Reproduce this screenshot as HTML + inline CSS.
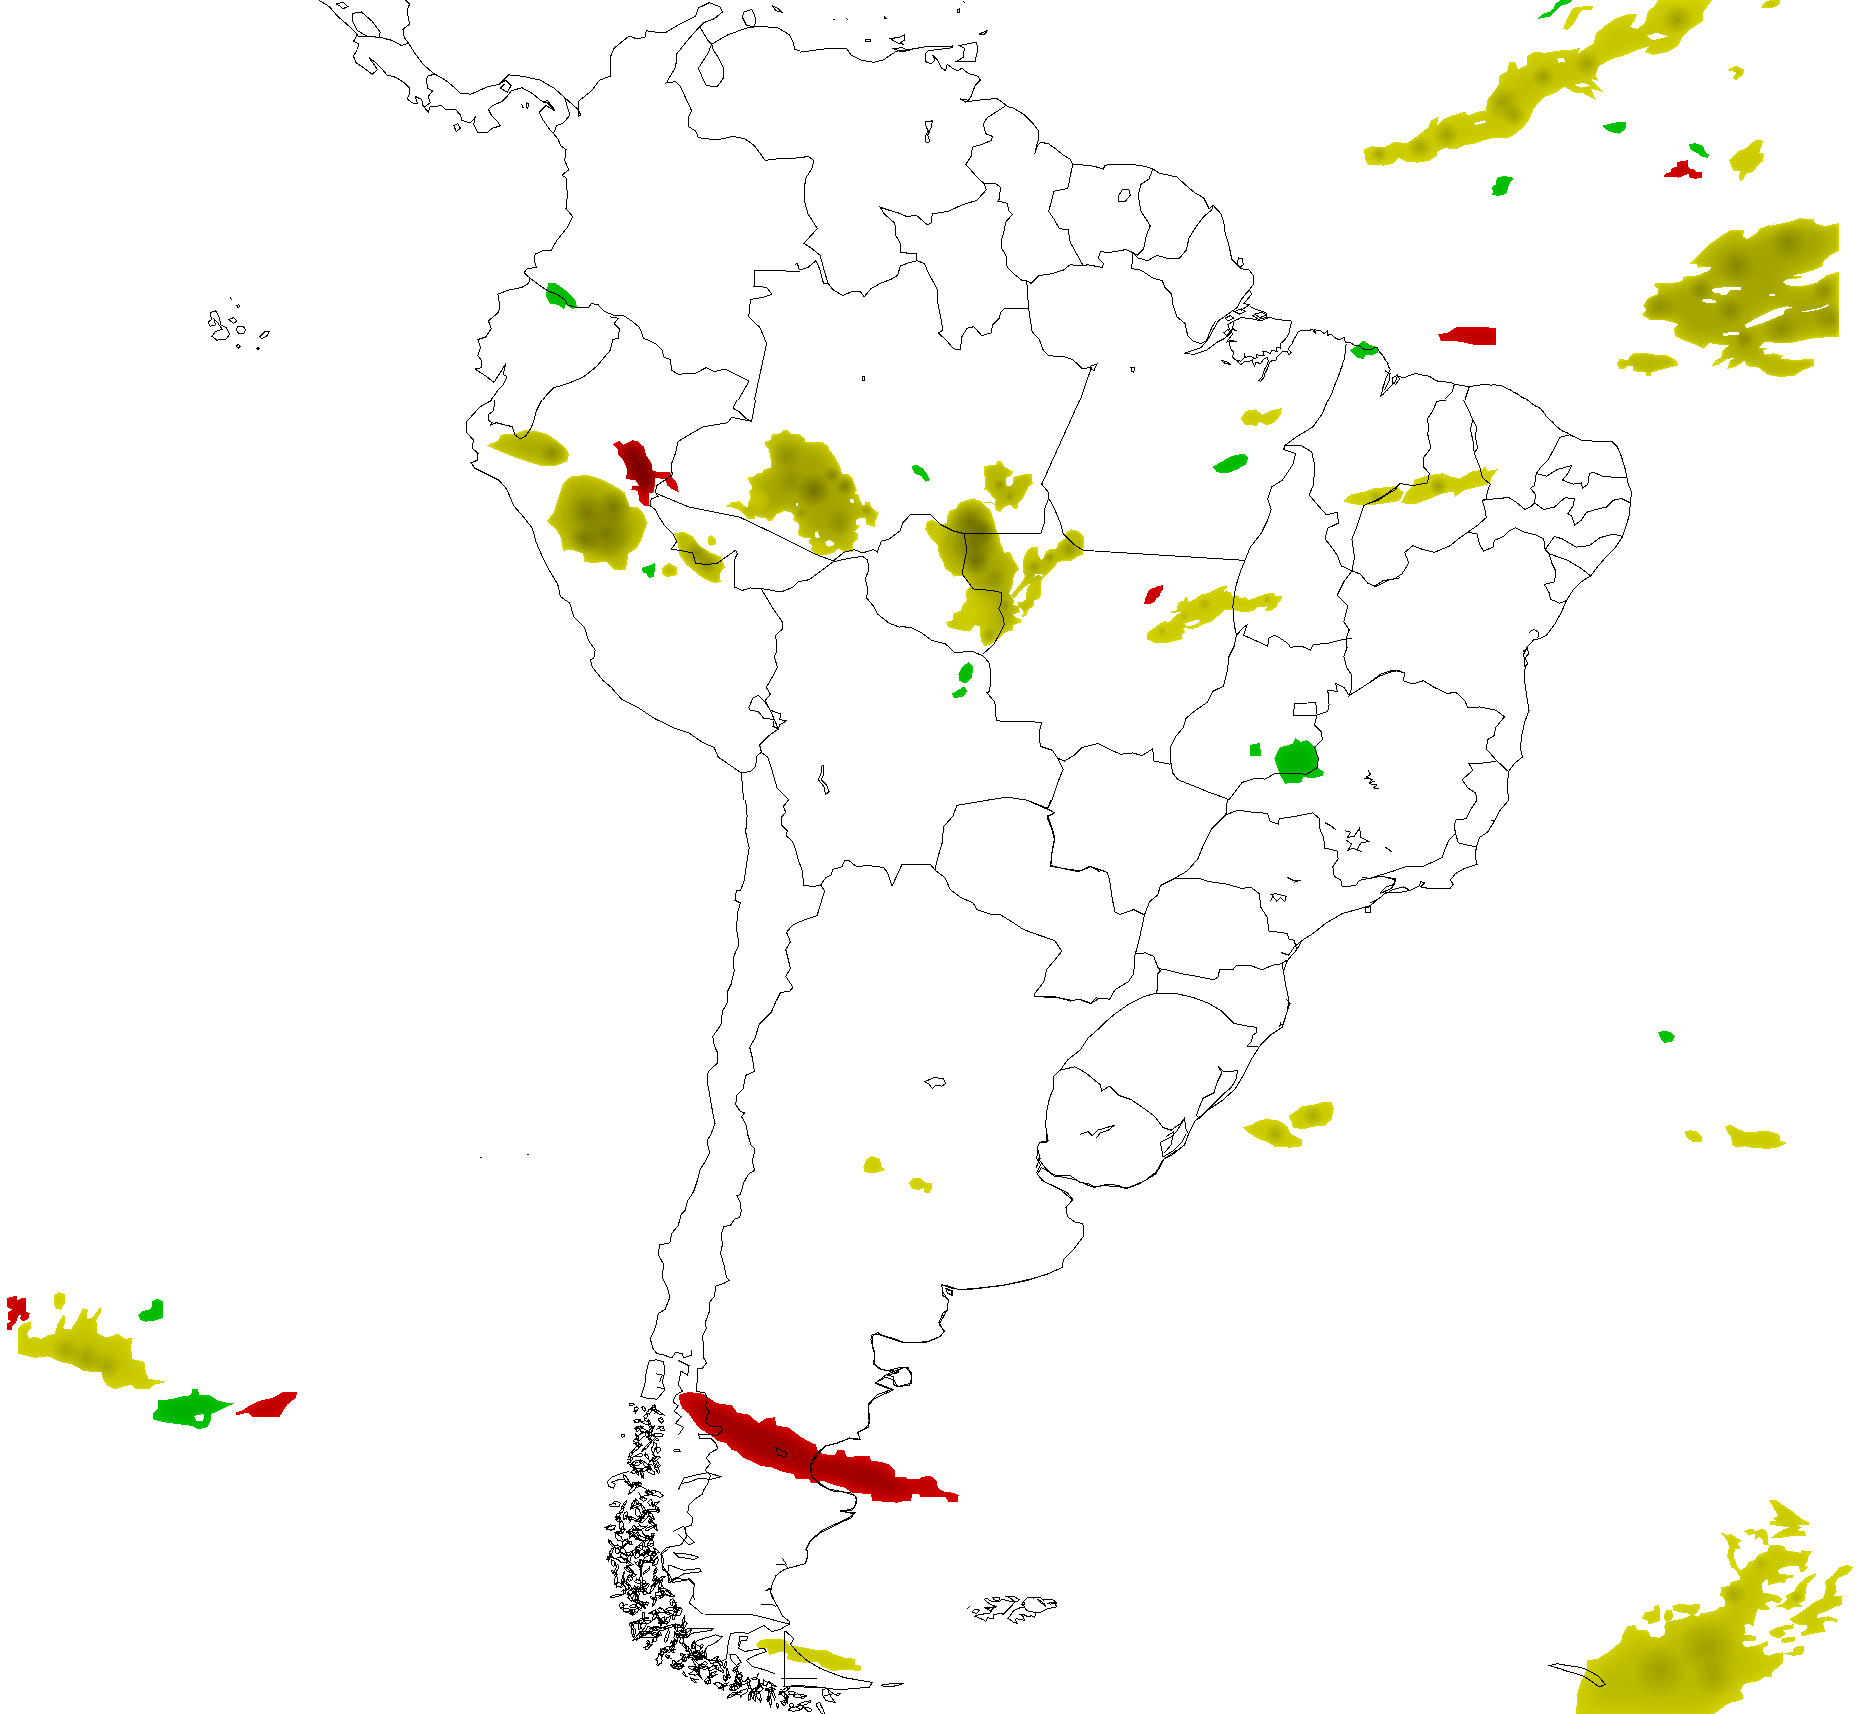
<!DOCTYPE html><html><head><meta charset="utf-8"><title>map</title><style>html,body{margin:0;padding:0;background:#fff}svg{display:block}</style></head><body>
<svg width="1870" height="1714" viewBox="0 0 1870 1714">
<defs>
<filter id="fo" filterUnits="userSpaceOnUse" x="0" y="0" width="1870" height="1714" color-interpolation-filters="sRGB">
<feGaussianBlur in="SourceAlpha" stdDeviation="3" result="b1"/>
<feComponentTransfer in="b1" result="t1"><feFuncA type="table" tableValues="0 0 0 0 0 0 0.25 0.55 0.8 0.95 1"/></feComponentTransfer>
<feGaussianBlur in="SourceAlpha" stdDeviation="10" result="b2"/>
<feComponentTransfer in="b2" result="t2"><feFuncA type="table" tableValues="0 0 0 0 0 0 0 0.1 0.35 0.7 1"/></feComponentTransfer>
<feFlood flood-color="rgb(186,186,0)" result="c1"/><feComposite in="c1" in2="t1" operator="in" result="l1"/>
<feFlood flood-color="rgb(163,163,0)" result="c2"/><feComposite in="c2" in2="t2" operator="in" result="l2"/>
<feMerge result="m"><feMergeNode in="SourceGraphic"/><feMergeNode in="l1"/><feMergeNode in="l2"/></feMerge>
<feComposite in="m" in2="SourceAlpha" operator="in"/>
</filter>
<filter id="fo2" filterUnits="userSpaceOnUse" x="0" y="0" width="1870" height="1714" color-interpolation-filters="sRGB">
<feGaussianBlur in="SourceAlpha" stdDeviation="4" result="b1"/>
<feComponentTransfer in="b1" result="t1"><feFuncA type="table" tableValues="0 0 0 0 0 0 0.25 0.55 0.8 0.95 1"/></feComponentTransfer>
<feGaussianBlur in="SourceAlpha" stdDeviation="14" result="b2"/>
<feComponentTransfer in="b2" result="t2"><feFuncA type="table" tableValues="0 0 0 0 0 0 0 0.1 0.35 0.7 1"/></feComponentTransfer>
<feFlood flood-color="rgb(202,202,0)" result="c1"/><feComposite in="c1" in2="t1" operator="in" result="l1"/>
<feFlood flood-color="rgb(186,186,0)" result="c2"/><feComposite in="c2" in2="t2" operator="in" result="l2"/>
<feMerge result="m"><feMergeNode in="SourceGraphic"/><feMergeNode in="l1"/><feMergeNode in="l2"/></feMerge>
<feComposite in="m" in2="SourceAlpha" operator="in"/>
</filter>
<filter id="fr" filterUnits="userSpaceOnUse" x="0" y="0" width="1870" height="1714" color-interpolation-filters="sRGB">
<feGaussianBlur in="SourceAlpha" stdDeviation="3" result="b1"/>
<feComponentTransfer in="b1" result="t1"><feFuncA type="table" tableValues="0 0 0 0 0 0 0.25 0.55 0.8 0.95 1"/></feComponentTransfer>
<feGaussianBlur in="SourceAlpha" stdDeviation="9" result="b2"/>
<feComponentTransfer in="b2" result="t2"><feFuncA type="table" tableValues="0 0 0 0 0 0 0 0.1 0.4 0.8 1"/></feComponentTransfer>
<feFlood flood-color="rgb(196,0,0)" result="c1"/><feComposite in="c1" in2="t1" operator="in" result="l1"/>
<feFlood flood-color="rgb(158,0,0)" result="c2"/><feComposite in="c2" in2="t2" operator="in" result="l2"/>
<feMerge result="m"><feMergeNode in="SourceGraphic"/><feMergeNode in="l1"/><feMergeNode in="l2"/></feMerge>
<feComposite in="m" in2="SourceAlpha" operator="in"/>
</filter>
<filter id="fg" filterUnits="userSpaceOnUse" x="0" y="0" width="1870" height="1714" color-interpolation-filters="sRGB">
<feGaussianBlur in="SourceAlpha" stdDeviation="3" result="b1"/>
<feComponentTransfer in="b1" result="t1"><feFuncA type="table" tableValues="0 0 0 0 0 0 0.25 0.55 0.8 0.95 1"/></feComponentTransfer>
<feGaussianBlur in="SourceAlpha" stdDeviation="8" result="b2"/>
<feComponentTransfer in="b2" result="t2"><feFuncA type="table" tableValues="0 0 0 0 0 0 0 0.1 0.4 0.8 1"/></feComponentTransfer>
<feFlood flood-color="rgb(0,185,0)" result="c1"/><feComposite in="c1" in2="t1" operator="in" result="l1"/>
<feFlood flood-color="rgb(0,175,0)" result="c2"/><feComposite in="c2" in2="t2" operator="in" result="l2"/>
<feMerge result="m"><feMergeNode in="SourceGraphic"/><feMergeNode in="l1"/><feMergeNode in="l2"/></feMerge>
<feComposite in="m" in2="SourceAlpha" operator="in"/>
</filter>
<radialGradient id="cl50"><stop offset="0" stop-color="rgb(214,214,0)" stop-opacity="0.5"/><stop offset="0.6" stop-color="rgb(214,214,0)" stop-opacity="0.3125"/><stop offset="1" stop-color="rgb(214,214,0)" stop-opacity="0"/></radialGradient>
<radialGradient id="cl60"><stop offset="0" stop-color="rgb(214,214,0)" stop-opacity="0.6"/><stop offset="0.6" stop-color="rgb(214,214,0)" stop-opacity="0.375"/><stop offset="1" stop-color="rgb(214,214,0)" stop-opacity="0"/></radialGradient>
<radialGradient id="cl80"><stop offset="0" stop-color="rgb(214,214,0)" stop-opacity="0.8"/><stop offset="0.6" stop-color="rgb(214,214,0)" stop-opacity="0.5"/><stop offset="1" stop-color="rgb(214,214,0)" stop-opacity="0"/></radialGradient>
<radialGradient id="cr50"><stop offset="0" stop-color="rgb(100,0,0)" stop-opacity="0.5"/><stop offset="0.5" stop-color="rgb(100,0,0)" stop-opacity="0.25"/><stop offset="1" stop-color="rgb(100,0,0)" stop-opacity="0"/></radialGradient>
<radialGradient id="cr60"><stop offset="0" stop-color="rgb(100,0,0)" stop-opacity="0.6"/><stop offset="0.5" stop-color="rgb(100,0,0)" stop-opacity="0.3"/><stop offset="1" stop-color="rgb(100,0,0)" stop-opacity="0"/></radialGradient>
<radialGradient id="cr80"><stop offset="0" stop-color="rgb(100,0,0)" stop-opacity="0.8"/><stop offset="0.5" stop-color="rgb(100,0,0)" stop-opacity="0.4"/><stop offset="1" stop-color="rgb(100,0,0)" stop-opacity="0"/></radialGradient>
<radialGradient id="cg20"><stop offset="0" stop-color="rgb(95,95,0)" stop-opacity="0.2"/><stop offset="0.5" stop-color="rgb(95,95,0)" stop-opacity="0.1"/><stop offset="1" stop-color="rgb(95,95,0)" stop-opacity="0"/></radialGradient>
<radialGradient id="cg25"><stop offset="0" stop-color="rgb(95,95,0)" stop-opacity="0.25"/><stop offset="0.5" stop-color="rgb(95,95,0)" stop-opacity="0.125"/><stop offset="1" stop-color="rgb(95,95,0)" stop-opacity="0"/></radialGradient>
<radialGradient id="cg30"><stop offset="0" stop-color="rgb(95,95,0)" stop-opacity="0.3"/><stop offset="0.5" stop-color="rgb(95,95,0)" stop-opacity="0.15"/><stop offset="1" stop-color="rgb(95,95,0)" stop-opacity="0"/></radialGradient>
<radialGradient id="cg35"><stop offset="0" stop-color="rgb(95,95,0)" stop-opacity="0.35"/><stop offset="0.5" stop-color="rgb(95,95,0)" stop-opacity="0.175"/><stop offset="1" stop-color="rgb(95,95,0)" stop-opacity="0"/></radialGradient>
<radialGradient id="cg40"><stop offset="0" stop-color="rgb(95,95,0)" stop-opacity="0.4"/><stop offset="0.5" stop-color="rgb(95,95,0)" stop-opacity="0.2"/><stop offset="1" stop-color="rgb(95,95,0)" stop-opacity="0"/></radialGradient>
<radialGradient id="cg45"><stop offset="0" stop-color="rgb(95,95,0)" stop-opacity="0.45"/><stop offset="0.5" stop-color="rgb(95,95,0)" stop-opacity="0.225"/><stop offset="1" stop-color="rgb(95,95,0)" stop-opacity="0"/></radialGradient>
<radialGradient id="cg50"><stop offset="0" stop-color="rgb(95,95,0)" stop-opacity="0.5"/><stop offset="0.5" stop-color="rgb(95,95,0)" stop-opacity="0.25"/><stop offset="1" stop-color="rgb(95,95,0)" stop-opacity="0"/></radialGradient>
<radialGradient id="cg60"><stop offset="0" stop-color="rgb(95,95,0)" stop-opacity="0.6"/><stop offset="0.5" stop-color="rgb(95,95,0)" stop-opacity="0.3"/><stop offset="1" stop-color="rgb(95,95,0)" stop-opacity="0"/></radialGradient>
<radialGradient id="cg70"><stop offset="0" stop-color="rgb(95,95,0)" stop-opacity="0.7"/><stop offset="0.5" stop-color="rgb(95,95,0)" stop-opacity="0.35"/><stop offset="1" stop-color="rgb(95,95,0)" stop-opacity="0"/></radialGradient>
<radialGradient id="cg75"><stop offset="0" stop-color="rgb(95,95,0)" stop-opacity="0.75"/><stop offset="0.5" stop-color="rgb(95,95,0)" stop-opacity="0.375"/><stop offset="1" stop-color="rgb(95,95,0)" stop-opacity="0"/></radialGradient>
</defs>
<rect width="1870" height="1714" fill="#fff"/>
<g filter="url(#fo)" fill="rgb(214,214,0)" fill-rule="evenodd" shape-rendering="crispEdges">
<path d="M1760.4,8 1765.7,1.3 1771.1,0 1780.4,0 1779.1,5.3 1771.1,8Z"/>
<path d="M1728.3,69.5 1736.3,65.5 1744.3,69.5 1743,74.9 1736.3,79.7 1732.3,78.9 1736.3,72.2 1729.6,70.9Z"/>
<path d="M1690.2,263.7 1698.2,255.1 1708.3,245 1722.7,234.9 1729.9,230.5 1744.4,229.8 1742.9,236.3 1747.3,239.2 1755.9,233.4 1760.3,228.4 1777.6,221.9 1768.9,226.2 1781.9,223.3 1792,221.1 1802.1,217.3 1805,219 1813.7,219 1815.1,223.3 1825.2,226.2 1839,223 1839,250.7 1831,255.1 1823.8,260.9 1822.4,266.6 1813.7,270.2 1802.1,273.8 1792,275.3 1801.4,276.4 1800.7,278.2 1786.3,279.6 1783.4,282.5 1787.7,285.4 1802.1,286.1 1816.6,282.5 1826.7,275.3 1839,271.7 1839,336.7 1825.2,337.4 1809.4,338.8 1794.9,342.4 1780.5,343.2 1764.6,341.7 1760.3,346 1758.8,348.2 1768.2,348.2 1763.2,350.4 1764.6,354.7 1773.3,353.3 1783.4,355.4 1780.5,359 1794.9,359.8 1813.7,359 1813.7,366.3 1802.1,370.6 1794.9,375.6 1780.5,377.1 1767.5,374.9 1758.8,367.7 1747.3,366.3 1744.4,360.5 1737.2,366.3 1727.1,369.1 1729.9,360.5 1735.7,357.6 1727.1,359 1718.4,364.8 1711.2,366.3 1715.5,360.5 1721.3,357.6 1722.7,350.4 1729.9,344.6 1718.4,344.6 1709.7,343.2 1704,348.9 1695.3,344.6 1683.7,340.3 1675.1,335.9 1673.6,328.7 1678,324.4 1672.2,322.2 1663.5,320.1 1650.5,320.1 1641.9,315 1646.2,309.9 1643.3,305.6 1647.6,298.4 1657.8,294.1 1657.8,288.3 1654.1,286.1 1655.6,282.5 1667.9,283.2 1675.1,282.5 1682.3,281.1 1683.7,276.7 1698.2,275.3 1709.7,270.2 1711.2,267.4 1702.5,266.6 1698.2,268.1 1696.7,264.5ZM1711.2,289 1719.8,287.6 1741.5,286.8 1740.8,289.7 1729.9,290.5 1727.1,294.1 1722.7,295.5 1718.4,292.6 1714.1,292.6ZM1701.1,299.8 1709.7,298.7 1715.5,300.6 1715.5,303.4 1706.8,302.7 1703.2,302ZM1745.1,324.4 1758.8,317.2 1773.3,309.9 1786.3,306.3 1793.5,307.1 1784.8,309.9 1783.4,314.3 1773.3,318.6 1758.8,324.4 1745.8,328.7ZM1768.2,294.8 1774.7,293.8 1774.7,295.5 1768.9,295.9ZM1722.7,333 1729.9,332.3 1738.6,332.3 1738.6,334.5 1727.1,335.6 1722.7,335.9ZM1802.1,311.4 1820.9,307.8 1828.1,304.2 1828.8,305.6 1820.9,309.2 1803.6,312.5Z"/>
<path d="M1617,363.4 1619.5,359 1627.4,359.8 1633.9,352.5 1643.3,352.5 1654.9,354.7 1666.4,355.4 1676.5,360.5 1678,365.5 1669.3,367.7 1657.8,370.6 1650.5,372.8 1650.5,376.4 1646.2,376.4 1646.2,372 1632.5,371.3 1632.5,366.3 1627.4,365.5 1624.5,369.1 1619.5,369.1Z"/>
<path d="M486.9,445.5 498.9,440.1 500.3,434.8 515,433.4 525.7,429.9 539,431.6 548.4,434.8 556.4,440.1 565.8,448.1 569,453.5 567.1,461.5 556.4,465.5 543,466.3 528.3,462 515,457.5 501.6,452.1 492.2,448.1Z"/>
<path d="M546.5,521.7 553.7,512.3 557.8,498.9 563.1,482.9 571.1,476.2 587.2,474.9 600.5,478.9 613.9,485.6 624.6,492.2 629.9,507 638,507 644.7,515 647.3,523 642,539 636.6,548.4 628.6,553.7 625.9,569.8 613.9,569.8 605.9,561.8 592.5,563.1 584.5,561.8 583.2,553.7 571.1,549.7 563.1,551.1 560.4,536.4 555.1,528.3Z"/>
<path d="M726.3,506.5 731.3,502 739.5,501.4 743.5,505.5 748.1,507.5 748.6,501.4 750.6,497.4 749.1,491.3 752.7,488.2 748.6,481.1 748.1,477.6 754.7,476 756.7,473.5 761.8,473 763.9,468.9 771.5,467.9 770.5,458.8 768.9,449.6 765.4,445.6 765.4,441.5 770.5,440 772,434.4 780.1,433.4 783.2,430.3 788.2,430.3 791.3,434.4 799.4,434.4 805,438.4 805.5,441.5 815.7,442.5 821.8,442 827.9,445.6 829.9,450.6 833.5,454.7 837,460.8 840.1,465.9 842.1,474 848.2,474 852.2,477.1 854.3,483.2 856.8,490.3 854.3,494.3 858.3,494.3 861.9,504.5 864.4,505 865.5,501.4 869.5,502 871.6,507.5 878.7,513.1 876.6,518.7 874.6,521.3 874.6,527.4 871.6,525.8 865.5,524.8 865.5,518.7 860.4,517.7 856.3,519.7 856.3,524.8 860.4,524.8 857.3,529.4 853.3,531.9 858.3,532.9 858.3,539 853.3,543.1 852.8,552.2 843.1,552.2 841.1,549.7 837,549.2 835,552.2 828.9,554.3 821.8,555.3 814.7,553.3 810.6,549.2 813.6,546.2 808.6,543.1 808.6,540.1 811.6,538 805,538.5 798.4,535 798.4,530.9 799.4,524.8 793.3,519.7 794.3,515.7 790.3,512.1 784.2,511.1 776,514.7 772,521.3 768.4,521.3 766.9,518.7 760.8,517.7 754.7,515.7 754.7,519.2 747.6,518.7 742.5,512.6 737.4,509.1 731.8,507.5ZM815.2,531.9 817.7,531.4 819.7,537 816.7,538.5 815.2,536ZM824.8,542.1 828.9,540.1 834,542.1 834.5,545.1 829.9,546.7 826.8,545.6ZM850.2,499.4 853.3,498.9 853.8,502.5 850.7,503ZM795.9,503 797.9,503 797.9,506 796.2,505.5Z"/>
<path d="M674.1,533.7 683.4,531.6 692.8,536.4 699.5,545.7 710.2,552.4 720.9,556.4 724.9,567.1 719.5,573.8 720.9,581.8 714.2,583.2 702.1,577.8 694.1,571.1 686.1,564.4 679.4,555.1 678.1,544.4Z"/>
<path d="M707.5,537.7 711.5,535 716,539 715.5,544.4 710.2,545.7 707.5,543Z"/>
<path d="M662,567.9 668.7,563.1 676.7,567.1 677.5,575.1 667.4,577 662.6,575.1Z"/>
<path d="M984.2,466.3 990,465.2 995.8,464.6 997.6,460.5 1001.7,461.7 1004,466.3 1008.7,469.2 1012.7,471.6 1012.2,474.5 1006.3,478 1005.7,485 1009.8,486.2 1012.7,483.8 1013.3,476.8 1020.3,475.1 1025,473.9 1029.1,474.5 1032,473.3 1032.6,483.8 1028.5,487.3 1025,494.3 1022.7,499 1018,503.1 1017.4,509.5 1013.3,508.3 1009.8,504.8 1004,507.2 1000.5,511.8 995.8,510.7 994.7,504.8 990,502.5 983,502.5 990,501.3 994.7,503.7 995.8,500.2 992.3,496.7 987.7,490.8 984.2,489.7 985.3,483.8 984.2,473.3Z"/>
<path d="M925.2,529.3 927,521.2 932.8,520 937.5,522.3 941,524.7 946.8,522.9 947.4,516.5 949.2,510.7 956.2,508.3 959.7,502.5 966.7,500.2 973.7,498.4 980.7,501.3 985.3,506 990,509.5 992.3,515.3 994.7,522.3 995.8,529.3 999.3,534 999.9,542.2 1002.8,548 1004,553.8 1006.9,552.1 1011,552.7 1013.3,559.7 1017.4,565.5 1019.2,569 1015.7,572.5 1013.3,578.3 1012.2,587.7 1008.7,593.5 1011,595.8 1013.9,600.5 1013.3,605.2 1019.2,606.3 1019.7,612.2 1013.3,614.5 1016.8,618 1021.5,619.2 1020.9,622.7 1013.3,625 1012.7,630.2 1006.3,632 1001.7,635.5 998.2,639 994.7,641.3 990,644.8 984.7,646 980.7,641.3 980.1,626.2 974.8,625 970.2,631.4 959.7,630.2 948,627.3 946.2,622.1 953.2,620.3 953.2,613.3 960.8,611 963.2,604 966.7,600.5 966.1,591.2 970.2,585.9 966.7,580.7 963.2,576 953.8,576.6 950.9,572.5 945.1,569 943.3,562 938.7,555 938.1,545.7 931.1,538.7 928.2,534Z"/>
<path d="M1071.7,529.3 1078.7,531.1 1083.9,536.9 1083.9,544.5 1082.7,555 1076.3,557.3 1070.5,561.4 1064.7,560.8 1057.7,562 1055.3,566.7 1049.5,572.5 1043.7,577.2 1041.3,573.7 1035.5,573.7 1029.7,573.7 1025,576 1022.7,571.3 1022.7,565.5 1023.8,557.3 1027.3,550.3 1032,546.8 1037.8,547.4 1037.8,553.8 1041.3,560.8 1043.7,557.3 1046,551.5 1050.7,548.6 1055.9,549.2 1058.8,542.2 1064.7,538.7 1065.8,532.8Z"/>
<path d="M1025,576 1029.7,573.7 1035.5,573.7 1033.7,577.2 1030.8,583 1025,586.5 1020.3,591.2 1014.5,598.2 1011,595.8 1014.5,591.2 1019.2,585.3 1022.7,580.7Z"/>
<path d="M1043.7,577.2 1041.3,581.8 1041.3,592.3 1040.2,598.2 1034.3,600.5 1033.7,606.3 1028.5,609.8 1026.2,615.7 1021.5,617.4 1023.8,612.2 1021.5,608.7 1018,606.3 1017.4,601.7 1022.7,601.7 1026.2,599.3 1026.7,588.8 1030.8,583 1033.7,577.2 1037.8,574.8Z"/>
</g>
<g filter="url(#fo2)" fill="rgb(214,214,0)" fill-rule="evenodd" shape-rendering="crispEdges">
<path d="M1364.2,149.2 1371.6,146.3 1385,147.3 1394.7,141.5 1406.2,143.4 1417.8,135.7 1428.3,127.1 1431.2,120.3 1438.9,116.5 1437,125.1 1442.8,119.4 1452.4,115.5 1464.9,111.7 1467.8,115.5 1479.4,111.3 1486.1,110.7 1487.1,100.1 1494.8,90.5 1498.6,84.7 1499.6,75.1 1507.3,71.2 1509.2,61.6 1515.9,62.6 1517.9,69.3 1526.5,65.5 1527.5,55.8 1534.2,51.6 1544.8,52.9 1560.2,50.4 1571.8,49.7 1580.4,47.7 1577.6,53.9 1587.2,47.2 1593.9,43.3 1595.8,33.7 1604.5,26 1616.1,18.3 1627.6,14.4 1637.2,13.5 1634.4,21.2 1629.5,27 1637.2,28.9 1644.9,23.1 1647.8,11.6 1654.6,5.8 1658.4,0 1712.3,0 1706.6,7.7 1703.7,10.6 1702.7,21.2 1691.2,28.9 1683.5,35.6 1677.7,46.2 1668,52 1652.6,54.9 1644.9,52 1648.8,46.2 1637.2,50.1 1625.7,54.9 1610.3,59.7 1598.7,66.4 1595.8,75.1 1598.7,80.9 1591,78.9 1598.7,87.6 1604.5,92.4 1591,88.6 1595.8,100.1 1583.3,93.4 1573.7,92.4 1564.1,86.6 1556.4,92.4 1544.8,97.2 1539.1,102 1533.3,109.7 1529.4,119.4 1523.7,127.1 1514,134.8 1506.3,138.6 1494.8,137.7 1483.2,140.5 1475.5,143.4 1464,145.4 1456.3,149.2 1444.7,148.2 1437,152.1 1437,155.9 1429.3,160.8 1417.8,162.7 1406.2,161.7 1398.5,157.9 1392.7,163.7 1383.1,165.6 1367.7,164.6 1364.8,157.9ZM1556.4,58.7 1564.1,57.8 1565,61.6 1559.3,62.6ZM1473.6,123.2 1485.1,120.3 1486.1,122.3 1475.5,125.1ZM1646.9,35.6 1656.5,32.7 1668,36.6 1660.3,38.5 1652.6,40.4ZM1573.7,84.7 1583.3,82.8 1591,85.7 1581.4,87.6Z"/>
<path d="M1563.1,28.9 1567,19.3 1571.8,9.6 1575.6,6.7 1593,6.2 1592,9.6 1581.4,10.6 1577.6,16.4 1573.7,24.1 1567.9,29.8Z"/>
<path d="M1729,161 1733.5,156.2 1738.3,151.3 1746.3,148.1 1751.1,143.3 1756.8,139.3 1763.2,140.9 1761.6,146.5 1759.2,152.9 1764,153.7 1763.2,161 1757.6,165.8 1752.7,172.2 1746.3,173.8 1743.1,180.2 1739.9,181.8 1739.1,175.4 1740.7,170.6 1733.5,170.6 1731.1,165.8Z"/>
<path d="M1240.4,418.7 1246.3,410.7 1255.6,409.4 1262.3,414.7 1270.3,410.7 1281.8,408 1281,414.7 1274.3,422.7 1266.3,425.4 1259.6,421.4 1257,425.9 1244.9,424.6Z"/>
<path d="M1147.3,632.7 1153.6,628.2 1160,623.6 1164.5,621.4 1170,621.8 1172.7,618.2 1177.3,614.5 1180.9,612.3 1171.4,612.7 1171.4,611.4 1176.4,610.5 1178.2,602.7 1183.6,600.5 1185.5,597.3 1188.2,597.7 1188.2,601.8 1193.6,600 1200.9,594.5 1207.3,593.2 1215.5,589.1 1220.9,586.8 1226.4,585 1226.8,587.3 1222.7,592.7 1226.4,590.9 1230.9,592.3 1232.7,596.4 1237.3,595 1240,598.2 1245.5,597.3 1248.2,600 1256.4,597.3 1263.6,594.5 1270,593.2 1274.5,593.5 1275.5,595.9 1281.8,596.4 1281.4,600 1278.2,602.7 1276.4,607.3 1270.9,610.5 1265.5,610.5 1267.3,606.4 1257.3,607.3 1252.7,611.4 1241.8,611.8 1233.6,610 1225.5,609.5 1220.9,613.6 1216.4,617.3 1211.8,621.8 1202.7,624.5 1197.3,627.7 1190,629.5 1185.5,627.7 1182.7,629.1 1185.5,631.8 1181.8,634.5 1182.7,639.1 1175.5,640.9 1168.2,642.7 1154.5,642.7 1147.3,639.5ZM1184.5,623.6 1193.6,620.5 1200,620 1199.1,622.7 1193.6,625 1186.4,626.4Z"/>
<path d="M1343,501.1 1350.5,494.7 1365.5,491.4 1374.1,488.2 1386.9,487.2 1397.6,485.7 1399.7,489.3 1404,492.5 1399.7,500 1397.6,501.1 1386.9,503.2 1369.8,505.3 1352.7,504.3Z"/>
<path d="M1400.8,503.2 1406.1,492.5 1412.6,486.1 1414.7,479.7 1427.5,475.4 1442.5,473.3 1451.1,476.5 1459.6,478.6 1472.5,471.1 1481,470.1 1485.3,466.8 1487.4,471.1 1498.1,469 1491.7,477.5 1489.6,484 1481,486.1 1463.9,490.4 1455.3,496.8 1453.2,491.4 1442.5,493.6 1429.7,498.9 1414.7,504.3Z"/>
<path d="M863.4,1167.6 866,1159.6 871.4,1156.1 879.4,1158.3 882.1,1167.6 885.6,1169.8 879.4,1172.2 870.1,1173.5 864.2,1171.7Z"/>
<path d="M908.8,1182.4 914.2,1177.5 920.9,1178.3 924.9,1182.4 931.6,1182.9 931.6,1189 929.4,1193.6 924.9,1193 923.5,1187.7 918.2,1190.4 911.5,1188.2Z"/>
<path d="M1243.3,1127.5 1251.3,1124.9 1258,1120.9 1266,1119 1278.1,1120.3 1286.1,1124.9 1291.4,1134.2 1302.1,1139.6 1302.1,1146.3 1291.4,1147.6 1275.4,1147.1 1267.4,1142.2 1256.7,1138.2 1248.7,1132.9Z"/>
<path d="M1288.2,1116 1295.5,1111.5 1302.1,1106.1 1315.5,1104.3 1323.5,1101.6 1331.6,1102.1 1333.7,1108.8 1331.6,1119.5 1324.9,1125.7 1312.8,1126.7 1302.1,1129.4 1292.8,1127.5 1291.4,1120.9Z"/>
<path d="M1684.2,1131.6 1690.9,1130.2 1697.5,1131.6 1702.1,1136.4 1701.6,1141.7 1692.2,1141.7 1686.8,1137.4Z"/>
<path d="M1725.1,1126.2 1731,1124.9 1737.6,1128.9 1744.3,1131.6 1755,1131.6 1768.4,1131 1779.1,1134.2 1780.4,1140.9 1787.6,1142.8 1779.1,1147.1 1768.4,1148.9 1755,1148.1 1744.3,1146.3 1737.6,1147.6 1732.3,1144.9 1731,1136.9 1727,1131.6Z"/>
<path d="M54.3,1294.9 58.8,1292.2 65,1294.1 65,1302.9 61,1309.6 56.1,1309.1 53.5,1302.9Z"/>
<path d="M18.2,1328.3 24.1,1323 31.6,1321.7 30.7,1328.3 26.7,1333.7 29.4,1339 34.8,1336.4 41.4,1339 48.1,1335 54.8,1333.7 57.5,1324.3 64.2,1313.6 65.5,1321.7 62.8,1328.3 70.9,1329.7 77.5,1319 82.9,1308.3 87.7,1309.6 86.9,1319 92.2,1317.6 100.3,1307 101.6,1311 96.3,1320.3 97.6,1333.7 107,1337.7 117.6,1333.7 125.7,1339 132.9,1337.7 131,1345.7 132.4,1359.1 144.4,1361.8 145.7,1371.1 148.4,1379.1 155.1,1379.7 167.1,1381.8 155.1,1384.5 149.7,1388.5 136.4,1389.3 131,1384.5 115,1389.3 107,1385.8 102.9,1379.1 101.6,1372.5 84.2,1371.1 72.2,1364.4 60.2,1361.8 48.1,1356.4 34.8,1357.8 22.7,1355.1 18.2,1353.7Z"/>
<path d="M755.9,1644.2 761.2,1639.7 774.6,1638.9 785.3,1639.7 789.3,1645.6 801.3,1646.9 814.7,1649.6 825.4,1649.6 833.4,1654.1 844.1,1657.6 854.8,1658.9 854.8,1664.3 861.5,1666.4 860.2,1671 844.1,1669.6 833.4,1671 822.7,1666.9 817.4,1661.6 806.7,1662.9 796,1661.6 786.6,1658.9 788,1654.1 782.6,1651.4 769.3,1654.9 766.6,1648.2 758.6,1648.2Z"/>
<path d="M1575.9,1717.7 1577.2,1693.7 1581.2,1680.3 1586.6,1669.6 1586.6,1660.3 1597.3,1658.9 1608,1652.2 1621.3,1641.5 1622.7,1634.4 1627.4,1626.4 1634.7,1625 1638,1630.4 1647.4,1630.4 1651.4,1637.1 1660.1,1637.7 1665.5,1633 1664.1,1626.4 1666.1,1622.4 1673.5,1620.3 1684.2,1618.3 1692.9,1614.3 1697.5,1617 1700.2,1613.7 1708.2,1612.3 1716.3,1610.3 1719.6,1607 1725.6,1606.3 1724.3,1598.3 1720.3,1595.6 1720.9,1587.6 1729.6,1585.6 1731,1582.2 1740.3,1579.6 1739,1572.9 1741,1570.2 1746.3,1566.2 1748.3,1562.2 1755,1559.5 1759,1554.2 1767.1,1551.5 1769.7,1545.5 1777.8,1544.8 1784.4,1546.1 1785.1,1550.2 1800.5,1552.8 1801.8,1550.2 1811.8,1551.5 1808.5,1556.8 1807.2,1562.2 1804.5,1564.9 1807.8,1567.5 1803.8,1572.2 1799.8,1571.6 1799.1,1566.2 1791.1,1565.5 1783.1,1567.5 1777.8,1570.2 1779.1,1574.2 1793.8,1574.9 1793.1,1577.6 1785.8,1578.9 1785.1,1583.6 1780.4,1582.2 1772.4,1584.3 1768.4,1584.9 1767.1,1578.2 1761.7,1583.6 1762.4,1588.9 1763,1592.9 1769.7,1593.6 1777.8,1595.6 1782.4,1599 1779.1,1603.6 1771.1,1601 1764.4,1603.6 1771.1,1609 1764.4,1610.3 1757.7,1609 1755,1617 1753.7,1626.4 1748.3,1623.7 1744.3,1625 1745.7,1633 1743,1635.1 1756.4,1635.7 1756.4,1640.4 1745.7,1641.1 1741.7,1642.4 1745.7,1647.1 1755,1645.7 1761.7,1643.7 1767.1,1641.1 1768.4,1645.1 1763,1648.4 1763.7,1653.8 1768.4,1655.8 1776.4,1653.1 1783.1,1652.4 1783.1,1662.5 1777.8,1667.8 1772.4,1671.8 1771.7,1676.5 1764.4,1677.2 1757.7,1681.2 1744.3,1683.9 1740.3,1690.5 1743,1694.5 1743.7,1698.6 1737.6,1701.2 1731,1702.6 1725.6,1705.2 1718.9,1710.6 1713.6,1714.1 1712.2,1719.9Z"/>
<path d="M1769.1,1500 1776.4,1500 1784.4,1506 1792.5,1511.4 1800.5,1518.1 1808.5,1522.1 1808.5,1524.8 1797.8,1525.4 1801.8,1527.4 1796.5,1530.1 1805.2,1531.4 1805.8,1536.1 1793.8,1535.5 1787.1,1536.8 1780.4,1538.1 1771.1,1537.5 1777.8,1532.8 1784.4,1528.8 1789.8,1527.4 1780.4,1526.1 1770.4,1524.8 1770.4,1521.4 1776.4,1520.7 1772.4,1518.7 1778.4,1516.1 1773.1,1507.4Z"/>
<path d="M1744.3,1531.4 1748.3,1529.4 1753.7,1529.4 1755,1531.4 1761.7,1529 1765.7,1530.1 1768.4,1536.8 1768.4,1543.5 1769.7,1545.5 1763.7,1544.8 1763,1540.8 1759,1536.8 1755,1540.8 1755,1534.1 1748.3,1534.8Z"/>
<path d="M1720.3,1532.1 1727,1534.8 1731,1534.1 1736.3,1537.5 1741.7,1540.8 1737.6,1543.5 1741,1548.2 1735,1549.5 1733.6,1556.8 1735,1559.5 1737.6,1567.5 1741,1570.2 1739,1575.6 1735,1568.9 1731,1567.5 1729,1559.5 1727,1556.8 1729,1546.1 1726.3,1539.5Z"/>
<path d="M1785.8,1595.6 1793.8,1591.6 1799.1,1583.6 1807.2,1576.9 1816.5,1572.9 1813.9,1578.2 1807.2,1583.6 1805.8,1591.6 1804.5,1601 1799.1,1603.6 1803.2,1606.3 1792.5,1607.6 1788.4,1610.3 1783.1,1607.6 1775.1,1606.3 1783.1,1603.6 1787.1,1599.6Z"/>
<path d="M1789.1,1619 1797.8,1614.3 1807.2,1607.6 1813.9,1602.3 1823.2,1598.3 1825.9,1588.9 1825.2,1580.9 1832.6,1575.6 1839.3,1567.5 1847.3,1564.9 1853.3,1567.5 1847.3,1574.2 1837.9,1578.2 1835.2,1583.6 1836.6,1591.6 1833.9,1596.3 1842.6,1596.3 1841.9,1605 1833.9,1607.6 1825.9,1611.7 1817.9,1614.3 1816.5,1618.3 1828.6,1616.3 1837.9,1619.7 1837.2,1621.7 1825.9,1621 1823.2,1623.7 1825.2,1631.7 1812.5,1633.7 1802.5,1636.4 1800.5,1633 1807.2,1629 1807.2,1625 1799.1,1625 1792.5,1622.4Z"/>
<path d="M1768.4,1631.7 1776.4,1627.7 1785.8,1625 1793.8,1624.4 1792.5,1629 1783.1,1630.4 1785.8,1633.7 1781.8,1637.1 1777.8,1638.4 1771.1,1635.7Z"/>
<path d="M1783.1,1637.7 1795.1,1637.1 1795.1,1641.1 1784.4,1643.1 1780.4,1641.1Z"/>
<path d="M1793.8,1648.4 1797.8,1645.7 1804.5,1646.4 1803.2,1654.4 1793.8,1655.8 1783.1,1653.8 1792.5,1651.8Z"/>
<path d="M1641.4,1619 1644.7,1612.3 1653.4,1611 1654.1,1606.3 1659.4,1605 1660.1,1621 1648.7,1624.4 1647.4,1620.3Z"/>
<path d="M1663.4,1617 1666.1,1610.3 1671.5,1610.3 1673.5,1615.7 1671.5,1619.7 1666.1,1622.4Z"/>
<path d="M1672.1,1606.3 1680.2,1603.6 1689.5,1605 1700.2,1603.6 1700.2,1607.6 1696.9,1613 1692.2,1615.7 1686.8,1613 1678.8,1612.3 1673.5,1610.3Z"/>
</g>
<g filter="url(#fg)" fill="rgb(0,200,0)" fill-rule="evenodd" shape-rendering="crispEdges">
<path d="M1537.1,19.3 1541.9,14.4 1549.6,11.6 1553.5,8.7 1555.4,3.9 1561.2,0 1571.8,0 1570.8,2.3 1564.1,4.8 1559.3,6.7 1556.4,10.6 1550.6,16.4 1541,18.3Z"/>
<path d="M1602.1,125.7 1610.6,123.5 1620,121.7 1626.1,122.5 1625.3,129.7 1618.7,133.7 1612,132.4 1605.3,128.9Z"/>
<path d="M1689,144.4 1694.9,143 1702.9,145.7 1705.6,152.4 1709.6,155.1 1707.4,157.8 1701.6,156.4 1696.2,152.4 1690.9,149.7Z"/>
<path d="M1491.7,187.2 1495.7,184.5 1497,177.8 1503.7,175.9 1513.9,177.8 1509,184.5 1506.4,193.9 1498.3,196 1491.7,194.7 1493,191.2Z"/>
<path d="M545.7,295.5 548.4,283.4 555.1,282.9 561.8,287.4 568.4,292.8 575.1,299.5 577,307.5 572.5,308.8 565.8,304.8 563.9,308.8 557.8,304.8 549.7,303.5Z"/>
<path d="M642,567.9 648.7,565.8 655.3,563.1 654,577 648.7,577.8 646.5,573.8 642.8,572.5Z"/>
<path d="M911.2,466.8 916,464.7 922.7,468.2 926.7,473.5 929.9,480.2 925.4,481.6 921.4,476.2 914.7,473.5Z"/>
<path d="M1212.8,466.8 1220.9,462 1231.6,456.1 1243.6,453.5 1248.1,457.5 1246.3,464.2 1236.9,469.5 1226.2,473.5 1216.8,472.2Z"/>
<path d="M958.3,674.1 962.8,666 969,662 973.5,667.4 971.7,678.1 965.5,683.4 959.4,680.7Z"/>
<path d="M951.3,694.1 960.2,688.8 964.2,686.1 967.4,691.4 962.8,696.8 954.8,698.1Z"/>
<path d="M1249.7,744.9 1259.6,743 1261.5,755.6 1249.7,755.6Z"/>
<path d="M1274.3,758.3 1279.7,747.6 1293,743.6 1295.2,738.2 1301.1,742.2 1306.4,739.6 1315.8,747.6 1318.4,758.3 1317.1,767.6 1323.8,771.7 1322.5,775.7 1313.1,778.3 1303.7,777 1301.1,782.4 1285,783.7 1279.7,774.3 1277,766.3Z"/>
<path d="M1349.5,350.3 1357,346 1363.4,340.6 1369.8,344.9 1377.3,347.1 1378.3,352.4 1371.9,355.6 1365.5,354.5 1363.4,358.8 1357,357.8 1352.7,353.5Z"/>
<path d="M1658.2,1032.6 1664.1,1030.5 1670.8,1032.1 1674.8,1036.6 1672.1,1042 1664.1,1042.8 1660.9,1039.3Z"/>
<path d="M138.2,1315.5 143,1311 151.1,1309.1 152.4,1301.1 157.8,1298.9 162.6,1301.1 162.6,1317.6 156.4,1320.3 145.7,1321.7 140.4,1319.8Z"/>
<path d="M152.4,1413.9 157.8,1408.6 157.8,1400.5 171.1,1399.2 181.8,1396.5 191.2,1395.2 192,1389.3 197.9,1389.3 199.2,1394.7 209.9,1395.2 217.9,1400.5 227.3,1402.7 234.8,1403.2 227.3,1406.4 217.9,1411.2 211.2,1413.9 211.2,1419.3 207.2,1427.3 197.9,1429.4 192.5,1425.9 181.8,1424.6 165.8,1422.5 153.7,1419.8ZM193.9,1416 204.5,1413.9 203.2,1420.6 196.5,1421.4Z"/>
</g>
<g filter="url(#fr)" fill="rgb(218,0,0)" fill-rule="evenodd" shape-rendering="crispEdges">
<path d="M1664,175.4 1666.1,173 1670.9,172.2 1671.7,168.2 1676.5,166.6 1676.5,162.6 1682.1,161 1687.8,160.2 1688.6,168.2 1694.2,169.3 1696.6,172.2 1702.2,172.5 1701.9,177.8 1695.8,178.6 1690.2,178.3 1688.6,174.1 1683.8,175.4 1678.9,177.8 1675.7,176.7 1664,177Z"/>
<path d="M1438.2,334.2 1447.5,332.9 1455.6,327.5 1468.9,326.7 1495.7,327.8 1495.7,344.9 1487.6,345.5 1471.6,344.4 1460.9,341.7 1450.2,340.9 1440.9,340.9Z"/>
<path d="M613.1,444.1 619.3,440.6 623.3,444.9 632.6,440.1 638,441.4 643.9,446.8 646,454.8 651.3,462.8 652.7,470.9 660.7,472.2 670.1,471.7 672.2,477.5 676.7,482.9 678.9,492.2 672.7,489.6 667.4,485.6 664.7,478.9 655.3,478.1 654,492.2 648.7,493.6 649.2,505.6 644.7,506.4 639.3,500.3 638,490.9 631.3,489.6 632.1,485.6 639.3,485.6 635.3,480.2 625.9,478.9 627.3,469.5 623.3,460.2 617.9,454.8 617.9,449.5Z"/>
<path d="M1144.1,603.6 1145.5,598.2 1148.2,591.4 1150.9,589.1 1157.3,586.4 1162.7,585 1163.2,589.1 1160.9,591.8 1159.5,596.4 1156.4,598.2 1155,601.8 1150.9,603.6Z"/>
<path d="M7,1298.2 11.6,1296.6 17.4,1296.2 16.6,1300.7 20.7,1298.6 25.7,1297.9 26.2,1311.5 29.8,1313.2 28.2,1319 23.2,1321.4 19.9,1318.1 21.6,1314.8 18.2,1315.6 15.7,1323.1 12.4,1325.6 12.4,1329.7 7,1329.7 7,1323.1 11.6,1321.4 7.5,1319 7.5,1312.3 12.4,1309.8 7.5,1307.4Z"/>
<path d="M236.1,1412.6 243.3,1409.9 248.7,1405.9 260.7,1400.5 272.7,1397.9 282.1,1392.5 296.8,1392 296.3,1397.3 287.4,1404.5 282.9,1411.2 279.4,1417.1 252.7,1417.1 248.7,1412.6 242,1413.9 236.6,1415.5Z"/>
<path d="M679.1,1394.7 689,1392 703.7,1393.9 710.4,1399.2 717.1,1403.2 731.8,1405.3 737.2,1412.6 749.2,1414.7 758.6,1423.3 766.6,1417.9 774.6,1417.4 776.7,1425.9 788,1427.3 798.7,1435.3 806.7,1440.6 816,1444.7 817.4,1450 822.7,1454 834.8,1455.3 837.4,1450 844.1,1450.5 846.8,1456.7 869.5,1456.1 870.9,1460.7 881.6,1462 889.6,1464.7 894.9,1470.1 894.9,1476.7 905.6,1476.7 908.3,1479.4 919,1479.4 921.7,1476.7 931,1476.2 936.4,1480.7 937.7,1487.4 943,1491.4 953.7,1492.8 958.6,1495.5 957.8,1501.6 948.4,1501.6 945.7,1497.3 920.3,1497.3 919,1494.1 912.3,1493.6 911,1500.8 904.3,1500.8 897.6,1502.7 872.2,1500.8 870.9,1494.1 852.1,1492.8 844.1,1487.4 833.4,1484.8 822.7,1480.7 816,1482.9 810.7,1482.9 809.4,1479.4 796,1479.4 793.3,1474.1 781.3,1471.4 771.9,1467.4 761.2,1466 753.2,1462 743.9,1458 737.2,1451.3 731.8,1450 726.5,1443.3 717.1,1440.6 710.4,1434.8 699.7,1428.6 694.4,1421.9 689,1413.9 682.4,1408.6 679.7,1401.9Z"/>
</g>
<clipPath id="oc"><path d="M1760.4,8 1765.7,1.3 1771.1,0 1780.4,0 1779.1,5.3 1771.1,8Z" clip-rule="evenodd"/><path d="M1728.3,69.5 1736.3,65.5 1744.3,69.5 1743,74.9 1736.3,79.7 1732.3,78.9 1736.3,72.2 1729.6,70.9Z" clip-rule="evenodd"/><path d="M1690.2,263.7 1698.2,255.1 1708.3,245 1722.7,234.9 1729.9,230.5 1744.4,229.8 1742.9,236.3 1747.3,239.2 1755.9,233.4 1760.3,228.4 1777.6,221.9 1768.9,226.2 1781.9,223.3 1792,221.1 1802.1,217.3 1805,219 1813.7,219 1815.1,223.3 1825.2,226.2 1839,223 1839,250.7 1831,255.1 1823.8,260.9 1822.4,266.6 1813.7,270.2 1802.1,273.8 1792,275.3 1801.4,276.4 1800.7,278.2 1786.3,279.6 1783.4,282.5 1787.7,285.4 1802.1,286.1 1816.6,282.5 1826.7,275.3 1839,271.7 1839,336.7 1825.2,337.4 1809.4,338.8 1794.9,342.4 1780.5,343.2 1764.6,341.7 1760.3,346 1758.8,348.2 1768.2,348.2 1763.2,350.4 1764.6,354.7 1773.3,353.3 1783.4,355.4 1780.5,359 1794.9,359.8 1813.7,359 1813.7,366.3 1802.1,370.6 1794.9,375.6 1780.5,377.1 1767.5,374.9 1758.8,367.7 1747.3,366.3 1744.4,360.5 1737.2,366.3 1727.1,369.1 1729.9,360.5 1735.7,357.6 1727.1,359 1718.4,364.8 1711.2,366.3 1715.5,360.5 1721.3,357.6 1722.7,350.4 1729.9,344.6 1718.4,344.6 1709.7,343.2 1704,348.9 1695.3,344.6 1683.7,340.3 1675.1,335.9 1673.6,328.7 1678,324.4 1672.2,322.2 1663.5,320.1 1650.5,320.1 1641.9,315 1646.2,309.9 1643.3,305.6 1647.6,298.4 1657.8,294.1 1657.8,288.3 1654.1,286.1 1655.6,282.5 1667.9,283.2 1675.1,282.5 1682.3,281.1 1683.7,276.7 1698.2,275.3 1709.7,270.2 1711.2,267.4 1702.5,266.6 1698.2,268.1 1696.7,264.5ZM1711.2,289 1719.8,287.6 1741.5,286.8 1740.8,289.7 1729.9,290.5 1727.1,294.1 1722.7,295.5 1718.4,292.6 1714.1,292.6ZM1701.1,299.8 1709.7,298.7 1715.5,300.6 1715.5,303.4 1706.8,302.7 1703.2,302ZM1745.1,324.4 1758.8,317.2 1773.3,309.9 1786.3,306.3 1793.5,307.1 1784.8,309.9 1783.4,314.3 1773.3,318.6 1758.8,324.4 1745.8,328.7ZM1768.2,294.8 1774.7,293.8 1774.7,295.5 1768.9,295.9ZM1722.7,333 1729.9,332.3 1738.6,332.3 1738.6,334.5 1727.1,335.6 1722.7,335.9ZM1802.1,311.4 1820.9,307.8 1828.1,304.2 1828.8,305.6 1820.9,309.2 1803.6,312.5Z" clip-rule="evenodd"/><path d="M1617,363.4 1619.5,359 1627.4,359.8 1633.9,352.5 1643.3,352.5 1654.9,354.7 1666.4,355.4 1676.5,360.5 1678,365.5 1669.3,367.7 1657.8,370.6 1650.5,372.8 1650.5,376.4 1646.2,376.4 1646.2,372 1632.5,371.3 1632.5,366.3 1627.4,365.5 1624.5,369.1 1619.5,369.1Z" clip-rule="evenodd"/><path d="M486.9,445.5 498.9,440.1 500.3,434.8 515,433.4 525.7,429.9 539,431.6 548.4,434.8 556.4,440.1 565.8,448.1 569,453.5 567.1,461.5 556.4,465.5 543,466.3 528.3,462 515,457.5 501.6,452.1 492.2,448.1Z" clip-rule="evenodd"/><path d="M546.5,521.7 553.7,512.3 557.8,498.9 563.1,482.9 571.1,476.2 587.2,474.9 600.5,478.9 613.9,485.6 624.6,492.2 629.9,507 638,507 644.7,515 647.3,523 642,539 636.6,548.4 628.6,553.7 625.9,569.8 613.9,569.8 605.9,561.8 592.5,563.1 584.5,561.8 583.2,553.7 571.1,549.7 563.1,551.1 560.4,536.4 555.1,528.3Z" clip-rule="evenodd"/><path d="M726.3,506.5 731.3,502 739.5,501.4 743.5,505.5 748.1,507.5 748.6,501.4 750.6,497.4 749.1,491.3 752.7,488.2 748.6,481.1 748.1,477.6 754.7,476 756.7,473.5 761.8,473 763.9,468.9 771.5,467.9 770.5,458.8 768.9,449.6 765.4,445.6 765.4,441.5 770.5,440 772,434.4 780.1,433.4 783.2,430.3 788.2,430.3 791.3,434.4 799.4,434.4 805,438.4 805.5,441.5 815.7,442.5 821.8,442 827.9,445.6 829.9,450.6 833.5,454.7 837,460.8 840.1,465.9 842.1,474 848.2,474 852.2,477.1 854.3,483.2 856.8,490.3 854.3,494.3 858.3,494.3 861.9,504.5 864.4,505 865.5,501.4 869.5,502 871.6,507.5 878.7,513.1 876.6,518.7 874.6,521.3 874.6,527.4 871.6,525.8 865.5,524.8 865.5,518.7 860.4,517.7 856.3,519.7 856.3,524.8 860.4,524.8 857.3,529.4 853.3,531.9 858.3,532.9 858.3,539 853.3,543.1 852.8,552.2 843.1,552.2 841.1,549.7 837,549.2 835,552.2 828.9,554.3 821.8,555.3 814.7,553.3 810.6,549.2 813.6,546.2 808.6,543.1 808.6,540.1 811.6,538 805,538.5 798.4,535 798.4,530.9 799.4,524.8 793.3,519.7 794.3,515.7 790.3,512.1 784.2,511.1 776,514.7 772,521.3 768.4,521.3 766.9,518.7 760.8,517.7 754.7,515.7 754.7,519.2 747.6,518.7 742.5,512.6 737.4,509.1 731.8,507.5ZM815.2,531.9 817.7,531.4 819.7,537 816.7,538.5 815.2,536ZM824.8,542.1 828.9,540.1 834,542.1 834.5,545.1 829.9,546.7 826.8,545.6ZM850.2,499.4 853.3,498.9 853.8,502.5 850.7,503ZM795.9,503 797.9,503 797.9,506 796.2,505.5Z" clip-rule="evenodd"/><path d="M674.1,533.7 683.4,531.6 692.8,536.4 699.5,545.7 710.2,552.4 720.9,556.4 724.9,567.1 719.5,573.8 720.9,581.8 714.2,583.2 702.1,577.8 694.1,571.1 686.1,564.4 679.4,555.1 678.1,544.4Z" clip-rule="evenodd"/><path d="M707.5,537.7 711.5,535 716,539 715.5,544.4 710.2,545.7 707.5,543Z" clip-rule="evenodd"/><path d="M662,567.9 668.7,563.1 676.7,567.1 677.5,575.1 667.4,577 662.6,575.1Z" clip-rule="evenodd"/><path d="M984.2,466.3 990,465.2 995.8,464.6 997.6,460.5 1001.7,461.7 1004,466.3 1008.7,469.2 1012.7,471.6 1012.2,474.5 1006.3,478 1005.7,485 1009.8,486.2 1012.7,483.8 1013.3,476.8 1020.3,475.1 1025,473.9 1029.1,474.5 1032,473.3 1032.6,483.8 1028.5,487.3 1025,494.3 1022.7,499 1018,503.1 1017.4,509.5 1013.3,508.3 1009.8,504.8 1004,507.2 1000.5,511.8 995.8,510.7 994.7,504.8 990,502.5 983,502.5 990,501.3 994.7,503.7 995.8,500.2 992.3,496.7 987.7,490.8 984.2,489.7 985.3,483.8 984.2,473.3Z" clip-rule="evenodd"/><path d="M925.2,529.3 927,521.2 932.8,520 937.5,522.3 941,524.7 946.8,522.9 947.4,516.5 949.2,510.7 956.2,508.3 959.7,502.5 966.7,500.2 973.7,498.4 980.7,501.3 985.3,506 990,509.5 992.3,515.3 994.7,522.3 995.8,529.3 999.3,534 999.9,542.2 1002.8,548 1004,553.8 1006.9,552.1 1011,552.7 1013.3,559.7 1017.4,565.5 1019.2,569 1015.7,572.5 1013.3,578.3 1012.2,587.7 1008.7,593.5 1011,595.8 1013.9,600.5 1013.3,605.2 1019.2,606.3 1019.7,612.2 1013.3,614.5 1016.8,618 1021.5,619.2 1020.9,622.7 1013.3,625 1012.7,630.2 1006.3,632 1001.7,635.5 998.2,639 994.7,641.3 990,644.8 984.7,646 980.7,641.3 980.1,626.2 974.8,625 970.2,631.4 959.7,630.2 948,627.3 946.2,622.1 953.2,620.3 953.2,613.3 960.8,611 963.2,604 966.7,600.5 966.1,591.2 970.2,585.9 966.7,580.7 963.2,576 953.8,576.6 950.9,572.5 945.1,569 943.3,562 938.7,555 938.1,545.7 931.1,538.7 928.2,534Z" clip-rule="evenodd"/><path d="M1071.7,529.3 1078.7,531.1 1083.9,536.9 1083.9,544.5 1082.7,555 1076.3,557.3 1070.5,561.4 1064.7,560.8 1057.7,562 1055.3,566.7 1049.5,572.5 1043.7,577.2 1041.3,573.7 1035.5,573.7 1029.7,573.7 1025,576 1022.7,571.3 1022.7,565.5 1023.8,557.3 1027.3,550.3 1032,546.8 1037.8,547.4 1037.8,553.8 1041.3,560.8 1043.7,557.3 1046,551.5 1050.7,548.6 1055.9,549.2 1058.8,542.2 1064.7,538.7 1065.8,532.8Z" clip-rule="evenodd"/><path d="M1025,576 1029.7,573.7 1035.5,573.7 1033.7,577.2 1030.8,583 1025,586.5 1020.3,591.2 1014.5,598.2 1011,595.8 1014.5,591.2 1019.2,585.3 1022.7,580.7Z" clip-rule="evenodd"/><path d="M1043.7,577.2 1041.3,581.8 1041.3,592.3 1040.2,598.2 1034.3,600.5 1033.7,606.3 1028.5,609.8 1026.2,615.7 1021.5,617.4 1023.8,612.2 1021.5,608.7 1018,606.3 1017.4,601.7 1022.7,601.7 1026.2,599.3 1026.7,588.8 1030.8,583 1033.7,577.2 1037.8,574.8Z" clip-rule="evenodd"/><path d="M1364.2,149.2 1371.6,146.3 1385,147.3 1394.7,141.5 1406.2,143.4 1417.8,135.7 1428.3,127.1 1431.2,120.3 1438.9,116.5 1437,125.1 1442.8,119.4 1452.4,115.5 1464.9,111.7 1467.8,115.5 1479.4,111.3 1486.1,110.7 1487.1,100.1 1494.8,90.5 1498.6,84.7 1499.6,75.1 1507.3,71.2 1509.2,61.6 1515.9,62.6 1517.9,69.3 1526.5,65.5 1527.5,55.8 1534.2,51.6 1544.8,52.9 1560.2,50.4 1571.8,49.7 1580.4,47.7 1577.6,53.9 1587.2,47.2 1593.9,43.3 1595.8,33.7 1604.5,26 1616.1,18.3 1627.6,14.4 1637.2,13.5 1634.4,21.2 1629.5,27 1637.2,28.9 1644.9,23.1 1647.8,11.6 1654.6,5.8 1658.4,0 1712.3,0 1706.6,7.7 1703.7,10.6 1702.7,21.2 1691.2,28.9 1683.5,35.6 1677.7,46.2 1668,52 1652.6,54.9 1644.9,52 1648.8,46.2 1637.2,50.1 1625.7,54.9 1610.3,59.7 1598.7,66.4 1595.8,75.1 1598.7,80.9 1591,78.9 1598.7,87.6 1604.5,92.4 1591,88.6 1595.8,100.1 1583.3,93.4 1573.7,92.4 1564.1,86.6 1556.4,92.4 1544.8,97.2 1539.1,102 1533.3,109.7 1529.4,119.4 1523.7,127.1 1514,134.8 1506.3,138.6 1494.8,137.7 1483.2,140.5 1475.5,143.4 1464,145.4 1456.3,149.2 1444.7,148.2 1437,152.1 1437,155.9 1429.3,160.8 1417.8,162.7 1406.2,161.7 1398.5,157.9 1392.7,163.7 1383.1,165.6 1367.7,164.6 1364.8,157.9ZM1556.4,58.7 1564.1,57.8 1565,61.6 1559.3,62.6ZM1473.6,123.2 1485.1,120.3 1486.1,122.3 1475.5,125.1ZM1646.9,35.6 1656.5,32.7 1668,36.6 1660.3,38.5 1652.6,40.4ZM1573.7,84.7 1583.3,82.8 1591,85.7 1581.4,87.6Z" clip-rule="evenodd"/><path d="M1563.1,28.9 1567,19.3 1571.8,9.6 1575.6,6.7 1593,6.2 1592,9.6 1581.4,10.6 1577.6,16.4 1573.7,24.1 1567.9,29.8Z" clip-rule="evenodd"/><path d="M1729,161 1733.5,156.2 1738.3,151.3 1746.3,148.1 1751.1,143.3 1756.8,139.3 1763.2,140.9 1761.6,146.5 1759.2,152.9 1764,153.7 1763.2,161 1757.6,165.8 1752.7,172.2 1746.3,173.8 1743.1,180.2 1739.9,181.8 1739.1,175.4 1740.7,170.6 1733.5,170.6 1731.1,165.8Z" clip-rule="evenodd"/><path d="M1240.4,418.7 1246.3,410.7 1255.6,409.4 1262.3,414.7 1270.3,410.7 1281.8,408 1281,414.7 1274.3,422.7 1266.3,425.4 1259.6,421.4 1257,425.9 1244.9,424.6Z" clip-rule="evenodd"/><path d="M1147.3,632.7 1153.6,628.2 1160,623.6 1164.5,621.4 1170,621.8 1172.7,618.2 1177.3,614.5 1180.9,612.3 1171.4,612.7 1171.4,611.4 1176.4,610.5 1178.2,602.7 1183.6,600.5 1185.5,597.3 1188.2,597.7 1188.2,601.8 1193.6,600 1200.9,594.5 1207.3,593.2 1215.5,589.1 1220.9,586.8 1226.4,585 1226.8,587.3 1222.7,592.7 1226.4,590.9 1230.9,592.3 1232.7,596.4 1237.3,595 1240,598.2 1245.5,597.3 1248.2,600 1256.4,597.3 1263.6,594.5 1270,593.2 1274.5,593.5 1275.5,595.9 1281.8,596.4 1281.4,600 1278.2,602.7 1276.4,607.3 1270.9,610.5 1265.5,610.5 1267.3,606.4 1257.3,607.3 1252.7,611.4 1241.8,611.8 1233.6,610 1225.5,609.5 1220.9,613.6 1216.4,617.3 1211.8,621.8 1202.7,624.5 1197.3,627.7 1190,629.5 1185.5,627.7 1182.7,629.1 1185.5,631.8 1181.8,634.5 1182.7,639.1 1175.5,640.9 1168.2,642.7 1154.5,642.7 1147.3,639.5ZM1184.5,623.6 1193.6,620.5 1200,620 1199.1,622.7 1193.6,625 1186.4,626.4Z" clip-rule="evenodd"/><path d="M1343,501.1 1350.5,494.7 1365.5,491.4 1374.1,488.2 1386.9,487.2 1397.6,485.7 1399.7,489.3 1404,492.5 1399.7,500 1397.6,501.1 1386.9,503.2 1369.8,505.3 1352.7,504.3Z" clip-rule="evenodd"/><path d="M1400.8,503.2 1406.1,492.5 1412.6,486.1 1414.7,479.7 1427.5,475.4 1442.5,473.3 1451.1,476.5 1459.6,478.6 1472.5,471.1 1481,470.1 1485.3,466.8 1487.4,471.1 1498.1,469 1491.7,477.5 1489.6,484 1481,486.1 1463.9,490.4 1455.3,496.8 1453.2,491.4 1442.5,493.6 1429.7,498.9 1414.7,504.3Z" clip-rule="evenodd"/><path d="M863.4,1167.6 866,1159.6 871.4,1156.1 879.4,1158.3 882.1,1167.6 885.6,1169.8 879.4,1172.2 870.1,1173.5 864.2,1171.7Z" clip-rule="evenodd"/><path d="M908.8,1182.4 914.2,1177.5 920.9,1178.3 924.9,1182.4 931.6,1182.9 931.6,1189 929.4,1193.6 924.9,1193 923.5,1187.7 918.2,1190.4 911.5,1188.2Z" clip-rule="evenodd"/><path d="M1243.3,1127.5 1251.3,1124.9 1258,1120.9 1266,1119 1278.1,1120.3 1286.1,1124.9 1291.4,1134.2 1302.1,1139.6 1302.1,1146.3 1291.4,1147.6 1275.4,1147.1 1267.4,1142.2 1256.7,1138.2 1248.7,1132.9Z" clip-rule="evenodd"/><path d="M1288.2,1116 1295.5,1111.5 1302.1,1106.1 1315.5,1104.3 1323.5,1101.6 1331.6,1102.1 1333.7,1108.8 1331.6,1119.5 1324.9,1125.7 1312.8,1126.7 1302.1,1129.4 1292.8,1127.5 1291.4,1120.9Z" clip-rule="evenodd"/><path d="M1684.2,1131.6 1690.9,1130.2 1697.5,1131.6 1702.1,1136.4 1701.6,1141.7 1692.2,1141.7 1686.8,1137.4Z" clip-rule="evenodd"/><path d="M1725.1,1126.2 1731,1124.9 1737.6,1128.9 1744.3,1131.6 1755,1131.6 1768.4,1131 1779.1,1134.2 1780.4,1140.9 1787.6,1142.8 1779.1,1147.1 1768.4,1148.9 1755,1148.1 1744.3,1146.3 1737.6,1147.6 1732.3,1144.9 1731,1136.9 1727,1131.6Z" clip-rule="evenodd"/><path d="M54.3,1294.9 58.8,1292.2 65,1294.1 65,1302.9 61,1309.6 56.1,1309.1 53.5,1302.9Z" clip-rule="evenodd"/><path d="M18.2,1328.3 24.1,1323 31.6,1321.7 30.7,1328.3 26.7,1333.7 29.4,1339 34.8,1336.4 41.4,1339 48.1,1335 54.8,1333.7 57.5,1324.3 64.2,1313.6 65.5,1321.7 62.8,1328.3 70.9,1329.7 77.5,1319 82.9,1308.3 87.7,1309.6 86.9,1319 92.2,1317.6 100.3,1307 101.6,1311 96.3,1320.3 97.6,1333.7 107,1337.7 117.6,1333.7 125.7,1339 132.9,1337.7 131,1345.7 132.4,1359.1 144.4,1361.8 145.7,1371.1 148.4,1379.1 155.1,1379.7 167.1,1381.8 155.1,1384.5 149.7,1388.5 136.4,1389.3 131,1384.5 115,1389.3 107,1385.8 102.9,1379.1 101.6,1372.5 84.2,1371.1 72.2,1364.4 60.2,1361.8 48.1,1356.4 34.8,1357.8 22.7,1355.1 18.2,1353.7Z" clip-rule="evenodd"/><path d="M755.9,1644.2 761.2,1639.7 774.6,1638.9 785.3,1639.7 789.3,1645.6 801.3,1646.9 814.7,1649.6 825.4,1649.6 833.4,1654.1 844.1,1657.6 854.8,1658.9 854.8,1664.3 861.5,1666.4 860.2,1671 844.1,1669.6 833.4,1671 822.7,1666.9 817.4,1661.6 806.7,1662.9 796,1661.6 786.6,1658.9 788,1654.1 782.6,1651.4 769.3,1654.9 766.6,1648.2 758.6,1648.2Z" clip-rule="evenodd"/><path d="M1575.9,1717.7 1577.2,1693.7 1581.2,1680.3 1586.6,1669.6 1586.6,1660.3 1597.3,1658.9 1608,1652.2 1621.3,1641.5 1622.7,1634.4 1627.4,1626.4 1634.7,1625 1638,1630.4 1647.4,1630.4 1651.4,1637.1 1660.1,1637.7 1665.5,1633 1664.1,1626.4 1666.1,1622.4 1673.5,1620.3 1684.2,1618.3 1692.9,1614.3 1697.5,1617 1700.2,1613.7 1708.2,1612.3 1716.3,1610.3 1719.6,1607 1725.6,1606.3 1724.3,1598.3 1720.3,1595.6 1720.9,1587.6 1729.6,1585.6 1731,1582.2 1740.3,1579.6 1739,1572.9 1741,1570.2 1746.3,1566.2 1748.3,1562.2 1755,1559.5 1759,1554.2 1767.1,1551.5 1769.7,1545.5 1777.8,1544.8 1784.4,1546.1 1785.1,1550.2 1800.5,1552.8 1801.8,1550.2 1811.8,1551.5 1808.5,1556.8 1807.2,1562.2 1804.5,1564.9 1807.8,1567.5 1803.8,1572.2 1799.8,1571.6 1799.1,1566.2 1791.1,1565.5 1783.1,1567.5 1777.8,1570.2 1779.1,1574.2 1793.8,1574.9 1793.1,1577.6 1785.8,1578.9 1785.1,1583.6 1780.4,1582.2 1772.4,1584.3 1768.4,1584.9 1767.1,1578.2 1761.7,1583.6 1762.4,1588.9 1763,1592.9 1769.7,1593.6 1777.8,1595.6 1782.4,1599 1779.1,1603.6 1771.1,1601 1764.4,1603.6 1771.1,1609 1764.4,1610.3 1757.7,1609 1755,1617 1753.7,1626.4 1748.3,1623.7 1744.3,1625 1745.7,1633 1743,1635.1 1756.4,1635.7 1756.4,1640.4 1745.7,1641.1 1741.7,1642.4 1745.7,1647.1 1755,1645.7 1761.7,1643.7 1767.1,1641.1 1768.4,1645.1 1763,1648.4 1763.7,1653.8 1768.4,1655.8 1776.4,1653.1 1783.1,1652.4 1783.1,1662.5 1777.8,1667.8 1772.4,1671.8 1771.7,1676.5 1764.4,1677.2 1757.7,1681.2 1744.3,1683.9 1740.3,1690.5 1743,1694.5 1743.7,1698.6 1737.6,1701.2 1731,1702.6 1725.6,1705.2 1718.9,1710.6 1713.6,1714.1 1712.2,1719.9Z" clip-rule="evenodd"/><path d="M1769.1,1500 1776.4,1500 1784.4,1506 1792.5,1511.4 1800.5,1518.1 1808.5,1522.1 1808.5,1524.8 1797.8,1525.4 1801.8,1527.4 1796.5,1530.1 1805.2,1531.4 1805.8,1536.1 1793.8,1535.5 1787.1,1536.8 1780.4,1538.1 1771.1,1537.5 1777.8,1532.8 1784.4,1528.8 1789.8,1527.4 1780.4,1526.1 1770.4,1524.8 1770.4,1521.4 1776.4,1520.7 1772.4,1518.7 1778.4,1516.1 1773.1,1507.4Z" clip-rule="evenodd"/><path d="M1744.3,1531.4 1748.3,1529.4 1753.7,1529.4 1755,1531.4 1761.7,1529 1765.7,1530.1 1768.4,1536.8 1768.4,1543.5 1769.7,1545.5 1763.7,1544.8 1763,1540.8 1759,1536.8 1755,1540.8 1755,1534.1 1748.3,1534.8Z" clip-rule="evenodd"/><path d="M1720.3,1532.1 1727,1534.8 1731,1534.1 1736.3,1537.5 1741.7,1540.8 1737.6,1543.5 1741,1548.2 1735,1549.5 1733.6,1556.8 1735,1559.5 1737.6,1567.5 1741,1570.2 1739,1575.6 1735,1568.9 1731,1567.5 1729,1559.5 1727,1556.8 1729,1546.1 1726.3,1539.5Z" clip-rule="evenodd"/><path d="M1785.8,1595.6 1793.8,1591.6 1799.1,1583.6 1807.2,1576.9 1816.5,1572.9 1813.9,1578.2 1807.2,1583.6 1805.8,1591.6 1804.5,1601 1799.1,1603.6 1803.2,1606.3 1792.5,1607.6 1788.4,1610.3 1783.1,1607.6 1775.1,1606.3 1783.1,1603.6 1787.1,1599.6Z" clip-rule="evenodd"/><path d="M1789.1,1619 1797.8,1614.3 1807.2,1607.6 1813.9,1602.3 1823.2,1598.3 1825.9,1588.9 1825.2,1580.9 1832.6,1575.6 1839.3,1567.5 1847.3,1564.9 1853.3,1567.5 1847.3,1574.2 1837.9,1578.2 1835.2,1583.6 1836.6,1591.6 1833.9,1596.3 1842.6,1596.3 1841.9,1605 1833.9,1607.6 1825.9,1611.7 1817.9,1614.3 1816.5,1618.3 1828.6,1616.3 1837.9,1619.7 1837.2,1621.7 1825.9,1621 1823.2,1623.7 1825.2,1631.7 1812.5,1633.7 1802.5,1636.4 1800.5,1633 1807.2,1629 1807.2,1625 1799.1,1625 1792.5,1622.4Z" clip-rule="evenodd"/><path d="M1768.4,1631.7 1776.4,1627.7 1785.8,1625 1793.8,1624.4 1792.5,1629 1783.1,1630.4 1785.8,1633.7 1781.8,1637.1 1777.8,1638.4 1771.1,1635.7Z" clip-rule="evenodd"/><path d="M1783.1,1637.7 1795.1,1637.1 1795.1,1641.1 1784.4,1643.1 1780.4,1641.1Z" clip-rule="evenodd"/><path d="M1793.8,1648.4 1797.8,1645.7 1804.5,1646.4 1803.2,1654.4 1793.8,1655.8 1783.1,1653.8 1792.5,1651.8Z" clip-rule="evenodd"/><path d="M1641.4,1619 1644.7,1612.3 1653.4,1611 1654.1,1606.3 1659.4,1605 1660.1,1621 1648.7,1624.4 1647.4,1620.3Z" clip-rule="evenodd"/><path d="M1663.4,1617 1666.1,1610.3 1671.5,1610.3 1673.5,1615.7 1671.5,1619.7 1666.1,1622.4Z" clip-rule="evenodd"/><path d="M1672.1,1606.3 1680.2,1603.6 1689.5,1605 1700.2,1603.6 1700.2,1607.6 1696.9,1613 1692.2,1615.7 1686.8,1613 1678.8,1612.3 1673.5,1610.3Z" clip-rule="evenodd"/><path d="M1664,175.4 1666.1,173 1670.9,172.2 1671.7,168.2 1676.5,166.6 1676.5,162.6 1682.1,161 1687.8,160.2 1688.6,168.2 1694.2,169.3 1696.6,172.2 1702.2,172.5 1701.9,177.8 1695.8,178.6 1690.2,178.3 1688.6,174.1 1683.8,175.4 1678.9,177.8 1675.7,176.7 1664,177Z" clip-rule="evenodd"/><path d="M1438.2,334.2 1447.5,332.9 1455.6,327.5 1468.9,326.7 1495.7,327.8 1495.7,344.9 1487.6,345.5 1471.6,344.4 1460.9,341.7 1450.2,340.9 1440.9,340.9Z" clip-rule="evenodd"/><path d="M613.1,444.1 619.3,440.6 623.3,444.9 632.6,440.1 638,441.4 643.9,446.8 646,454.8 651.3,462.8 652.7,470.9 660.7,472.2 670.1,471.7 672.2,477.5 676.7,482.9 678.9,492.2 672.7,489.6 667.4,485.6 664.7,478.9 655.3,478.1 654,492.2 648.7,493.6 649.2,505.6 644.7,506.4 639.3,500.3 638,490.9 631.3,489.6 632.1,485.6 639.3,485.6 635.3,480.2 625.9,478.9 627.3,469.5 623.3,460.2 617.9,454.8 617.9,449.5Z" clip-rule="evenodd"/><path d="M1144.1,603.6 1145.5,598.2 1148.2,591.4 1150.9,589.1 1157.3,586.4 1162.7,585 1163.2,589.1 1160.9,591.8 1159.5,596.4 1156.4,598.2 1155,601.8 1150.9,603.6Z" clip-rule="evenodd"/><path d="M7,1298.2 11.6,1296.6 17.4,1296.2 16.6,1300.7 20.7,1298.6 25.7,1297.9 26.2,1311.5 29.8,1313.2 28.2,1319 23.2,1321.4 19.9,1318.1 21.6,1314.8 18.2,1315.6 15.7,1323.1 12.4,1325.6 12.4,1329.7 7,1329.7 7,1323.1 11.6,1321.4 7.5,1319 7.5,1312.3 12.4,1309.8 7.5,1307.4Z" clip-rule="evenodd"/><path d="M236.1,1412.6 243.3,1409.9 248.7,1405.9 260.7,1400.5 272.7,1397.9 282.1,1392.5 296.8,1392 296.3,1397.3 287.4,1404.5 282.9,1411.2 279.4,1417.1 252.7,1417.1 248.7,1412.6 242,1413.9 236.6,1415.5Z" clip-rule="evenodd"/><path d="M679.1,1394.7 689,1392 703.7,1393.9 710.4,1399.2 717.1,1403.2 731.8,1405.3 737.2,1412.6 749.2,1414.7 758.6,1423.3 766.6,1417.9 774.6,1417.4 776.7,1425.9 788,1427.3 798.7,1435.3 806.7,1440.6 816,1444.7 817.4,1450 822.7,1454 834.8,1455.3 837.4,1450 844.1,1450.5 846.8,1456.7 869.5,1456.1 870.9,1460.7 881.6,1462 889.6,1464.7 894.9,1470.1 894.9,1476.7 905.6,1476.7 908.3,1479.4 919,1479.4 921.7,1476.7 931,1476.2 936.4,1480.7 937.7,1487.4 943,1491.4 953.7,1492.8 958.6,1495.5 957.8,1501.6 948.4,1501.6 945.7,1497.3 920.3,1497.3 919,1494.1 912.3,1493.6 911,1500.8 904.3,1500.8 897.6,1502.7 872.2,1500.8 870.9,1494.1 852.1,1492.8 844.1,1487.4 833.4,1484.8 822.7,1480.7 816,1482.9 810.7,1482.9 809.4,1479.4 796,1479.4 793.3,1474.1 781.3,1471.4 771.9,1467.4 761.2,1466 753.2,1462 743.9,1458 737.2,1451.3 731.8,1450 726.5,1443.3 717.1,1440.6 710.4,1434.8 699.7,1428.6 694.4,1421.9 689,1413.9 682.4,1408.6 679.7,1401.9Z" clip-rule="evenodd"/></clipPath>
<g clip-path="url(#oc)">
<circle cx="605.9" cy="533.7" r="26.7" fill="url(#cg60)"/>
<circle cx="613.9" cy="507.0" r="18.7" fill="url(#cg60)"/>
<circle cx="587.2" cy="512.3" r="18.7" fill="url(#cg60)"/>
<circle cx="584.5" cy="539.0" r="16.0" fill="url(#cg60)"/>
<circle cx="813.6" cy="490.3" r="17.3" fill="url(#cg75)"/>
<circle cx="845.1" cy="486.2" r="10.2" fill="url(#cg60)"/>
<circle cx="831.9" cy="475.0" r="9.1" fill="url(#cg50)"/>
<circle cx="866.5" cy="510.6" r="6.1" fill="url(#cg35)"/>
<circle cx="839.0" cy="521.8" r="14.2" fill="url(#cg30)"/>
<circle cx="786.2" cy="455.7" r="16.3" fill="url(#cg30)"/>
<circle cx="801.4" cy="513.6" r="6.1" fill="url(#cg30)"/>
<circle cx="791.3" cy="481.1" r="15.2" fill="url(#cg30)"/>
<circle cx="758.8" cy="499.4" r="13.2" fill="url(#cl60)"/>
<circle cx="819.7" cy="549.2" r="11.2" fill="url(#cl60)"/>
<circle cx="738.4" cy="505.5" r="8.1" fill="url(#cl60)"/>
<circle cx="552.4" cy="453.5" r="13.4" fill="url(#cg45)"/>
<circle cx="696.8" cy="552.4" r="12.0" fill="url(#cg45)"/>
<circle cx="707.5" cy="563.1" r="10.7" fill="url(#cg45)"/>
<circle cx="974.8" cy="543.3" r="23.3" fill="url(#cg70)"/>
<circle cx="970.2" cy="522.3" r="19.8" fill="url(#cg70)"/>
<circle cx="976.0" cy="562.0" r="14.0" fill="url(#cg70)"/>
<circle cx="983.0" cy="531.7" r="14.0" fill="url(#cg70)"/>
<circle cx="994.7" cy="578.3" r="10.5" fill="url(#cg30)"/>
<circle cx="1069.3" cy="549.2" r="9.3" fill="url(#cg35)"/>
<circle cx="1049.5" cy="557.3" r="5.8" fill="url(#cg35)"/>
<circle cx="1034.3" cy="566.7" r="5.8" fill="url(#cg30)"/>
<circle cx="988.8" cy="634.3" r="7.0" fill="url(#cg35)"/>
<circle cx="999.3" cy="485.0" r="5.8" fill="url(#cg35)"/>
<circle cx="1009.8" cy="496.7" r="5.8" fill="url(#cg30)"/>
<circle cx="1005.2" cy="605.2" r="5.8" fill="url(#cg30)"/>
<circle cx="1502.5" cy="102.0" r="17.3" fill="url(#cg35)"/>
<circle cx="1446.6" cy="134.8" r="13.5" fill="url(#cg35)"/>
<circle cx="1419.7" cy="147.3" r="11.6" fill="url(#cg35)"/>
<circle cx="1587.2" cy="63.5" r="13.5" fill="url(#cg35)"/>
<circle cx="1379.3" cy="154.0" r="8.7" fill="url(#cg35)"/>
<circle cx="1542.9" cy="77.0" r="11.6" fill="url(#cg35)"/>
<circle cx="1677.7" cy="19.3" r="15.4" fill="url(#cg35)"/>
<circle cx="1514.0" cy="115.5" r="11.6" fill="url(#cg35)"/>
<circle cx="1657.8" cy="307.1" r="17.3" fill="url(#cg40)"/>
<circle cx="1737.2" cy="266.6" r="18.8" fill="url(#cg40)"/>
<circle cx="1780.5" cy="328.7" r="20.2" fill="url(#cg40)"/>
<circle cx="1831.0" cy="318.6" r="17.3" fill="url(#cg40)"/>
<circle cx="1787.7" cy="242.1" r="18.8" fill="url(#cg40)"/>
<circle cx="1701.1" cy="289.7" r="13.0" fill="url(#cg40)"/>
<circle cx="1729.9" cy="309.9" r="14.4" fill="url(#cg40)"/>
<circle cx="1823.8" cy="289.7" r="13.0" fill="url(#cg40)"/>
<circle cx="1744.4" cy="338.8" r="10.1" fill="url(#cg40)"/>
<circle cx="66.3" cy="1351.3" r="14.9" fill="url(#cg30)"/>
<circle cx="86.2" cy="1359.6" r="16.6" fill="url(#cg35)"/>
<circle cx="106.1" cy="1367.0" r="14.9" fill="url(#cg30)"/>
<circle cx="1706.9" cy="1647.8" r="29.4" fill="url(#cg30)"/>
<circle cx="1660.1" cy="1670.5" r="26.7" fill="url(#cg30)"/>
<circle cx="1733.6" cy="1594.3" r="12.0" fill="url(#cg30)"/>
<circle cx="1713.6" cy="1677.2" r="20.1" fill="url(#cg25)"/>
<circle cx="1796.5" cy="1597.0" r="6.7" fill="url(#cg25)"/>
<circle cx="1760.4" cy="1563.5" r="8.0" fill="url(#cg20)"/>
<circle cx="1161.8" cy="630.9" r="4.5" fill="url(#cg25)"/>
<circle cx="1204.5" cy="603.6" r="6.4" fill="url(#cg25)"/>
<circle cx="1184.5" cy="616.4" r="4.1" fill="url(#cg20)"/>
<circle cx="1267.3" cy="599.1" r="4.1" fill="url(#cg25)"/>
<circle cx="1438.2" cy="486.1" r="9.6" fill="url(#cg40)"/>
<circle cx="1376.2" cy="496.8" r="7.5" fill="url(#cg30)"/>
<circle cx="1275.4" cy="1134.2" r="10.7" fill="url(#cg30)"/>
<circle cx="1312.8" cy="1115.5" r="10.7" fill="url(#cg30)"/>
<circle cx="972.5" cy="613.3" r="30.3" fill="url(#cl80)"/>
<circle cx="935.2" cy="534.0" r="14.0" fill="url(#cl50)"/>
<circle cx="1032.0" cy="590.0" r="14.0" fill="url(#cl60)"/>
<circle cx="1030.8" cy="555.0" r="8.2" fill="url(#cl50)"/>
<circle cx="639.3" cy="466.8" r="22.7" fill="url(#cr80)"/>
<circle cx="646.0" cy="482.9" r="14.7" fill="url(#cr60)"/>
<circle cx="629.9" cy="452.1" r="13.4" fill="url(#cr50)"/>
</g>
<path fill="none" stroke="#000" stroke-width="1" shape-rendering="crispEdges" stroke-linejoin="miter" d="M318.7,0 329.4,6.7 337.4,16 349.5,26.7 357.5,34.8 353.5,41.4 358.8,44.1 357.5,49.5 353.5,56.1 356.1,62.8 364.2,68.2 372.2,74.3 377.5,69.5 370.9,60.2 369,57.5 377.5,64.2 382.9,70.1 386.9,74.9 396.3,77.5 404.3,82.9 409.6,88.2 409.6,93.6 407,98.9 412.3,102.9 417.6,103.7 415,96.3 421.7,99.5 423,105.6 428.3,112.3 429.7,107 441.7,105.6 445.7,109.6 455.1,109.1 460.4,115 461.8,120.3 469.8,123 475.1,117.6 473.8,124.3 477.8,132.4 487.2,132.4 492.5,128.3 500.5,125.7 496.5,120.3 491.2,115 488.5,109.6 492.5,105.6 501.9,101.6 507.2,96.3 511.2,90.9 521.9,87.7 532.6,93.6 540.6,100.3 547.3,102.9 555.3,111 546,105.6 539.3,112.3 543.3,120.3 548.7,128.3 553.5,133.7 558,139 560.7,145.7 566,149.7 564.7,160.4 568.7,169.8 562,175.1 566,177.8 567.4,195.2 566,208.6 572.7,216.6 567.4,227.3 556.7,240.6 551.3,250 544.7,250 535.3,254 534,260.7 536.6,267.4 527.3,268.7 524.1,272.7 529.9,278.1 528.6,283.4 521.9,287.4 508.6,290.1 497.9,294.1 500,307.5 497.9,312.8 488.5,320.9 491.2,328.9 485.8,336.9 477.8,339.6 480.5,347.6 477.8,355.6 481.8,361 481.8,367.6 475.1,369 487.2,377 493.9,382.4 499.2,374.3 505.9,363.6 503.2,374.3 507.2,377 503.2,385 497.9,390.4 491.2,399.7
M405.6,0 409.6,4 407,10.7 408.3,17.4 409.6,24.1 402.9,29.4 404.3,37.4 408.3,42.8 415,53.5 423,64.2 433.7,73.5 445.7,80.2 453.7,86.9 460.4,93.6 471.1,94.1 487.2,86.9 499.2,84.2 508.6,74.9 521.9,76.2 540.6,80.2 554,88.2 564.7,97.6 578.1,109.6 580.7,115 578.1,116.3 578.1,101.6 591.4,90.9 599.5,80.2 610.2,76.2 610.2,57.5 614.2,48.1 628.9,36.1 636.9,38.8 644.9,37.4 646.3,30.7 655.6,32.1 666.3,32.1 679.7,24.1 695.7,16 698.4,8 709.1,2.7 719.8,6.7 722.5,12 714.4,18.7 703.7,22.7 699.7,26.7 703.7,33.4 707.8,40.1 711.8,44.1 727.8,34.8 746.5,28.1 759.9,26.2 778.6,28.1 789.3,34.8 793.3,42.8 794.7,49.5 800,50.8
M711.8,44.1 707.8,53.5 698.4,68.2 702.4,77.5 706.4,85.6 717.1,86.9 723.8,77.5 723.8,68.2 718.4,57.5 713.1,49.5 711.8,44.1
M743.9,12 751.9,9.4 755.9,18.7 754.5,26.7 746.5,25.4 742.5,17.4Z
M771.9,5.3 777.3,8 781.3,12 775.9,10.7Z
M352.1,13.4 361.5,12 372.2,21.4 380.2,32.1 378.9,37.4 366.8,36.1 357.5,30.7 352.1,20.1Z
M336.1,4 342.8,2.1 348.1,6.7 342.8,8.6 340.1,5.9Z
M357.5,36.1 366.8,36.1 380.2,37.4 390.9,40.1 401.6,45.5 408.3,43.3
M433.7,74.3 427.8,76.2 426.2,80.2 427.8,88.2 432.4,90.9 428.3,96.3 430.2,102.9 424.3,107
M499.2,84.2 505.9,80.2 511.2,85.6 507.2,92.2 500.5,88.2 504.5,84.2
M543.3,102.9 547.3,100.3 551.3,105.6 555.3,110.2
M521.9,104.3 523.3,108.3
M526.7,102.9 528.9,103.7 527.8,108.3 526.2,107Z
M453.7,125.7 457.8,123.5 460.4,128.3 456.4,131.6Z
M564.7,97.6 567.4,107 570.1,115 563.4,123 556.7,125.7 553.5,133.7
M699.7,26.7 687.7,40.1 677,53.5 675.7,66.8 666.3,82.9 675.7,81.6 679.7,85.6 683.7,93.6 691.7,111 688.2,117.6 689,127 695.7,131 698.4,137.7 709.1,139 721.1,139 733.2,136.4 745.2,139 754.5,145.7 765.2,160.4 774.6,159.1 800,157.8
M529.9,278.1 540.6,286.1 548.7,291.4 556.7,294.1 564.7,299.5 567.4,304.8 576.7,307.5 588.8,307.5 591.4,303.5 598.1,304.8 604.8,311.5 614.2,315.5 623.5,315.5 631.6,320.9 639.6,327.5 643.6,338.2 655.6,343.6 662.3,350.3 663.6,357 670.3,359.6 671.7,370.3 678.3,374.3 695.7,373 706.4,367.6 714.4,371.7 725.1,369 735.8,374.3 749.2,381 738.5,399.7
M610.2,316.8 618.2,318.2 614.2,323.5 619.5,328.9 618.2,338.2 612.8,339.6 610.2,350.3 596.8,366.3 583.4,377 567.4,383.7 554,387.7 546,395.7 543.3,399.7
M800,271.4 754.5,270.1 754,286.1 766.6,287.4 771.9,294.1 765.2,296.8 750.5,299.5 748.7,316.8 759.9,327.5 766.6,343.6 754.5,399.7
M794.7,264.7 797.3,263.4 799.5,270.1
M210.2,312.8 215.5,310.7 219,316.8 220.9,324.9 226.2,327.5 229.7,334.2 226.2,339 216.8,340.1 212,336.4 215.5,331.6 222.2,329.4 218.2,323.5 214.2,319.5 215.5,324.9 210.2,326.2 208,322.2 211.5,319.5Z
M228.9,319.5 233.4,317.6 236.9,320.9 233.4,323.5Z
M236.1,329.7 238.2,326.2 243,326.2 245.7,329.7 243.6,333.4 238.8,333.7Z
M259.6,336.9 265,331.6 269,331.6 267.1,335.6 261.8,339Z
M236.4,346.3 238.2,344.4 240.4,346.3 238.5,348.1Z
M256.7,348.1 258,347.1 259.4,348.4 258,349.5Z
M236.9,305.6 238.8,304.8 239.8,306.4 238,307.5Z
M230.2,297.3 231.3,300
M800,52.1 826.7,48.7 846.8,48.7 850.8,54.8 861.5,60.2 873.5,62.3 882.9,60.2 890.9,54.8 896.3,51.3 909.6,49.5 925.7,46.8 952.4,46 952.9,47.6 928.3,50.8 925.7,53.5 925.1,61.5 931,63.6 935,60.2 932.4,54.8 937.7,60.2 941.7,68.2 945.7,70.9 947.1,64.2 952.4,68.2 957.8,70.9 961.8,68.2 968.4,73.5 977.8,76.2 980.5,80.2 975.1,85.6 971.1,96.3 968.4,100.3 960.4,98.9 965.8,102.1 976.5,100.3 987.2,99.5 996.5,98.4 1003.2,102.9 1007.2,106.4 1013.9,108.3 1024.6,115 1032.6,123 1038.5,131 1038.5,139 1036.6,145.7 1034.8,153.7 1037.4,145.7 1040.6,142.2 1048.7,143.9 1056.7,149.7 1063.4,155.1 1070.1,159.1 1072.7,164.4 1083.4,165 1094.1,166.3 1103.5,169 1104.8,165.2 1115.5,164.4 1131.6,164.4 1144.9,166.3 1152.9,169 1159.6,173.3 1177,177 1185,184.5 1194.4,192.5 1203.7,197.9 1209.1,208.6 1213.1,205.3 1221.1,213.9 1223.8,221.9 1225.1,232.6 1229.1,246 1231.8,259.4 1237.2,264.7 1241.2,268.7 1249.2,270.1 1253.2,275.4 1253.2,284.8 1247.9,291.4 1241.2,299.5 1237.2,307.5 1227.8,314.2 1218.4,320.9 1213.1,330.2 1207.8,339.6 1201.1,347.6 1183.7,353.5 1194.4,354.3 1206.4,350.3 1217.1,342.2 1225.1,338.2 1230.5,331.6 1227.8,324.9 1233.2,320.9
M959.1,45.5 976.5,42.2 977.8,49.5 975.1,61.5 955.1,62 963.1,57.5 964.4,48.1Z
M890.4,38.8 900.3,36.9 904.3,34.8 905.1,40.1 900.3,42.2 903.7,44.4 897.6,42.8Z
M865.5,39.6 870.1,39.3 870.1,41.4 865.8,41.4Z
M893.6,48.7 901.6,47.6 909.6,50.8 900.3,51.3Z
M979.1,34.2 984.5,31.6 987.7,30.5 984.5,34.2Z
M957.2,9.4 959.9,8.8 959.9,12.6 957.2,12.8Z
M833.4,19.3 834.8,19.8
M846,18.7 848.1,19.3
M884.8,16.8 886.4,18.2 884.8,18.4Z
M963.6,1.3 964.4,2.7
M925.7,121.7 932.4,120.9 931,128.3 927.8,135 929.7,141.7 926.2,143 925.1,136.4 928.3,131 925.7,125.7Z
M1005.9,105.6 997.9,111 987.2,117.6 983.2,124.3 985.8,133.7 992.5,136.4 991.2,140.4 981.8,144.4 972.5,147.1 971.1,156.4 965.8,164.4 976.5,176.5 984.5,184 995.2,183.2 1000.5,187.2 999.2,199.2 997.9,201.1 1007.2,203.2 1009.1,211.2 1012.6,214.4 1005.9,221.9 1003.7,232.6 1001.1,240.6 1001.9,248.7 1005.9,255.3 1007.2,267.4 1013.9,274.1 1021.9,280.2 1026.7,280.7 1031.3,283.4 1039.3,275.4 1050,274.1 1063.4,270.1 1070.1,264.7 1083.4,266
M984.5,184 986.4,189.8 976.5,200.5 963.1,204.5 948.4,211.2 932.4,213.9 931,223.3 927,224.6 916.3,215.2 907,216.6 897.6,212.6 889.6,210.4 880.2,207.2 884.2,213.9 894.9,223.3 895.7,235.3 900.3,243.3 900.3,252.7 916.3,253.5 916.8,260.7 907,263.4 900.3,266 897.6,275.4 890.9,279.4 880.2,283.4 870.9,288.8 864.2,296.8 860.2,291.4 852.1,291.4 842.8,295.5 833.4,290.1 828.1,283.4
M800,157.8 808,156.4 813.9,160.4 812,168.4 805.3,179.1 804,199.2 808,213.9 817.4,228.6 804,243.3 812,248.7 820.1,255.3 824.1,270.1 828.1,283.4 823.5,283.4 820.1,270.1 816,260.7 808,267.4 800,270.1
M916.8,260.7 924.3,263.4 928.3,272.7 937.7,290.1 937.7,302.1 940.4,315.5 943,330.2 938.2,332.9 945.7,339.6 953.7,348.9 960.4,349.7 961.8,336.9 967.1,328.3 973.8,326.7 981.8,335.6 991.2,332.9 992.5,324.9 999.2,318.2 1000.5,312.8 1004.5,308.8 1028.6,308.3
M1026.7,280.7 1028.6,308.3 1032.1,331.6 1039.3,339.6 1043.3,350.3 1048.7,355.6 1064.7,357 1072.7,359.6 1082.1,368.4 1091.4,367.6 1080.2,400
M1090.1,366.3 1096.8,364.2 1094.1,370.3 1090.9,369.5Z
M1072.7,165 1070.1,176.5 1068.7,184.5 1067.4,188.5 1054,191.2 1051.3,201.9 1048.7,211.2 1054,219.3 1059.4,228.6 1068.2,229.9 1070.1,242 1083.4,266
M1083.4,266 1087.4,264.7 1102.1,267.4 1103.5,263.4 1098.1,258 1100.8,251.3 1107.5,252.7 1116.8,251.3 1126.2,249.5 1132.9,252.7
M1152.9,169 1148.9,179.1 1140.9,184.5 1138.2,195.2 1140.9,211.2 1146.3,219.3 1150.3,225.9 1146.3,235.3 1143.6,248.7 1137.4,255.3 1132.9,252.7
M1132.9,252.7 1138.2,258 1147.6,260.7 1157,255.3 1169,258.8 1179.7,258 1186.4,250 1189,238 1195.7,227.3 1203.7,216.6 1211.8,209.9 1213.1,205.9
M1118.2,196.5 1122.2,189.8 1128.9,189.8 1130.2,195.2 1124.9,201.9 1118.2,201.1Z
M1132.9,252.7 1131.6,268.7 1140.9,270.1 1152.9,278.1 1162.3,280.7 1165,287.4 1171.7,294.1 1173,304.8 1177,316.8 1185,323.5 1187.7,335.6 1193,340.9 1201.1,343.6 1206.4,340.9 1211.8,327.5 1215.8,320.9
M1234.5,311.5 1241.2,308.8 1245.2,311.5 1239.8,314.2Z
M1254.5,314.2 1261.2,312.3 1266.6,315 1259.9,317.6Z
M1225.1,318.2 1230.5,315.5 1233.7,318.2 1227.8,320.9Z
M1223.8,332.9 1227.8,329.4 1231,332.9 1227.3,336.4Z
M1237.2,263.4 1238.5,258 1242.5,258.8 1243.3,264.7 1239.8,267.4Z
M1241.2,299.5 1249.2,290.1 1251.9,294.1 1243.9,303.5 1249.2,304.8 1241.2,310.2
M1221.1,360.4 1226.5,361.5 1229.9,364.2 1225.1,363.6Z
M1131,367.6 1134.8,367.1 1133.7,372.2 1131.6,371.1Z
M862,377 864.7,376.5 864.7,380.7 862,380.7Z
M492.2,400 480.2,406.7 466.8,421.4 466.3,432.1 473.5,440.1 472.2,448.1 478.1,453.5 477.5,460.2 470.9,462.8 474.9,468.2 485.6,473.5 498.9,480.2 507,489.6 513.6,505.6 523,516.3 532.4,528.3 536.4,543 541.7,555.1 549.7,571.1 557.8,584.5 560.4,596.5 569.8,603.2 573.8,616.6 584.5,627.3 588.5,640.6 595.2,650 593.9,658 590.4,659.9 592.5,667.4 603.2,680.7 611.2,687.4 621.9,699.5 638,707.5 654,718.2 672.7,727.5 688.8,732.9 702.1,742.2 714.2,747.6 718.2,757 731.6,766.3 740.9,772.5 742.2,782.4 743.6,800
M494.9,400 493.6,410.7 488.2,414.7 488.2,420.1 492.2,422.7 489.6,425.4 496.3,422.7 507,425.4 512.3,426.7 515,434.8 520.3,438.8 525.7,436.1 531,428.1 533.7,421.4 536.4,410.7 541.7,400
M755.6,400 751.6,421.4 746.3,418.7 739.6,412 732.9,408 736.9,400
M751.6,421.4 731.6,417.4 727.5,422.7 703.5,426.7 691.4,433.4 678.1,441.4 675.4,453.5 671.4,464.2 672.2,474.9 664.7,480.2 656.7,485.6 655.3,492.2 658,496.3 651.3,498.9 650,505.6 655.3,509.6 659.4,517.6 664.7,525.7 672.7,533.7 676.7,541.7 671.4,549.2 679.4,550.3 692.8,552.9 695.5,563.1 704.8,564.4 716.8,563.6 724.9,557.8 735.6,550.3 737.4,553.7 734.2,560.4 734.8,587.2 742.2,590.4 750.3,588 761,588.5 781,592 793,587.2 798.4,581.8 809.1,579.7 817.1,573.8 833.2,561.8 849.2,558.3 862.6,556.4 867.9,560.4 868.4,571.1 865.2,579.1 867.9,589.8 866.6,597.9 873.3,605.9 877.3,613.9 889.3,623.3 900,627.3
M656.7,493.6 688.8,507 739.6,517.1 774.3,533.7 814.4,553.7 833.2,561 843.9,552.4 854.5,549.7 862.6,552.9 873.3,549.7 877.3,551.9 881.3,541.2 889.3,539 900,531
M761,588.5 773,608.6 782.4,621.9 782.9,628.6 775.7,635.3 777,651.3 774.3,656.7 777.5,667.4 771.7,678.1 766.3,687.4 770.3,694.1 765,700.8 770.3,710.2 774.3,719.5 778.3,728.9 769,735.6 759.6,744.9 761.5,752.4
M740.9,772.5 750.3,771.7 755.6,766.3 757,755.6 761.5,752.4 767.6,757 771.7,769 777,787.7 789,800
M748.9,707.5 752.9,698.1 758.3,695.5 765,702.1 770.3,710.2 781,714.2 779.7,719.5 786.4,720.9 779.7,724.9 778.3,728.9 773,726.2 774.3,719.5 763.6,718.2 758.3,711.5 750.3,710.2Z
M821.1,766.3 823.8,765 823.8,774.3 821.1,779.7 826.5,785 829.1,791.7 825.7,794.4 823.8,786.4 818.4,779.7 821.1,773Z
M1079.7,400 1041.7,484.2 1048.4,492.2 1048.4,498.9 1044.4,509.6 1044.4,523 1040.9,533.7
M900,531 902.7,523 910.7,514.4 930.7,514.4 940.1,524.3 953.5,531 964.2,533.7 1040.9,533.7
M1048.4,497.6 1053.7,507 1060.4,523 1063.1,533.7 1073.8,544.4 1083.2,550.3 1244.9,560.4
M964.2,533.7 966.8,549.7 964.2,563.1 962,573.8 970.1,584.5 973.5,589 990.9,590.4 1001.1,592.5 1001.6,601.9 998.9,608.6 1002.9,616.6 1004.3,624.6 998.9,635.3 993.6,644.7 982.9,654
M900,626.7 910.7,627.3 921.4,632.6 932.1,640.6 945.5,643.9 954.8,652.7 972.2,651.3 983.4,656.1 989.6,663.4 990.9,678.1 989.6,691.4 986.9,692.8 994.9,702.1 996.3,720.9 1041.7,722.2 1039,732.9 1040.4,746.3 1052.4,750.3 1057.8,758.3 1063.1,769.5 1057.8,782.4 1051.9,800
M1057.8,758.3 1064.4,761 1073.8,755.6 1081.8,747.6 1097.9,743.6 1108.6,748.9 1120.6,754.3 1132.6,752.9 1142,755.6 1152.7,748.9 1154,761 1170.1,764.2
M1327.8,400 1322.5,413.4 1313.1,426.7 1295.7,437.4 1285,445.5 1283.7,449.5 1295.7,453.5 1293,464.2 1287.7,472.2 1282.4,480.2 1271.7,486.9 1267.6,498.9 1271.1,509.6 1267.6,520.3 1261,533.7 1250.3,547.1 1244.9,560.4 1239.6,573.8 1235.6,587.2 1232.9,605.9 1234.2,624.6 1236.4,635.3 1234.2,646 1228.9,656.7 1227.5,670.1 1223.5,686.1 1212.8,691.4 1207.5,702.1 1194.1,711.5 1186.1,718.2 1183.4,727.5 1175.4,736.9 1170.1,747.6 1170.1,758.3 1172.7,773 1178.1,779.7 1191.4,785 1207.5,791.7 1226.2,798.4 1228.9,800
M1285,445.5 1301.1,445.5 1311.8,452.1 1315,466.8 1313.1,485.6 1309.1,494.9 1317.1,504.3 1326.5,515 1337.2,512.3 1338.5,523 1327.8,528.3 1325.1,539 1330.5,545.7 1337.2,555.1 1341.2,565.8 1351.9,571.1
M1351.9,571.1 1354.5,557.8 1351.9,539 1357.2,525.7 1363.9,505.6 1381.3,497.6 1400,484.2
M1351.9,571.1 1359.9,573.8 1367.9,583.2 1375.9,586.6 1389.3,579.7 1400,577.8
M1236.4,635.3 1243.6,627.3 1247.1,625.1 1243.6,635.3 1255.6,640.6 1267.6,646 1269,638 1274.3,635.3 1279.7,638 1287.7,643.3 1290.4,647.3 1301.1,646 1310.4,650 1313.1,644.7 1327.8,643.3 1343.9,639.3 1351.9,638.5
M1351.9,571.1 1343.9,581.8 1337.2,595.2 1347.9,605.9 1343.9,621.9 1349.2,629.9 1346,639.3 1347.1,647.3 1343.9,656.7 1346.5,667.4 1351.9,675.4 1351.9,687.4 1349.2,695.5 1359.9,688.8 1378.6,676.7 1392,671.4 1400,670.6
M1349.2,695.5 1343.9,687.4 1335.8,683.4 1337.2,691.4 1327.8,690.1 1329.1,704.8 1327.8,711.5 1317.1,715 1314.4,724.9 1321.1,731.6 1322.5,739.6 1314.4,747.6 1318.4,758.3 1317.1,767.6 1306.4,774.3 1293,773 1274.3,773.8 1265,779.1 1255.6,778.3 1242.2,782.4 1234.2,793 1228.9,800
M1294.4,703.5 1315.8,702.7 1317.1,715 1293.6,715.5Z
M1367.9,770.3 1370.6,774.3 1366.6,777 1371.9,779.7 1369.3,783.7 1377.3,785 1373.3,787.7 1378.6,789
M1363.9,778.3 1369.3,779.1
M1370.6,782.4 1374.6,781
M988.2,800 1007,797.1 1025.7,800
M1570,434.8 1581.2,440.1 1597.3,441.4 1612,441.4 1617.3,446.8 1621.3,456.1 1625.3,469.5 1628,482.9 1631.5,492.2 1630.2,504.3 1629.4,515 1626.1,525.7 1622.7,536.4 1614.7,548.4 1605.3,557.8 1597.3,567.1 1590.6,575.9 1581.2,581.8 1573.2,589.8 1566.5,600.5 1561.2,612.6 1554.5,624.6 1546.5,635.3 1539.8,638.8 1534.4,639.3 1527.8,646 1523.7,654 1525.1,667.4 1524.5,680.7 1526.4,694.1 1529.1,710.2 1525.1,720.9 1521.9,734.2 1520.3,747.6 1522.4,757 1514.4,763.6 1508.5,771.7 1507.7,782.4 1508.2,800
M1529.1,632.6 1533.6,629.4 1538.4,632.1 1537.9,638
M1522.9,651.3 1527.8,648.7 1528.3,654 1525.1,658 1527.8,663.4 1524.5,667.4
M1446.2,400 1436.8,401.3 1432.8,410.7 1427.5,418.7 1428.8,429.4 1427.5,433.4 1431,448.1 1423.5,457.5 1423.5,466.8 1429.4,473.5 1427.5,482.9 1412.8,485.6 1399.4,483.4 1395.4,489.6 1386,494.9 1378,500.3 1370,502.9
M1463.6,400 1468.9,410.7 1472.9,420.1 1470.3,429.4 1472.9,440.1 1474.3,453.5 1479.6,466.8 1482.3,477.5 1490.3,484.2 1487.6,490.9 1486.3,498.9 1482.3,500.3
M1472.9,420.1 1476.4,426.7 1475.6,437.4 1477.5,448.1 1474.3,453.5
M1482.3,500.3 1498.3,498.4 1509,497.6 1517.1,502.9 1525.1,509.6 1530.4,507 1534.4,502.9 1535.8,494.9 1530.4,488.2 1534.4,485.6 1536.3,473.5 1541.1,466.8 1547.8,460.2 1554.5,448.1 1559.8,437.4 1570,434.8
M1536.3,473.5 1546.5,476.2 1557.2,469.5 1571.9,465.5 1567.9,473.5 1562.5,480.2 1573.2,484.2 1581.2,482.9 1582.6,488.2 1587.9,484.2 1589.3,473.5 1593.3,472.2 1602.6,476.2 1616,477.5 1626.7,477.5
M1534.4,502.9 1543.8,509.6 1554.5,507 1565.2,497.6 1574.5,498.9 1573.2,505.6 1567.9,513.6 1571.9,516.3 1574.5,525.1 1581.2,520.3 1586.6,512.3 1597.3,509.1 1606.6,507 1613.3,500.3 1621.3,498.4 1630.2,502.9
M1482.3,500.3 1485,509.6 1486.3,517.6 1477,525.7 1467.6,532.4 1477,533.7 1479.6,544.4 1483.6,551.1 1493,547.1 1494.3,540.4 1503.7,536.4 1509,531 1515.7,527.8 1525.1,532.4 1535.8,535 1543.8,539 1545.1,549.7 1554.5,536.4 1562.5,539 1575.9,547.1 1589.3,545.7 1599.9,537.7 1613.3,534.2 1622.7,536.4
M1545.1,549.7 1549.1,553.7 1567.9,560.4 1581.2,568.4 1590.6,575.9
M1549.1,553.7 1551.8,563.1 1555.8,571.1 1554.5,581.8 1544.3,584.5 1549.1,592.5 1550.5,599.2 1559.8,603.2 1566.5,600.5
M1467.6,532.4 1458.2,539 1450.2,545.7 1434.2,552.4 1422.1,549.2 1412.8,545.7 1404.8,552.4 1408.8,563.1 1402.1,573.8 1394.1,579.1 1383.4,580.5 1375.3,585.8 1370,584.5
M1370,682.1 1380.7,674.1 1392.7,670.1 1404.8,672.7 1403.4,680.7 1412.8,684 1423.5,680.7 1434.2,687.4 1447.5,693.6 1455.6,692 1464.9,700.8 1467.6,707.5 1479.6,707 1495.7,710.2 1504.5,716.8 1495.7,727.5 1494.3,735.6 1487.6,739.6 1486.3,748.9 1495.7,759.6 1508.5,771.7
M1495.7,761.5 1482.3,763.1 1468.9,763.6 1472.9,770.3 1462.2,779.7 1467.6,787.7 1475.6,793 1477,800
M745.7,800 747.1,816 745.7,832.1 749.2,848.1 746.5,864.2 744.4,880.2 740.4,890.9 736.4,890.9 735,900.3 740.4,902.9 737.7,912.3 736.4,928.3 739,944.4 733.2,957.8 734.2,971.1 731,984.5 727,992.5 727,1003.2 722.5,1011.2 720.9,1024.6 712.8,1036.6 714.4,1046 717.6,1052.7 717.1,1063.4 708.3,1071.4 707,1080.7 709.6,1094.1 712.3,1110.2 715,1123.5 711,1134.2 707,1140.9 709.6,1152.9 705.6,1161 700.3,1169 697.6,1179.7 693.6,1191.7 688.2,1200
M788.5,800 783.2,806.7 785.8,812 781.3,817.4 781.8,825.4 787.2,830.7 786.6,836.1 792.5,841.4 795.2,848.1 797.9,858.8 801.9,869.5 804,885.6 813.9,886.4 820.6,885
M820.6,885 824.6,890.9 817.1,915.5 803.2,920.3 792.5,925.1 786.6,932.4 790.4,941.7 785.8,949.7 788.5,960.4 790.4,968.4 785.8,976.5 793,987.2 789.8,991.2 780.5,992.5 775.1,1003.2 771.1,1012.6 759.1,1024.6 755.1,1038 749.7,1047.3 752.4,1058 754.3,1071.4 745.7,1075.4 743,1088.8 736.4,1095.5 735.8,1104.8 740.4,1111.5 744.4,1112.8 741.7,1116.8 746.5,1126.2 747.6,1134.2 751.1,1144.9 755.1,1148.9 752.4,1161 754.5,1170.3 748.4,1174.3 743.9,1182.4 740.4,1194.4 736.9,1195.7 739,1200
M820.6,885 825.9,877.5 831.3,874.9 832.6,869.5 842,866.8 844.7,860.2 848.7,860.2 856.7,866.8 867.4,865.5 883.4,867.4 887.4,872.2 892,886.1 902.1,864.2 930.2,864.2 935,870.1
M935,870.1 937.4,858.8 942.2,842.8 943.6,826.7 952.9,816 957,805.3 989,800
M935,870.1 944.9,877.5 950.3,889.6 961,897.6 973,902.9 977,909.6 993,915 999.7,914.4 1011.8,921.7 1023.8,929.7 1038.5,935 1054.5,940.4 1061.8,951.1 1054.5,960.4 1046.5,969.8 1043.9,981.8 1034.5,993.9 1034.5,996.5 1054.5,996.5 1070.6,1001.1 1078.6,999.2 1090.6,1003.7 1100,997.9
M1026.5,800 1046.5,808 1054.5,812.8 1047.1,817.4 1051.9,829.4 1054.5,840.1 1051.9,853.5 1050.5,865.5 1065.2,869 1078.6,871.7 1089.3,866.3 1100,871.7
M1051.9,800 1047.1,809.4
M924.9,1081.6 934.2,1077.5 943.6,1078.9 945.7,1083.4 942.2,1086.1 935.6,1085.6 932.4,1088.8 928.9,1084Z
M1379.7,897.6 1370.3,905.6 1358.3,909.1 1342.2,913.6 1326.2,923 1312.8,933.7 1302.1,940.4 1296.8,949.7 1287.4,960.4 1283.4,971.1 1286.1,987.2 1288.8,999.2 1287.4,1011.2 1282.1,1027.3 1270.1,1035.3 1260.7,1044.7 1251.3,1059.4 1243.3,1075.4 1235.3,1088.8 1221.9,1100.8 1205.9,1111.5 1195.2,1120.9 1188.5,1134.2 1184.5,1144.9 1171.1,1155.6 1163.1,1159.6 1156.4,1171.7 1144.4,1181 1128.3,1187.7 1107,1185.8 1090.9,1186.4 1074.9,1179.7 1056.1,1175.7 1041.4,1167.6 1037.4,1174.3 1045.5,1182.4 1061.5,1190.4 1072.2,1200
M1365,908.3 1370.3,906.4 1370.3,912.3 1365.8,912.8Z
M1283.4,971.1 1282.1,963.1 1287.4,960.4
M1280.7,952.4 1288.8,955.1 1294.1,947.1 1300.8,941.7
M1286.1,999.2 1290.1,1003.2 1288.2,1008.6
M1279.4,1027.3 1280.7,1023.3 1282.9,1026.7
M1036.1,1167.6 1040.1,1158.3 1037.4,1147.6 1040.1,1142.2 1048.1,1140.9 1045.5,1124.9 1046.8,1111.5 1049.5,1098.1 1053.5,1088.8 1053.5,1076.7 1060.2,1070.1 1068.2,1059.4 1080.2,1050 1088.2,1038 1100.3,1027.3 1107,1020.6 1115,1013.9 1128.3,1004.5 1144.4,996.5 1156.4,993 1173.8,993 1192.5,997.3 1208.6,1003.2 1221.9,1011.2 1234,1023.3 1246,1025.9 1256.7,1027.3 1256.7,1032.6 1252.7,1035.3 1251.3,1042 1247.3,1046 1258,1046.5
M1040.1,1142.2 1046.8,1142.2 1046,1127.5
M1060.2,1070.1 1074.9,1066.8 1085.6,1072.7 1100.3,1084.8 1101.6,1090.9 1109.6,1086.1 1119,1095.5 1131,1099.5 1144.4,1108.8 1155.1,1116.8 1163.1,1127.5 1171.1,1130.2 1180.5,1123.5 1184.5,1118.2 1185.8,1128.9 1188.5,1134.2
M1184.5,1118.2 1176.5,1131.6 1171.1,1136.9 1160.4,1142.2 1163.1,1157 1173.8,1150.3 1181.8,1142.2 1185.8,1134.2
M1165.8,1136.9 1173.8,1131.6 1171.1,1144.9 1164.4,1152.9
M1196.5,1115.5 1199.2,1107.5 1203.2,1098.1 1213.9,1092.8 1217.9,1080.7 1221.9,1072.7 1217.9,1066 1223.3,1071.4 1232.6,1071.4 1237.4,1070.1 1236.6,1078.1 1231.3,1087.4 1223.3,1094.1 1213.9,1103.5 1205.9,1111.5 1199.2,1118.2Z
M1034.8,996.5 1058.8,997.9 1072.2,1000.5 1080.2,999.2 1090.9,1003.2 1096.3,997.9 1109.6,999.2 1115,989.8 1128.3,981.8 1133.7,973.8 1135,955.1 1137.7,945.7 1141.7,928.3 1144.4,915
M1135,953.7 1145.7,952.9 1153.7,956.4 1157.8,967.1 1160.4,971.1 1157.8,973.8 1157.8,987.2 1156.4,993
M1157.8,968.4 1165.8,969.8 1181.8,973.8 1197.9,976.5 1213.9,979.7 1218.7,976.5 1219.3,969 1232.6,969.8 1236.6,965.2 1251.3,965.8 1262,969.8 1272.7,965.2 1282.1,963.6 1286.1,960.4
M1144.4,915 1133.7,909.6 1120.3,914.4 1115,912.3 1112.3,898.9 1109.6,880.2 1107,872.2 1090.9,866.8 1080.2,870.9 1066.8,869 1050.8,866.3 1052.1,850.8 1054.8,837.4 1050.8,824.1 1047.6,816 1054.8,812.8 1047.6,809.4 1026.7,800
M1047.6,809.4 1050.8,800
M1144.4,915 1149.7,901.6 1157.8,894.9 1160.4,885.6 1173.8,878.9 1187.2,870.9 1197.9,858.8 1203.2,845.5 1211.2,829.4 1219.3,821.4 1225.9,814.7 1227.3,800
M1225.9,814.7 1238,810.2 1251.3,812 1267.4,813.4 1270.1,821.4 1278.1,824.1 1279.4,818.7 1294.1,816.6 1312.8,812.8 1319.5,818.7 1319.5,828.1 1323.5,837.4 1324.9,848.1 1336.9,850.8 1338.2,858.8 1332.9,866.8 1334.2,876.2 1340.9,880.2 1342.2,886.9 1355.6,885.6 1359.6,880.2 1374.3,877.5 1382.4,876.2 1395.7,880.2 1391.7,888.2 1379.7,893.6
M1173.8,878.9 1197.9,878.1 1208.6,881.6 1227.3,884.2 1240.6,888.2 1251.3,887.7 1259.4,893.6 1260.7,907 1267.4,917.6 1268.7,931 1280.7,932.4 1287.4,933.7 1288.8,939 1294.1,940.4 1296.8,949.7
M1344.9,830.7 1350.3,832.1 1347.6,837.4 1354.3,836.1 1359.6,828.1 1361,837.4 1369,841.4 1361,842.8 1357,849.5 1362.3,852.1 1352.9,848.1 1347.6,850.8 1351.6,844.1 1346.3,840.1
M1324.9,822.7 1330.2,825.4 1335.6,829.4 1331.6,826.7
M1385,846.8 1389,849.5 1391.7,852.1
M1287.4,877.5 1292.8,880.2 1300.8,880.2 1294.1,882.4
M1270.1,894.9 1275.4,893.6 1286.1,896.3 1284.8,901.6 1280.7,897.6 1276.7,901.1 1272.7,896.3 1270.6,901.1
M1080.2,1134.2 1088.2,1131.6 1092.2,1135.6 1097.6,1130.2 1107,1127.5 1115,1124.9 1108.3,1130.2 1100.3,1132.9 1096.3,1138.2
M1509,800 1499.7,810.7 1493.5,822.7 1487.6,832.1 1479.6,837.4 1476.4,846.8 1475.1,856.1 1477,864.2 1463.6,869 1455.6,873.5 1450.2,880.2 1453.4,884.2 1450.2,888.2 1427.5,888.2 1420.8,886.9 1424.8,882.9 1420.8,881.6 1419.5,885.6 1410.1,890.4 1396.7,893 1386,892.2 1380.7,897.6 1370,902.9
M1477,800 1471.6,808 1466.3,818.7 1455.6,820.1 1454.2,826.7 1455.6,833.4 1448.9,840.1 1444.9,849.5 1442.2,857.5 1423.5,866.3 1407.4,866.3 1391.4,871.7 1380.7,874.9 1370,878.3 1362,877.5
M1455.6,833.4 1458.2,842.8 1468.9,845.5 1476.4,846.8
M1380.7,876.2 1395.4,878.9 1394.1,884.2 1386,886.9 1380.7,892.2 1386,893.6 1392.7,889.6 1403.4,886.9 1410.1,890.4
M1491.7,820.1 1494.3,821.4 1493,824.1
M1384.7,846.8 1388.7,849.5 1390.9,852.1
M1038,1150 1036.6,1158 1040.6,1164.7 1036.6,1172.7 1042,1180.7 1056.7,1187.4 1067.4,1192.8 1072.7,1199.5 1066,1207.5 1067.4,1216.8 1075.4,1222.2 1082.9,1223.5 1084,1235.6 1074.1,1248.9 1063.4,1259.6 1062,1267.6 1048.7,1273.5 1027.3,1280.5 1000.5,1285.8 973.8,1289 960.4,1289.6 949.7,1287.7 941.7,1284.5 943,1295.7 948.4,1299.7 947.1,1310.4 943,1313.1 939,1322.5 944.4,1331.8 939,1337.2 925.7,1342.5 904.3,1343 890.9,1338.5 878.9,1334.5 872.2,1334.5 870.9,1339.8 874.9,1353.2 873.5,1363.9 880.2,1369.3 888.2,1370.6 901.6,1367.1 908.3,1367.9 911.8,1377.3 909.6,1385.3 897.6,1386.6 893.6,1379.9 885.6,1377.3 875.7,1382.6 892.2,1389.3 877.5,1394.7 868.2,1404 868.2,1414.7 869.5,1422.7 865.5,1428.1 857.5,1432.1 860.2,1439.3 848.1,1438.8 837.4,1442.8 826.7,1445.5 817.4,1454.8 810.7,1465.5 812,1477.5 821.4,1485.6 832.1,1490.9 850.8,1492.8 856.7,1497.6 854.8,1507 849.5,1509.6 840.1,1511 853.5,1513.6 849.5,1517.6 834.8,1524.3 821.4,1531 810.7,1540.4 805.3,1550
M1038,1158 1046,1168.7 1054,1176.2 1070.1,1175.4 1079.4,1182.1 1090.1,1184.2 1094.1,1187.4 1107.5,1184.2 1118.2,1185.3 1126.2,1188.8 1136.9,1184.8 1144.9,1180.7 1155.6,1174.1 1159.6,1167.4 1163.6,1159.4 1177,1150
M888.2,1370.6 893.6,1373.3 899.5,1370.6
M945.7,1289 952.4,1291.7 952.9,1295.7 947.1,1293
M1233.5,321.2 1236.3,320 1239.2,318.7 1241.8,317.1 1245.3,318 1248.8,318.8 1252.4,318.8 1255.5,319.7 1258.6,320.5 1261.8,320.6 1265.7,318.6 1270,317.6 1273,318.2 1275.8,319.3 1278.8,319.6 1281.8,320 1285.1,320.9 1288.5,320.3 1291.8,321.2 1290.9,324.7 1290,328.2 1289.1,332.4 1287.6,336.5 1285.5,338.8 1283.5,341.2 1280,344.1 1280.6,348.2 1276.5,347.1 1277.1,351.8 1272.4,350 1270,353.5 1266.5,351.8 1262.9,351.8 1264.1,355.3 1259.4,355.3 1256.5,354.7 1257.1,357.6 1254.7,358.8 1250,355.9 1245.3,357.6 1244.1,352.9 1244.7,357.6 1240.6,361.2 1235.9,360 1232.4,356.5 1234.1,352.9 1231.2,349.4 1229.4,344.7 1230,341.2 1233.5,341.3 1237.1,341.2 1234,341.2 1231.2,340 1226.5,342.4 1230,337.6 1232.4,334.1 1231.2,329.4 1234.2,330 1237.1,331.2 1232.4,328.2 1233.5,324.7 1233.5,321.2Z
M1232.4,357.6 1235.9,360 1238.5,362.1 1240.6,364.7 1245.3,361.2 1249,361.3 1252.4,360 1253.1,363.1 1254.7,365.9 1255.9,362.4 1260.6,363.5 1264.1,358.8 1267.6,357.6 1268.2,361.2 1267.6,364.4 1265.9,367.1 1264.2,369.8 1263.5,372.9 1261.8,377.6 1258.2,380.6 1260.6,381.2 1264.1,377.1 1264.7,373.6 1266.5,370.6 1267.8,367.7 1268.8,364.7 1270,361.8 1272.8,360.3 1275.9,360 1276.9,356.9 1279.4,354.7 1282.9,351.2 1287.6,351.8 1288.8,354.7 1291.2,352.9 1288.8,349.4 1289.4,346.5 1292.4,343.5 1293.5,340 1296.5,335.3 1298.2,331.2 1302.9,330.6 1308.8,330.6 1312.4,329.4 1315.9,334.1 1314.7,329.4 1317.5,330.7 1320.6,330.6 1324.1,333.5 1327.1,331.2 1327.6,335.3 1331.2,334.1 1334.7,337.6 1339.4,340 1344.1,337.6 1345.3,342.4 1350,342.4 1354.7,345.3 1359.4,345.9 1364.1,349.4 1370,350 1373.4,348.1 1377.1,347.1 1379.4,351.8 1382.1,354.4 1384.1,357.6 1385.8,361.1 1388.8,363.5
M1386.9,362 1388.2,365.9 1390.1,369.5 1388.7,372.8 1386.9,375.9 1385.4,379 1384.7,382.4 1383.7,385.6 1382.5,389.1 1381.8,392.8 1380.5,396.3 1382.9,394.5 1384.9,392.1 1387.2,390.2 1389,387.7 1391.4,385.8 1393.2,383.3 1395.5,381.3 1397.6,375.9 1400.8,376.9 1404,378.1 1407.4,376.4 1411,374.9 1414.7,373.8 1418,373.9 1421.1,374.7 1424.3,375.5 1427.5,375.9 1431.3,377.3 1434.6,379.7 1438.2,381.3 1441.4,381.4 1444.7,381.7 1447.8,382.4 1451.1,382.4 1455.3,384.5 1458.5,385 1461.8,385.4 1465,386.1 1468.2,386.6 1471.6,386.4 1475,385.3 1478.5,385.8 1481.8,384.4 1485.3,384.5 1488.3,384.9 1491.3,385.1 1494.3,384.4 1497.3,385.3 1500.3,385.1 1503.6,386.7 1506.7,388.6 1510.1,389.8 1513.1,392 1516.3,393.3 1519.3,395.1 1521.9,397.5 1525.2,398.5 1528.1,400.5 1530.5,402.4 1533,404.3 1535.5,406 1538.4,407.3 1540.9,409.1 1543.2,411.7 1545.2,414.5 1547.1,417.3 1549.5,419.8 1552.4,421.9 1554.7,424.8 1557.3,427.2 1560.2,429.4 1563.2,431.5 1566.8,432.6 1569.8,434.8
M1250,306.4 1256.4,309.6 1266,312.8 1267.1,317.1 1258.6,319.3 1252.1,315
M1384.8,370.6 1390.1,373.8 1389,381.3 1384.8,389.8
M1392.2,378.1 1397.6,374.9 1399.7,379.1 1395.5,384.5 1392.2,382.4Z
M1346.3,343.9 1345.4,347 1345.8,350.4 1345.1,353.5 1344.4,356.7 1344.1,359.9 1342.6,363 1342.1,366.4 1340.5,369.4 1339.8,372.7 1338.4,375.9 1337.3,379.2 1336,382.4 1334.5,385.6 1333.4,389.3 1332,392.9 1330.2,396.3 1328.3,400.5
M1454.3,384.5 1452.1,392 1444.7,399.5
M1469.3,386.6 1465,399.5
M687.7,1200 685,1210.7 681,1214.7 678.3,1225.4 671.7,1233.4 669.8,1242.8 659.6,1244.9 658.3,1254.8 663.6,1264.2 662.3,1277.5 667.6,1288.2 669.8,1297.6 665,1309.6 658.3,1313.6 655.6,1327 650.3,1339 652.9,1348.4 657,1353.7 662.3,1354.5 671.7,1357.8 675.7,1352.4 682.4,1353.7 683.7,1357.8 691.7,1355.1 691.7,1349.7
M678.3,1360.4 689,1365.8 687.7,1375.1 681,1371.1 678.3,1384.5 682.4,1391.2 675.7,1395.2 673,1401.9 678.3,1405.9 674.3,1411.2 681,1416.6 675.7,1423.3 683.7,1427.3 678.3,1435.3
M640.9,1396.5 644.9,1384.5 646.3,1371.1 649.5,1360.4 657,1359.9 663.6,1361.8 665,1371.1 662.3,1381.8 665,1389.8 657,1399.2 647.6,1398.4Z
M655.6,1373.8 662.3,1375.1 659.6,1381.8
M657,1387.2 663.6,1388.5
M739.8,1200 741.2,1210.7 739.8,1217.4 734.5,1219.3 730.5,1225.4 723.8,1226.7 721.1,1234.8 722.5,1244.1 720.6,1253.5 723.8,1264.2 726.5,1277.5 729.1,1280.2 723.8,1283.4 715.8,1286.1 714.4,1296.3 709.1,1302.9 709.1,1312.3 705.1,1323 706.4,1328.3 702.4,1336.4 703.7,1347.1 703.7,1357.8 706.4,1363.1 702.4,1368.4 697.1,1369 697.1,1381.8 696.5,1391.2 705.1,1393 707.8,1399.2 705.1,1405.9 709.1,1411.2 705.1,1421.9 710.4,1425.9 721.1,1426.7 722.5,1429.9 717.1,1435.3 710.4,1434.8 698.4,1434 699.7,1438 710.4,1438 715.8,1443.3 717.9,1448.7 710.4,1452.7 706.4,1458 710.4,1463.4 705.1,1470.1 710.4,1475.4 707.8,1483.4 703.7,1490.1 702.4,1494.1 694.4,1499.5 689,1504.8 687.7,1512.8 693,1518.2 691.7,1524.9 685,1527.5 686.4,1536.9 681,1544.9 666.3,1547.6 661,1552.9 663.6,1559.6 662.3,1569 669,1574.3 673,1582.4 689,1579.7 694.4,1585 693,1593 694.4,1600
M678.3,1490.1 683.7,1478.1 694.4,1475.4 707.8,1472.7 721.1,1476.7 710.4,1479.4 699.7,1478.1 689,1482.1 682.4,1483.4
M673,1531.6 683.7,1526.2 686.4,1534.2 694.4,1542.2 689,1544.9 683.7,1539.6 678.3,1534.2
M674.3,1552.9 689,1554.3 698.4,1557 694.4,1559.6 678.3,1557Z
M669,1565 683.7,1570.3 699.7,1568.4 701.1,1571.7 683.7,1573.8 670.3,1582.4 667.6,1573Z
M1050,1273.5 1031.3,1278.9 1004.5,1285 977.8,1288.2 959.1,1289.6 948.4,1286.1 941.7,1285 943,1292.2 948.4,1300.3 947.1,1309.6 943,1317.6 939,1324.3 944.4,1331 940.4,1336.4 927,1341.7 905.6,1343 894.9,1339 881.6,1335 877.5,1332.4 872.2,1336.4 872.2,1345.7 874.9,1355.1 874.9,1364.4 881.6,1369.8 894.9,1371.1 905.6,1367.1 911,1372.5 911,1383.2 897.6,1386.6 893.6,1384.5 893.6,1376.5 886.9,1375.1 898.9,1372.5 897.6,1369.8 885.6,1375.1 875.7,1383.2 884.2,1387.2 893.6,1389.8 881.6,1395.2 873.5,1399.2 868.2,1405.9 869.5,1416.6 868.2,1427.3 857.5,1432.6 860.2,1439.3 849.5,1438 837.4,1443.3 825.4,1446 816,1454 810.7,1463.4 810.7,1472.7 816,1480.7 828.1,1488.8 844.1,1492 854.8,1495.5 857,1502.1 852.1,1510.2 841.4,1511.5 854.8,1512.8 850.8,1518.2 841.4,1522.2 830.7,1527.5 820.1,1532.9 810.7,1540.9 806.7,1548.9 808,1555.6 805.3,1563.6 790.6,1567.6 782.6,1570.3 775.9,1575.7 771.9,1585 770.6,1593 773.3,1600
M775.9,1565 784,1564.2 788,1567.6
M782.6,1558.3 786.6,1565
M765.2,1590.9 771.9,1589
M775.9,1447.3 781.3,1450 786.6,1452.7 785.3,1456.7 778.6,1455.3 776.7,1451.3Z
M945.7,1288.2 952.4,1290.9 951.1,1294.9 947.1,1292.2Z
M773.3,1600.1 771.4,1593.4 774.6,1601.4 778.6,1608.1 782.6,1616.1 789.3,1621.5 789.3,1624.2 777.3,1621 763.9,1617.5 750.5,1614.3 702.4,1614 695.7,1608.1 689,1602.8 693,1594.7 694.4,1584.1 689,1578.7 683.7,1580 675.7,1577.4 669,1582.7 667.6,1573.4 662.3,1565.3 661,1554.6 667.6,1549.3
M761.2,1604.9 771.9,1604.1 775.9,1606.8
M766.6,1589.4 771.9,1588.1
M789.3,1624.2 779.9,1629.5 771.9,1631.6 763.9,1625.5 758.6,1628.2 747.9,1633.5 739.8,1632.2 730.5,1633.5 727.8,1645.6 726.5,1658.9 721.1,1661.6 710.4,1660.3 699.7,1656.2 689,1654.9
M785.3,1630.8 793.9,1638.9 790.6,1644.2 797.3,1652.2 806.7,1660.3 820.1,1668.3 833.4,1673.6 844.1,1677.6 860.2,1680.3 872.2,1682.4 869.5,1687 857.5,1688.3 838.8,1689.7 817.4,1687 801.3,1685.7 785.3,1686.2
M784.8,1630.8 784.8,1687
M781.3,1678.2 817.4,1678.2
M782.6,1686.2 825.4,1687.8 833.4,1693.7 822.7,1696.4
M738.5,1645.6 739.8,1636.2 747.9,1637 746.5,1640.2 741.2,1640.7 738.5,1648.2 745.2,1651.4 763.9,1648.2 766.6,1651.4 753.2,1656.2 746.5,1660.3 753.2,1666.9 763.9,1669.6 774.6,1673.6
M881.6,1685.1 892.2,1683.5 904.3,1683 897.6,1685.7 884.2,1687Z
M984.1,1599.3 986.5,1598.1 991.3,1601.3 999.4,1601.7 1001.8,1599.3 1008.2,1600.9 1017,1601.7 1019.4,1599.7 1013.8,1596.5 1005.4,1596.1 1010.6,1598.1 1014.6,1602.1 1012.2,1605.3 1008.2,1609.3 1003.4,1614.1 999.4,1613.7 993.7,1614.5 993.3,1618.1 989.7,1618.5 987.7,1617.3 985.7,1621.3 983.3,1619.7 980.1,1618.5 977.7,1617.3 974.5,1616.1 978.5,1614.9 981.7,1614.1 989.7,1613.7 991.3,1610.9 988.1,1609.7 984.9,1607.7 988.9,1607.7 994.5,1607.3 997,1606.9 992.9,1605.3 989.7,1603.7 987.7,1602.5Z
M992.9,1597.3 999.4,1597.3 999.8,1599.7 996.1,1600.9 993.7,1599.3Z
M985.7,1606.5 988.1,1608.5 991.3,1607.7 995.3,1606.1 992.1,1609.3 989.7,1611.7
M1023,1601.7 1025,1600.1 1027.4,1597.7 1031.4,1597.3 1033.8,1598.1 1036.3,1597.3 1040.3,1597.7 1043.5,1600.1 1045.9,1599.3 1052.3,1599.3 1054.7,1601.3 1056.7,1602.5 1055.5,1604.5 1056.7,1606.9 1053.9,1607.7 1047.5,1608.5 1044.3,1610.5 1041.1,1612.1 1034.6,1612.1 1035.5,1614.1 1034.6,1617.3 1031.4,1615.7 1028.2,1616.9 1024.2,1614.9 1019.4,1614.1 1023.4,1616.5 1024.2,1620.1 1020.2,1619.7 1017,1618.5 1015.4,1619.3 1017,1623.3 1013.8,1622.5 1010.6,1620.1 1007.8,1618.1 1010.6,1615.3 1012.2,1612.5 1014.6,1610.1 1020.2,1607.7 1024.2,1606.9 1026.2,1609.7 1029,1611.7 1034.6,1612.1
M1023,1601.7 1021.8,1604.5 1023.4,1605.7 1025,1602.9Z
M1037.5,1599.7 1039.5,1601.7 1041.1,1602.9 1043.5,1604.5 1045.1,1605.7 1044.3,1603.7 1041.9,1602.1 1039.5,1600.1Z
M1047.5,1603.3 1050.7,1602.5 1056.3,1602.9 1050.7,1604.1Z
M967.3,1608.5 969.7,1606.5
M972.1,1611.7 974.5,1609.3 977.7,1609.3 979.3,1610.9 976.9,1613.3 973.7,1612.9Z
M1549.7,1665.6 1557.2,1663.7 1567.9,1665.6 1581.2,1667.5 1589.3,1671 1598.6,1676.3 1605.3,1684.3 1599.4,1687 1591.9,1681.6 1583.9,1676.3 1575.9,1673.6 1566.5,1671 1558.5,1668.3Z
M480,1157 482,1158
M527,1154 529,1155
M629,1471.6 621.2,1473.5 611.4,1477.4 607.5,1481.3 608.5,1486.2 613.4,1488.1 615.3,1484.2 611.4,1482.3 619.2,1479.4 624.1,1479.4 629,1484.2 638.7,1485.2 646.5,1489.1 648.5,1495 640.7,1496.9 638.7,1492
M629,1403 633.8,1403 634.4,1404.9 629.6,1405.3Z
M621.8,1434.6 624.1,1434.6 624.3,1436.9 622,1437.1Z
M673.8,1450.1 679.6,1449.2 680,1451.1 674.2,1451.7Z
M653,1407.4 654.4,1406.7 655.6,1408.7 656.6,1409.5 656.4,1410.6 657.2,1412.8 655.5,1412.9 654.4,1411 652,1410.6 651.6,1408.3Z
M652.4,1406.9 652.2,1405.7 653.2,1405.3 654.7,1404.7 655.3,1406.1 655.9,1407.3 655.3,1408.4 654.5,1409.5 653.2,1409.3 652.4,1408.6 650.6,1408.2Z
M645.4,1410.4 644,1411.3 642.8,1409.6 641.7,1407.5 643.4,1406.4 644.7,1408.2 645.5,1409.1Z
M635.3,1410.8 634.5,1410.1 634.2,1408.2 636.3,1406.8 637.4,1407.9 638.3,1408.3 637.9,1409.5 637.1,1410.4 635.7,1412.5Z
M635.6,1410.2 633.6,1411.6 632.7,1412.5
M651.8,1408.8 655.2,1409.7 658.4,1410.9 660.9,1412.8 662.9,1413.9 664.8,1415.4 662,1414.4 661,1414.8 656.9,1412.9 655.5,1411.3Z
M658.2,1412.4 656.2,1412.3 653.9,1413.4
M647,1413.4 646.4,1412.3 648,1411.4 648,1410 649.3,1409.6 650.7,1409.3 651.3,1410.4 652,1411.1 651,1412.1 650.6,1412.7 650,1413.3 649.1,1414.3 648.3,1413.6Z
M644.1,1417.5 643.7,1416.2 645.6,1414.6 647.9,1414.8 647.4,1416.6 646.8,1417.8 644.5,1419.6Z
M658.9,1418.6 660.5,1418.8 661.9,1419.2 663.2,1420.4 663.1,1421.4 662.9,1421.9 662.3,1422 661.4,1423 660,1421.5 658.7,1420Z
M662.4,1420.4 662.2,1418.1 660.4,1417.1
M653,1430.2 651.4,1428 650.7,1429.2 648.6,1425.6 648.8,1423.5 647.2,1420.3 648.7,1421.7 648.1,1418.9 649.9,1421.9 650.9,1424.5 651.7,1426.2 652.1,1427.7Z
M649.7,1426.2 651.6,1427 652.8,1427.9
M638.3,1420.8 642.8,1421.2 645.3,1420.6 648.8,1422.2 649.3,1423.6 648.8,1425 644.4,1423.7 642.4,1422.6Z
M634.4,1421.9 634.2,1421.1 635.4,1419.8 638.1,1419.2 640.1,1419.7 639.2,1421.1 638.5,1422.2 636.4,1422.6 635.2,1422.3Z
M637.2,1422.7 634.6,1420.9 632.7,1420
M658.6,1426.3 660.3,1426.7 661.3,1426.9 663.4,1426.4 662.9,1428.3 664.9,1430 663.8,1430.8 662,1430.4 660.3,1430.7 660,1428.7 659.3,1427.7Z
M660.5,1427.1 657.5,1428.6 656,1429.7
M649,1433.2 647.8,1433.5 649,1430.7 651.1,1427.8 652.1,1427.5 653.2,1426.5 654.6,1425.8 652.9,1428.9 651.1,1432.4 649.4,1433.6Z
M647.5,1433.1 644.6,1432.6 641,1432.2 639.8,1429.4 636.7,1426.6 638.8,1426.1 643.3,1428.4 648.2,1431.5Z
M641.1,1431.2 644.4,1432.2 646.8,1431.9
M636.4,1429.8 635.2,1428.7 638.6,1427.3 640.7,1425.5 641.5,1426.6 643,1426.9 642.1,1428.6 639.7,1429.8 636.2,1431.9Z
M638.1,1428.2 636.7,1428.2 634.7,1426.8
M652.9,1434.8 655.8,1433.4 659.4,1433 663.2,1434.4 662.1,1436.6 658.7,1436.9 655.3,1436.8Z
M649.1,1436.2 649.4,1434.9 652.1,1435.4 654.6,1436.8 655.8,1437.9 658.4,1439.4 658.7,1440.9 655.2,1439.8 653.4,1441.3 650.3,1439 646.2,1436.9Z
M654.8,1437.9 654.4,1439 652.7,1439.3
M649.1,1440.9 648.7,1438 647.8,1436.5 649,1433.9 649.5,1431.3 651,1428.4 652.8,1428.8 651.3,1434.3 651.2,1436.5 650.3,1437.8Z
M650,1435.1 649.2,1436.8 648.2,1437.4
M638.4,1438.5 638.2,1437.6 638,1436.1 640.3,1434.1 642.7,1433.1 645.5,1432 645.6,1433.8 645.7,1435.5 642.4,1437.3 640.5,1439.7 637.7,1440.8Z
M638.3,1439.5 637.7,1439.1 636.7,1438.2 636,1436.4 635.6,1434.2 637.1,1435.6 638.4,1437.3 638.5,1438.9Z
M653.6,1453.6 652.3,1451.9 651.6,1449.4 652.2,1446.6 653.3,1445.7 653.7,1442.2 654.9,1442.8 656.3,1443.6 656,1446.9 655.2,1448.7 654.5,1449.7Z
M654.6,1447.6 655,1449 656.6,1449.8
M636.6,1442.2 636,1442.6 635.2,1442.3 634.6,1441.7 633.4,1441 634.1,1439.9 635.2,1439.8 635.4,1438.4 636.4,1439.2 636.8,1440 638.3,1440.1 638.5,1441.3 638.1,1442.5Z
M657.6,1453.3 656.7,1451.5 655.6,1449.6 656.9,1447.4 658.8,1447.3 660.3,1448.3 660.6,1450.6 659.1,1452Z
M641.3,1452.1 643.1,1449.3 646.2,1446 649.2,1442.7 651.4,1441.2 651.7,1441.8 649.7,1444.3 647.1,1447.8 644.1,1450.1Z
M636.7,1443.5 636.9,1442.9 637.8,1442.7 638.9,1443.6 640,1444.3 642.1,1445.7 640.8,1446.2 639.5,1446.3 637.8,1446.4 636.4,1444.9 634.4,1443.6Z
M631.1,1454.1 633,1450.7 635.9,1447.1 639.3,1444.5 641.5,1443.7 640.1,1446.1 637.9,1449 634.9,1451.3Z
M638.3,1448.7 637.7,1449 636.3,1450.9
M651.7,1460.9 652.1,1459.5 655,1458.4 655.9,1456.7 657.6,1456.9 658.9,1456.9 660.6,1457.2 658.1,1458.7 657.2,1459.8 655.1,1461.2 653.4,1461Z
M656.5,1457.5 654.7,1455.8 652.5,1454.2
M652.1,1460.5 651.3,1460.2 652,1459 652.6,1457.5 654,1457 655.6,1456.1 656.4,1456.9 655.9,1458.5 654.5,1459.6 653.7,1460.2 652.2,1461.9Z
M645,1454.3 645.8,1454.3 647.6,1455 648.7,1457.5 648.4,1459.1 646.4,1457.2 645.6,1456.4 644.7,1455Z
M646.3,1454.6 645.3,1453.8 645.6,1452.4
M634.1,1456.3 636.9,1455 638.4,1454.3 641.4,1453.3 642.4,1454.5 641.9,1456 638.8,1456.4 636.5,1456.8Z
M639.1,1456.8 637.3,1456.1 636.2,1455.1
M629.9,1456.7 628.7,1457.3 629.2,1455.4 629.9,1453.1 631.2,1452 632.6,1449.7 632.2,1452.2 632.5,1452.8 632.6,1454.3 631.2,1455.6 630.3,1457.2Z
M657,1467.7 655.7,1467.5 655.5,1465.7 656.4,1464.4 656.8,1463.1 657.9,1461.6 658.9,1463 659.1,1464.2 660.5,1465.3 659.4,1466.9 658.2,1467.4Z
M658.3,1465.4 657.9,1466.3 656.5,1466.4
M649.3,1460.8 650.3,1461 651,1460.2 652.1,1460.9 653,1462 654.1,1463.5 653.2,1464.4 652.6,1465.4 651,1463.9 650,1464.5 648.7,1463.7 649.4,1462.4 649.4,1461.7Z
M649.4,1467.9 650.2,1469.8 647.6,1467.9 645,1466.3 643.5,1464.1 642.6,1462.6 640.1,1459.6 642.4,1460.5 644.9,1462.2 647.2,1463.9 649.8,1466.2 651.2,1468.3Z
M630.2,1466.3 631,1464.5 632.5,1462.6 635.9,1460.5 638.6,1460.5 640.5,1460.6 639.7,1462.1 641.1,1463.2 638.5,1465.7 634.9,1465.9 633.3,1465.7Z
M637.5,1462 636,1462.4 635.1,1463.9
M630.1,1459.7 629.9,1459.3 630,1458.7 630.5,1458.2 631.2,1457.9 632.2,1457.2 632.9,1457.8 632.6,1458.7 632.5,1459.2 632.2,1459.9 631.5,1460.1 630.7,1461.1 630.1,1460.3Z
M630.4,1460.3 629.2,1459.6 626.8,1459.3
M658.5,1473.2 657.2,1472.9 656.6,1469.9 654.8,1468.7 654.6,1466 655.2,1464.3 656.4,1463.9 657.6,1466.2 658.2,1468 658.9,1469.8 659.5,1472.5Z
M658.4,1469.7 657.4,1471.3 657.5,1472.1
M654.6,1473.6 654.6,1474.6 653.3,1475 650.9,1473.4 647.8,1471.7 646.5,1469.5 648.6,1469.4 646.4,1466.7 648.8,1467.4 651.1,1468.5 652.6,1470.6 654.2,1471.7 655,1472.9Z
M640.9,1471.2 641.2,1470.1 643.8,1468.1 648.5,1466.8 648.9,1467.8 649.1,1468.2 647.9,1469.2 645.3,1471 641.4,1472Z
M631.1,1472.5 632.8,1470.3 637.5,1468.6 642,1468.1 639.7,1470.2 638.5,1471.9 633.6,1473.4Z
M635,1468.5 633.8,1468.7 630.9,1465.8 627.6,1463 628.7,1462.3 628.9,1461.8 630.4,1462.7 632.9,1464.2 635.2,1467.3Z
M631.4,1463.2 633.1,1464 635.8,1466
M643.2,1478 642.2,1477.8 641.1,1475.6 640.8,1473.3 640.1,1470.6 641.3,1471.2 642,1469.5 643,1472.5 643.2,1474.6 643.2,1475.9Z
M641.1,1473.5 641.6,1474.7 642.8,1477.2
M637.9,1473.1 638.6,1475.1 636.9,1473.8 635.1,1471.3 633.3,1468.9 633.2,1467.8 634.6,1468.6 633.9,1466.9 635.3,1467.8 636.6,1470.2 638,1471.8 638.5,1473.1Z
M635.3,1471.8 637.9,1472 640.6,1471.5
M637.2,1487.3 636.7,1485.7 636,1484.1 637.6,1483 638.8,1483 640.3,1482.7 641.3,1484.3 640.1,1485.9 638.8,1486.8Z
M632.4,1483.3 632.6,1482 636,1482 639.1,1482 641.2,1483.3 638.4,1484.3 636,1485.3 633.2,1484.4Z
M634.5,1483.8 631.9,1485.4 630.4,1485.6
M623.5,1474.9 625.2,1475.3 627.6,1478.9 629.3,1481.5 630.6,1484.4 631.3,1487.2 628.9,1485.2 627,1483.2 625.3,1480.3 623.1,1476.5Z
M628.6,1481.6 626.3,1482.2 623.8,1481.9
M648.3,1491.7 651.1,1491 653.4,1490.2 657.2,1491.7 661,1492.3 660.7,1494 663.8,1495.7 661.7,1496.4 659.9,1497.6 656.2,1495.3 652.3,1495.4 653.1,1493.7Z
M655.8,1493.2 655.3,1491.6 655.4,1491.3
M646.9,1491.3 647.6,1490.7 649.7,1490.7 652.3,1492.7 652.1,1494.2 651,1494.5 649.8,1494.5 647.5,1494.1 645.6,1492Z
M649.2,1491.9 649.5,1491 648.6,1488.6
M628.9,1494 629.2,1491 632.4,1487.7 634.4,1484.1 638.1,1481.8 637.9,1484.8 636,1487.6 634.7,1489.8 632.4,1491.7Z
M652.7,1506 653.8,1504.4 654.7,1502.8 656.3,1502.7 659.1,1501.4 657.7,1503.5 656.3,1505 654.3,1506Z
M654.8,1504.9 652.7,1505.1 651.9,1506.1
M651.2,1504.8 649.8,1505.3 649,1503.8 647.4,1502.7 648.4,1501.1 649.5,1500.7 650.3,1499.6 651.6,1499.9 652.1,1501.4 653,1502.9 652.7,1504.6Z
M651,1502.4 652.4,1504.4 652.5,1507.4
M640.7,1499.1 640.3,1498.1 641.8,1497.8 643,1496.9 644.6,1497.2 644.6,1498.3 646.5,1498.7 646.4,1499.9 644.9,1500.6 643.2,1501.5 642,1500.2 641.3,1499.7Z
M642.9,1498.2 641.6,1497.6 639.3,1498.4
M637.8,1503.3 637.2,1503.8 636.4,1503.1 636,1502.1 635.3,1501.1 636.1,1500.7 635.9,1499 637,1500.2 637.6,1500.4 638,1501.2 638.9,1502.2 638.9,1503.5Z
M656.1,1505.8 657.5,1508 658.2,1507.7 659,1508.7 658.7,1509.7 659.3,1511.2 658.6,1511.6 657.9,1512.6 656.6,1511.7 656,1509.9 655.6,1508.4 655.4,1506.7Z
M642,1511.8 643.9,1510.3 649.7,1509.7 652.7,1509.4 656.9,1509.1 659.3,1509.9 654.7,1511.4 649.8,1512.1 644.3,1512.7Z
M646.8,1513 646.8,1514.5 643.9,1511.4 641.9,1507.9 641.1,1505.9 641.2,1504.7 643.1,1506.1 645.7,1509.7 647.4,1512.5Z
M631.4,1508.9 632.6,1507.3 634.9,1505.4 638.4,1504.1 641,1503.6 641.8,1504.3 638.7,1506.2 636.5,1507.3 634.7,1507.8Z
M630.8,1508.2 631.2,1505.4 632.2,1503.1 634.1,1500 635.1,1501.2 634.2,1504 632.9,1506.7Z
M631.7,1503.2 632.1,1505.1 632.8,1507
M620.9,1510.1 621.7,1507.2 623.4,1503.9 625,1502.1 626.9,1500 626.4,1502.1 624.8,1504.8 623.2,1507.5Z
M609.4,1504.8 613.2,1503.7 614.4,1501.5 618.8,1502.1 620.6,1503.4 619.5,1504.7 619.7,1506.7 615.2,1506.5 610.6,1506.6Z
M615.9,1504.4 615.6,1503.3 614,1502.9
M654.5,1519.6 653.7,1519.8 652.1,1518 650.4,1517.1 648.5,1514.6 648.1,1512.8 647.9,1511.1 650.4,1513.7 651.2,1513.4 652.8,1515.2 653.3,1516.8 654.8,1518.9Z
M651.6,1515.5 652.5,1516.4 654.2,1518.8
M641.4,1522.9 640,1522.2 643.1,1517.8 644.9,1514.6 648,1510.8 649.6,1511.1 649.3,1513.5 648,1516.7 645.5,1519.6 643.4,1521.6Z
M644.9,1518.6 641.5,1518.5 639.6,1519.5
M641.6,1517.4 640.9,1517.4 640.6,1516.6 641.4,1514.8 642.8,1514.7 643.7,1513.2 644.8,1512.5 645,1513.5 643.8,1515.2 644,1516.4 642.9,1518 641.8,1518.4Z
M639.4,1516 638.7,1516.7 637.3,1516.7 635.7,1514.6 635.9,1512 635.4,1510 636,1508.8 636.5,1507.1 638,1508.6 639.5,1509.9 640.1,1512.5 641.5,1515.1 641.8,1518Z
M625.3,1518.2 623.9,1519.4 623.6,1516.9 623.6,1514.5 624.5,1513 625.5,1512.2 627,1511.9 627.6,1514.5 626.8,1516.9 626.5,1519.6Z
M626.5,1514.9 626,1515.5 625.2,1517.3
M620.8,1512.6 619.9,1512.5 619.5,1511.4 620.8,1510.1 621.6,1508.9 622.8,1508.1 623.9,1508 623.3,1509.7 623.3,1510.6 622.8,1511.5 622.2,1512.8 621.3,1512.9Z
M616.4,1517.8 615.7,1517.7 616.5,1516.3 616.2,1515.2 617.3,1513.9 618.4,1513.3 619.2,1513.2 620.8,1512.4 621,1513.7 619.4,1515.7 618.8,1517 617.7,1518.5 616.3,1519.6Z
M657.6,1531 654.7,1528.5 652.6,1525.7 649.4,1522.3 650.4,1521.1 650.4,1519.3 652.8,1521.9 654.9,1524.4 656,1527.1Z
M653.4,1523.4 654.6,1524.3 657.3,1524.4
M650.9,1522.8 649.9,1523.3 648.7,1522.3 648.4,1520.5 649.5,1519.5 650.2,1517.9 651.8,1517.9 652.1,1520.2 652.2,1521.5 652,1522.8Z
M652.1,1519.7 651.5,1522.1 649.8,1523.2
M636,1521.3 638.5,1519 639.9,1517.5 642.9,1516.4 642.3,1518.3 641.1,1519.8 638.3,1521.9Z
M640.5,1520 639.8,1522.3 638.2,1523.3
M627.2,1516.5 629.1,1516.6 631.6,1517.5 634.9,1518.1 636.5,1519.7 636.4,1520.4 635,1520.4 632.9,1519.6 630.4,1519.2 628.3,1517.8Z
M630.9,1517.5 629.3,1517.5 628.4,1518.3
M631.1,1519.2 630.6,1520.8 629.2,1519.9 628.4,1518.6 629.4,1517.7 629.5,1517 630.2,1517 631.3,1516.7 632,1517.8 631.7,1518.8Z
M631.2,1519.4 630.8,1520.4 629.5,1522.9
M617.8,1521.2 616.7,1521 617,1519.8 616.5,1518.8 616.9,1517.5 618.1,1517 619.3,1517.5 620,1518.3 620.5,1519.2 619.6,1520 620,1521.6 618.8,1521.8Z
M618.1,1518.7 617,1520.1 615.6,1521.3
M616.6,1518.3 616.3,1517.8 617.1,1516.8 619,1516.6 619.5,1517.1 620.5,1517.5 619.8,1518.4 617.9,1518.7 616.1,1519.2Z
M617.2,1518.9 616.2,1518.1 614.7,1515.9
M651.4,1537.1 651.4,1535.9 651.4,1534.9 651.8,1533.5 652.9,1533.6 653.6,1533.3 654.6,1533.2 653.9,1534.5 654.3,1535.4 653.6,1536.6 652.5,1536.7Z
M653.8,1535 651.9,1536.1 648.7,1536.3
M644.9,1530 645.4,1529.3 647.5,1527.9 652.3,1525.8 654.9,1525.7 656.7,1526 650.9,1528.3 647.9,1530.6 645.7,1530.3Z
M634.5,1529.2 636.6,1528 636.9,1527 639.5,1525.9 641.9,1526.3 643.4,1526.4 647.1,1526 646.2,1527.1 643.8,1528.1 642.3,1528.7 640.4,1530.6 637.6,1530.3 636.6,1529.5Z
M641.5,1527.4 639.9,1525.4 638.9,1523.6
M632.6,1526.2 633.9,1525.4 636.5,1528 638.7,1530.5 637.2,1530.8 634.9,1530.8 633.1,1527.9Z
M627.7,1531.7 626.8,1531.5 628.2,1530.7 629.6,1529.9 632,1528.6 632.4,1529.5 634.2,1529.3 633.8,1530.1 631.6,1531.1 630.3,1531.8 629,1531.9 625.9,1533.2Z
M631,1532 629.7,1532.9 628.2,1533.7
M621.1,1532.4 620.5,1528.2 619.3,1528.9 619.2,1526.4 619.4,1524.4 619.7,1522.4 620.5,1522 621.4,1520.5 622.2,1521.9 623.4,1523.4 623.6,1526.6 623.3,1529.6 621.8,1529.6Z
M606.1,1529.9 606.8,1528 610.3,1526.4 614.7,1525.1 615.7,1526.7 613.3,1528.5 611.7,1530.7 609.3,1529.7Z
M648.3,1537.7 649.2,1536.7 651.4,1536.1 653.6,1537.3 651.9,1538.5 650.9,1539.3 648.7,1539Z
M645.1,1536.4 647.4,1536.9 650.4,1538.3 652.2,1539.8 653,1541.1 649.7,1539.9 645.1,1537.7Z
M648.1,1539.8 647.5,1540.2 645.9,1540.6
M636.1,1527.4 639.5,1529.8 641.7,1529.7 642.9,1533.3 646.1,1536.8 644.5,1537.4 642.8,1537 640.6,1536.4 638.5,1533.3 637,1530.5Z
M630.7,1536.4 631.9,1535.3 633.7,1534.3 634.8,1535.3 636.4,1536.1 634.1,1537 632.5,1536.7Z
M629.4,1538.1 629.7,1536.3 629.7,1534.9 631,1533.4 631.9,1533 632.8,1532.4 633.6,1532.9 632.6,1534.6 632,1536 630.9,1536.9Z
M621.2,1532.9 620.7,1531.2 620.2,1529.8 621.5,1528.5 622.1,1526.3 623.3,1527 623.9,1528 625.3,1529.1 624.1,1531.2 622.8,1533Z
M621.4,1528.3 620.9,1528.7 619.6,1529.5
M614.6,1532.5 616.9,1532.2 616.7,1531.3 619.6,1531.3 620.9,1531.9 621.8,1532.3 623.4,1532.8 621.9,1533.4 619.5,1533.5 618,1533 615,1533.1Z
M620.2,1532.9 617.5,1533 616.3,1531.7
M608.2,1528.1 605.5,1527.3 608.3,1526.3 610,1524.9 612.5,1525.4 614.6,1525.5 615.8,1526.2 614.6,1527.3 614.7,1528.2 613.9,1529.7 611.2,1529 609.6,1529.1 605.7,1530Z
M640.6,1540.1 639.7,1540.4 637.4,1539.5 634.5,1537.6 634.9,1536.5 638.3,1538.1 641.2,1539.4Z
M638.5,1539 641,1540.3 643.3,1540.6
M638,1538.6 637.2,1539.4 635.6,1539.3 634.6,1537 633.3,1535.5 633.3,1534.1 632.8,1531.7 635.1,1533.3 636.4,1533 637.3,1535 638,1536.3 639.3,1538.3Z
M637,1535.6 638.4,1535.9 639.1,1536.3
M624.8,1539.7 625.4,1539.4 627.3,1540.1 629,1541.3 631.5,1541.9 631.6,1542.9 631.4,1543.4 632.3,1544.4 631.2,1544.3 629.6,1543.7 627.5,1543.1 626.7,1541.8 626,1540.9Z
M630,1542.8 627,1543.2 624.5,1544.5
M623.9,1546.9 623,1545.4 622.1,1544 622.1,1541.6 624.3,1541 625,1539.5 625.9,1540 627.9,1538.8 628,1541.1 627,1543 626.6,1544.9 625.4,1545.1Z
M626.6,1541.4 628.3,1543.6 630.4,1544.7
M622.8,1541.7 620.9,1540.8 619.5,1540.7 617.5,1540 615.9,1537.6 615.2,1535.7 615.4,1534.3 615.6,1532.9 617.7,1534.3 619.2,1535.5 621.3,1536.4 621.6,1538.3 623.5,1540.7Z
M650.5,1546.7 649.7,1545.8 650.2,1544.1 651.5,1543.6 653.5,1542.8 653.2,1545.4 651.6,1546.4Z
M652.7,1546.6 654.5,1549.2 654.9,1551.6
M645.1,1547.2 644,1545 645.4,1540.5 646.8,1535.9 648.7,1536 649.8,1540.3 647.3,1546Z
M647.1,1543 648.2,1545.2 647.9,1546.1
M635.5,1551.7 635.1,1550.1 635.2,1547.5 638.8,1545.7 640.7,1543 644,1540.6 642,1544.9 642.1,1546 642.6,1548.2 639.7,1551.5 638.3,1549.5Z
M639.7,1547.3 637.8,1547.9 635,1547.5
M618.6,1548.7 619.1,1548 618.8,1547.4 619.5,1546.4 621,1546 622,1546.1 623.4,1545.9 624.4,1546.3 622.8,1547.6 621.7,1548.2 620.8,1548.7 619.7,1549.4 619.1,1549Z
M614.1,1545.2 615.6,1545.2 617.5,1544.9 619.5,1546.6 618.2,1547.9 616.9,1548.1 615.4,1548.1 614.6,1546.7Z
M608.3,1539.3 611,1541.5 612.4,1543.6 614.4,1546.7 613.2,1547.5 610.9,1544.9 608.7,1542.1Z
M612.2,1543.6 610.7,1541.9 608.3,1541.8
M660.3,1553 658,1552.9 656,1553.2 655.5,1551.4 654.1,1549.9 655.2,1548.8 657.4,1550.3 658.4,1551.2Z
M640.1,1555.4 644.3,1552.3 646.2,1550.8 649.2,1549.6 649.7,1550.8 650.2,1552 647.5,1553.6 645,1554.2Z
M647.7,1552.3 646.4,1552.3 643.8,1553.7
M639.5,1547 640.2,1545.4 647.2,1546.9 650,1549.6 650.3,1551.3 645.6,1551.3 640.4,1548.7Z
M643,1549.4 642.3,1545.9 641.9,1543.8
M638.9,1553.6 637.9,1552.7 637.4,1552.2 636.7,1551.5 637,1550.7 636.8,1548.8 638.1,1549.9 639.3,1550.1 639.6,1551.6 639.7,1553Z
M636.9,1551.8 636.8,1553 636.4,1554.3
M627.7,1555.5 626.2,1555.2 626.2,1553.4 630.6,1551.8 632.7,1551 636.4,1548.7 635.6,1550.7 637.1,1551.1 634,1553.2 633,1555.7 630.1,1555.8 628.9,1555.6Z
M620.2,1548.5 620.7,1547.4 623.2,1548.5 625.6,1550.8 625.9,1552.2 627.4,1554.4 625.9,1554.5 623.6,1553.7 620.1,1551.6 620.3,1549.7Z
M622.6,1552.1 620.6,1552.5 617.7,1553.7
M615.8,1550.7 616,1548.7 618.1,1549 619.3,1550.1 619.3,1551.4 618.6,1552.4 617.1,1553.8 615.2,1552.5Z
M608.5,1558.9 607.8,1559.1 609.4,1555.3 609,1554 610.4,1550.6 611.7,1548.9 612.4,1548.6 613.2,1548 613.2,1549.4 612.1,1552.4 611.6,1555.2 610.1,1558.1 608.6,1560.7Z
M610.3,1553 610.7,1554.9 610.8,1556
M650.8,1559.4 651.1,1557.7 650.6,1556.7 652,1554.6 653.3,1553.2 654.4,1552.4 655.2,1552.2 655,1553.4 655.3,1553.7 656,1554.5 654.3,1555.9 653.3,1557.8 652,1559.1Z
M651.9,1553.7 651,1555.6 647.4,1554.5 647,1552.2 646.2,1549.8 649.6,1550.3 652.9,1551.7Z
M641.8,1555.9 641.1,1554.2 643.1,1553 644.5,1552.9 646,1553.6 644.8,1555.2 643.4,1556.1Z
M643.7,1555.8 644.2,1557.3 644.3,1559.1
M636.4,1558.7 635.3,1558.4 634.8,1556.8 635.9,1554.3 636.2,1551.8 637.6,1551 638.6,1551 638.7,1552.5 639.1,1553 639.3,1553.9 640.1,1556 638.6,1557.4 637.6,1557.1Z
M628.8,1560.6 626.3,1562.6 626.7,1558.9 628.9,1556.2 630,1554.5 632.1,1551.3 632.3,1554.2 631,1557.3 630.9,1559.7 629.4,1562.3Z
M627.6,1560.3 625.7,1559.4 624.6,1560 622.8,1557.9 620.6,1556 620.6,1554.7 621.3,1554 622.3,1553.3 625,1555 627.1,1557.4 627,1558.7Z
M625.3,1558.5 626.3,1561.1 626.9,1564.1
M607.2,1557 608.9,1556.4 611.1,1556.2 613,1556.5 613.1,1557.2 611.1,1557.6 608.6,1557.7Z
M610.4,1556.8 608.9,1558 606.1,1559.3
M649.3,1562 649.8,1560.9 652,1560.6 653.9,1560.9 654.2,1561.8 654,1562.8 652.1,1562.8 650.1,1563Z
M652.7,1560.4 651.9,1559.3 651.3,1557.4
M644.6,1560.7 642.5,1560.5 644.6,1558 649.1,1555.5 651.6,1555.7 654.1,1555.6 654.1,1557.1 651.2,1559.7 646.9,1562 643.7,1562.6Z
M648.1,1560.4 645.5,1560.8 644,1560.4
M640.7,1565.9 639,1565.9 638.4,1563.4 640.1,1560.9 641.8,1560.8 643.9,1559.9 643.8,1562.6 642.8,1564.5 642,1566.9Z
M641.7,1565 640.3,1568.1 639.4,1570.3
M632,1565 631.1,1565.3 629.7,1564.5 628.4,1563.5 626.6,1562.1 626.6,1560.9 626.7,1559.9 628.4,1560.5 629.8,1561.9 630.5,1562.8 632.9,1564.5Z
M614.8,1558.5 617.9,1557.7 621.5,1557.9 626.6,1558.8 628.9,1561.1 626.1,1562.6 620.7,1562.2 618.7,1560.1Z
M614,1566.2 612.2,1565.9 611.5,1563 611.8,1560.1 613.5,1560.7 614.4,1561.2 615.5,1562.7 615.4,1565.3Z
M614.5,1562.3 614.8,1563.9 614,1565.5
M652.1,1565.7 652.2,1563.9 653.4,1561.2 657.3,1557.1 658.2,1559.9 657.4,1563.8 653.8,1565.3Z
M653.2,1562.4 654.5,1564.8 655.3,1566.6
M646.3,1561.6 647.5,1561.3 648.4,1561 650.3,1561 650.9,1561.5 650.9,1561.9 649.9,1562.1 648.5,1562.1 646.1,1562.2Z
M650,1562.6 647.3,1562.6 644.7,1561.9
M641.2,1569.1 640.1,1568.7 639.9,1565.6 639.6,1564 639.4,1562.2 639.5,1559.8 640.5,1561 641,1559.4 641.8,1560.1 642.1,1562 643.1,1564.1 642.4,1566.1 641.8,1567.2Z
M640.9,1562.6 640,1563.5 638.9,1563.9
M636.7,1562.2 637.2,1561.5 639.1,1562.6 642.2,1564.9 642.1,1566.7 640.3,1566.2 639.5,1567.4 636.5,1564.7 634.8,1562Z
M626.3,1567.7 626.1,1565.8 629.4,1568.3 632.1,1570.3 634,1573.1 631,1572.6 627.4,1571.1 623.7,1568Z
M631.5,1571.2 629.3,1570.5 627.7,1568.9 625.8,1567.4 626.4,1566.7 626.9,1565.6 629.3,1567.1 631,1569.2Z
M627.1,1567.3 628.7,1565.9 631.8,1565.4
M614.6,1574.9 613.6,1573.3 615.8,1568.3 617.2,1564.1 618,1565.1 618.3,1568.1 616.3,1571.9Z
M615.4,1574.5 614.6,1574.6 612.9,1573.5 611.9,1572 611.4,1570.3 614.1,1571.7 616.9,1574.2Z
M654.3,1573.5 654.2,1572.7 653.7,1571.5 655.5,1568.8 656.6,1567.4 656.8,1568.3 657.2,1569 656.1,1572.5 654.8,1573.5Z
M655.6,1570.1 654.1,1572.8 653.6,1574.7
M643.5,1574 643.9,1572.2 646.7,1570.2 649.2,1567.5 649.3,1569 649.2,1570 647.8,1571.4 646.4,1572.3Z
M640.6,1576 640.3,1574.1 640.2,1570 640.8,1566 641.3,1567.9 641.8,1570 641.2,1573.7Z
M632.5,1575.1 631.6,1574.2 632.6,1573.5 634,1574.1 635.4,1574.1 636.2,1574.9 635.2,1575.6 634.6,1576.1 633.9,1576.7 633,1575.9 631.5,1575.9Z
M630.4,1580 629.6,1581.6 628.6,1580.3 628,1578.7 627.3,1576.8 628.5,1576 629.1,1575.5 629.8,1574.5 630.5,1576.1 631.4,1576.5 632.3,1577.9 632.1,1579.5 631.7,1581Z
M629.3,1577.1 627.5,1578.7 625.7,1581.1
M622,1584.3 622.1,1581.9 621.3,1582.1 622.3,1578.3 622.8,1576.2 623.5,1572.9 624.3,1571.1 623.8,1575.7 623.9,1576.6 623.9,1578.6 623.3,1581.6 622.6,1583.5Z
M623.8,1577.2 624.3,1579.6 624.2,1581.5
M615.5,1583.9 614.8,1584.2 614.7,1581.6 615,1578.1 615.9,1576.7 616.7,1574.6 616.9,1576.9 617.5,1578.4 617.1,1582.3 616.1,1584.6Z
M652.9,1576.9 654.1,1576.3 655.3,1575.5 656.5,1576.5 657.4,1577.5 656.3,1578.2 654.8,1579.1 654,1577.7Z
M653.3,1581.2 652.9,1580.4 652.6,1579.7 653,1578.9 653.4,1577.5 654.3,1578.2 655.6,1578.2 656.2,1579.5 655,1580.7 654.1,1581Z
M642.9,1582.1 642.8,1580.7 644.5,1580.6 645.9,1581.3 645.8,1582.4 646.5,1583.4 645.2,1583.7 643.9,1584.1 642.7,1583.1Z
M644.9,1583 644.9,1584.4 643.3,1584.9
M642.1,1590.1 640.8,1589.7 640.5,1584.2 640.2,1581.7 639.5,1577.1 640.5,1576.5 641.7,1575.6 643,1580 642.8,1584.6 642.8,1588.1Z
M641.7,1582.3 642.4,1583.9 643.5,1584.1
M640.5,1582.6 639.4,1583.4 638,1583 637,1583.2 636.3,1582.4 634.1,1581.8 635.6,1580.8 636.6,1580.4 636.9,1578.9 638.3,1579.6 638.7,1580.7 640.2,1581.2Z
M633.8,1592.1 634.2,1594.1 630.9,1589.7 628.4,1587.1 628.4,1585.9 625.4,1581.3 627,1582 630.2,1585.7 632.3,1588.8 635,1592.4Z
M628.4,1589 627.6,1589.8 625.7,1587.6 624.6,1585.7 622.8,1582.8 623.8,1581.9 626.2,1584.1 628,1586 629.7,1588.7Z
M622.7,1586.6 621.6,1587.3 619.7,1586.8 616.8,1587 615.8,1584.9 617.2,1584 616.8,1582.2 619.3,1582.6 621.7,1583.7 623.8,1585.4Z
M658.7,1590.4 658.6,1589.1 658.6,1586.6 660.2,1582 661.6,1579.8 662.6,1579.3 661.7,1583.5 660.9,1587.1 659.7,1589Z
M661.5,1585.1 662.8,1586.5 664.6,1589.1
M649.6,1593.9 650.8,1589.5 652.5,1585.6 654.5,1583.9 655.6,1584 654.9,1587 652.7,1590.2Z
M644.5,1589.4 642.2,1589 642,1589.5 640.1,1589.3 638.6,1588.5 638.4,1588.1 636.9,1587.4 637.6,1587.2 638,1586.5 640.6,1587.5 643.3,1587.9 644.9,1588.8Z
M639.1,1588.5 640.5,1586.3 643.2,1585.4
M635.1,1589.8 636.4,1589.5 637.8,1589.3 640.2,1590 640.7,1590.7 642.1,1591.5 641.1,1591.7 639.6,1591.7 637.4,1591.4 635.6,1590.5Z
M637.5,1589.5 635.3,1586.9 634.4,1585.4
M629.1,1593.7 627.4,1593.6 628.8,1591.2 631.5,1590.1 633.3,1587.8 633.8,1588.8 636.7,1587.3 633.9,1590.3 633.3,1591.6 631.6,1594.1 629.6,1594.7Z
M623.7,1592.2 623.4,1591.8 623,1590.9 623.7,1589.8 624.7,1590.1 626.2,1588.4 626.9,1589.3 626.3,1590.8 625.6,1591.6 625.3,1593.2 623.8,1593.9Z
M626.1,1590.2 623,1590.3 621.1,1591.5
M610.6,1597.1 611.7,1596.1 615.9,1594.8 620.1,1594.2 622.8,1594 623,1594.6 620.3,1595.7 616.6,1596.7 612.2,1597.5Z
M654.3,1584.3 656.4,1581.5 657.6,1579.7 660,1578 662.2,1576.5 662.9,1576.9 665.4,1576.3 661.3,1579.5 659.3,1582.4 656.2,1584.1Z
M659.6,1580.4 659,1582.5 659.3,1583.7
M650.4,1586.5 652.3,1584.8 653.6,1583.7 656.1,1581.1 659.6,1579.7 657.7,1582 658.3,1582.4 656.7,1583.9 654.1,1585.7 652.8,1585.6Z
M643.4,1590.4 643.6,1589.1 643,1588.2 643.3,1586.1 645.3,1586.2 646.4,1584.9 648.7,1583.3 649.2,1585 647.8,1587.2 646.5,1588.5 645.7,1591.3 644.3,1590.9Z
M645.2,1587.7 644.8,1589.4 643.5,1591.6
M643.6,1592.9 643.7,1591.4 645.5,1591.7 646.8,1591 646.8,1592.5 648.1,1593.5 646.5,1593.9 645.5,1594.2 643.8,1594.4Z
M644.2,1593 642.8,1592.3 642.4,1591.9
M636.3,1603.3 635.6,1601.2 634.9,1599.4 635.8,1596 635.8,1593.9 635.9,1589.7 636.9,1588.4 637.9,1588.8 638.2,1591.6 639.2,1593 638.9,1596.7 638.2,1599.8 637.3,1601.9Z
M637.2,1594.5 635.8,1597.2 636,1599.7
M634.1,1600.7 633.1,1600.5 632.4,1598.8 634,1595.2 636.4,1593.2 637.2,1594.8 637.2,1596.4 638.3,1597.8 636.6,1601 634.9,1600.7Z
M631.7,1600.6 631.3,1601.4 629.8,1599.5 627.9,1597.4 628.3,1596.2 628,1594.6 628.9,1594.6 630.4,1596.1 631.8,1598.5 633,1601Z
M624.1,1606.9 622.6,1607.3 620.9,1608.6 619.9,1606.4 619.9,1605.3 619.8,1604.4 620.4,1603.6 621.8,1602.6 623.8,1603.6 623,1605.4Z
M622.6,1604.6 624.5,1605.1 627.6,1604.2
M661.2,1591 660.8,1589.8 664.6,1591.1 667.2,1590.5 668.9,1592.5 670.5,1593.6 674.9,1595.8 673.3,1596.5 669.8,1596.2 665.6,1594.9 661.7,1593.2 659.2,1591.4Z
M667.4,1593.8 664.8,1594.7 663.6,1596.8
M658.9,1597.9 658.4,1597.2 660.3,1596.3 661.5,1594.7 663.2,1594.6 664.4,1595 663.5,1596.3 662.1,1597.2 660.9,1598.1 659.2,1598.7Z
M660.8,1595.9 660.3,1596.4 660.5,1597.8
M652.6,1605.9 652.8,1603.6 653.4,1600.9 654.5,1598.7 656,1595 655.7,1597.7 656.5,1597.9 655.4,1602.1 653.7,1605.1Z
M646.2,1604.7 644.7,1604.5 645.6,1603.4 646.4,1602.9 646.7,1601.7 647.6,1602.1 648.5,1602.2 649,1603 648.4,1603.9 647.9,1604.4 647.6,1605.6 646.7,1605Z
M645.4,1608.7 642.8,1606.3 640.8,1604.4 639.5,1601.7 640.8,1602 642.6,1602.7 644.5,1606Z
M629.3,1606.3 631.7,1605.4 632.9,1604.7 635,1604.6 636.2,1605.3 637.5,1606.1 635.7,1606.7 634.9,1607.4 633.1,1607.4 630.4,1607.4Z
M631.2,1614.9 630.8,1613.6 630.4,1612.6 630.2,1611.2 631.9,1610.9 632.3,1609.8 633.3,1609.6 634,1610.1 634.3,1611 635.5,1611.9 633.6,1612.6 633.4,1613.8 632.4,1615.1Z
M658.7,1587.4 663,1588.4 666.1,1588.9 670.5,1591.4 671.2,1593.7 670.5,1595.1 667.9,1595.3 664.4,1592.6 660.2,1590.2Z
M667,1592.4 667,1591.7 666.3,1590
M655.1,1594.9 655.8,1592.9 658.8,1591.9 661.7,1590.5 663.6,1591.7 663.5,1593.4 662.4,1595.1 659.8,1595.5 657.7,1595.5Z
M654.7,1599.9 653.6,1599.2 653.1,1599.2 652.5,1598.7 651.4,1598.3 650.8,1597.4 650.1,1596.3 651.4,1596.8 652,1596.9 652.7,1597.3 653.3,1597.8 653.7,1598.4 654.7,1599.3Z
M652.2,1599.2 654.9,1599.7 657.4,1601.4
M643.7,1603.3 643.5,1604.1 642.3,1604.9 639.7,1604.8 638.2,1603.6 636.6,1602.9 634.9,1601.9 634.5,1600.5 637,1599.8 640.3,1601.2 642,1601.8 645.3,1602.3Z
M641.2,1601.3 642.9,1603.3 643.3,1606.2
M641.3,1608.6 639.6,1607.7 637.8,1607.5 635.6,1604.9 636.8,1603.5 637.2,1602 639.2,1603.2 640.6,1605.1 641.8,1607.2Z
M637.9,1606.7 639.3,1609.7 641.5,1611.1
M628.8,1612.9 626.4,1611.7 632,1611 633.9,1609.4 638.3,1608.6 638.2,1610.4 637.8,1611.3 638.1,1612 636.5,1612.7 634.8,1614.5 631.3,1614.4 629.3,1613.8Z
M633.2,1612.2 632.2,1612.4 630.8,1611.8
M633.1,1612.5 631.5,1613.7 627.7,1612.7 623.6,1611.4 622.7,1609.4 624.8,1608.3 628.8,1608.9 630.6,1610.8Z
M628.1,1612.6 629.5,1610.7 631.6,1609.1
M674.2,1607.2 672.6,1605.8 671.1,1605.9 670.8,1603.3 669.4,1601.2 670.7,1600.8 671,1599.2 672.6,1598.7 674.4,1601.1 675.8,1604.1 674.9,1605.8Z
M672.4,1602.8 674.4,1602.8 677.4,1603
M651.1,1613.5 649.5,1612.7 651.5,1611.7 653.3,1610.9 655.4,1610.6 655.9,1611.7 657,1611.9 658,1612.4 658.5,1613.5 656.7,1614.7 654.2,1614.8 652.8,1614.3 652.3,1613.7Z
M653.4,1611.9 650.1,1612.3 648.3,1614.2
M643.1,1619.8 642.4,1617.9 642.7,1614.9 643,1612.1 643.8,1612.1 644.8,1612 644.4,1615 644.3,1618.4Z
M639,1620 639.7,1619.6 639.3,1619.1 642.4,1618.5 644.2,1618.2 648.4,1617.1 646.3,1618.2 648.5,1618.2 644.9,1619.1 642.7,1619.8 639,1621.1 636.5,1621.2Z
M630.8,1623.2 632.7,1622.6 633.6,1622 636.7,1621.4 639.6,1621.6 639.4,1622.3 638.6,1622.7 638.7,1623.1 636.6,1623.6 633.4,1624.1 631.7,1623.6Z
M636.4,1622.9 634.5,1622.2 632.4,1622.2
M633.2,1627.2 632.6,1629.2 630.9,1626.6 629.7,1625.5 629.1,1623.9 629.7,1623 630.8,1622.8 632,1623.8 633.9,1624.7 633.5,1626.3Z
M676.7,1610 675.1,1608.7 673.1,1606.7 672.6,1603.2 672.9,1601.1 673.8,1599.9 675.3,1602.9 676.4,1605.1 676.9,1607.6Z
M666.2,1608.4 668.9,1607.9 670.8,1607.4 675,1607 679.5,1608 677.4,1609.2 678.9,1610.6 675.1,1611.5 670.3,1610.4 665.3,1609.7Z
M657.2,1609.4 659.3,1608.7 661.1,1607.9 663.3,1609.1 663.8,1610.2 664.5,1611.2 665.4,1613.2 662.3,1612.3 660,1612.5 659.3,1611Z
M662,1609.6 661.1,1607.9 659,1607.5
M661.4,1625 659.9,1623.3 658.1,1618.5 656.7,1616.6 656,1613.9 656.2,1613.3 655.1,1609.2 657,1612.5 658.5,1616 659.8,1619 660.6,1621.8Z
M652.2,1621 652.7,1618.8 652.8,1617.2 653.9,1615 655.5,1612.5 656.1,1613.9 657.5,1612.9 657.6,1614.4 656.8,1616.6 655.2,1618.2 654,1619.4Z
M641.5,1622.7 643.7,1621.8 644.3,1620.4 648.6,1620.6 650.6,1621 651.1,1621.6 650.6,1622.3 648.8,1623.1 645.9,1623.1 642.2,1623.5Z
M641.7,1628.1 641.1,1627.3 640.7,1625.8 641.7,1623.3 643.9,1620.6 645.3,1622.4 646.1,1624.6 644.5,1627.7 642.7,1630.8Z
M639.3,1629.6 638.4,1629.2 638.8,1625.6 639,1622.6 639.8,1623.2 640.4,1623.6 640.5,1625.8 640.2,1628.6Z
M633.2,1637.7 632.6,1634.6 631.6,1633.6 631.2,1628.9 631.9,1624.6 633.1,1626.2 633.6,1626.6 634,1627.8 635.3,1629.1 635,1633.8 634.1,1636.3Z
M633.5,1629.5 634,1631.7 633.9,1634.8
M674.2,1610.9 674.1,1609.9 673.3,1609.3 674.4,1607.9 675,1606.4 676.1,1605.6 676.4,1606.8 677,1607.3 676.4,1608.8 675.7,1609.8 675,1610Z
M666.7,1612.9 665.9,1611.8 669.2,1612.6 671.9,1614.1 676.3,1615.9 673.8,1615.8 672.1,1615.8 668.8,1614.6 664.9,1613.1Z
M670.7,1614.2 668.8,1612.9 668.2,1611.6
M667.2,1622.3 665.7,1621.3 667,1617.6 668.9,1617.1 670.5,1616.4 670,1619.2 668.8,1622.4Z
M661,1623.7 660.6,1622.2 661.2,1620.7 660.4,1619.7 661.5,1618.9 662.1,1617.5 663,1618 664.5,1617 664.2,1618.9 665.2,1619.8 664.1,1621.3 663.2,1622.2 662.2,1623.3Z
M663.5,1619.7 662.4,1620.9 662.2,1623.3
M651.5,1628.1 652.9,1627 654,1626 655.5,1626.5 657.5,1627.3 655.5,1628.5 654.5,1630.2 653.3,1628.6Z
M652.9,1628 651.6,1627.6 649,1628.8
M645.8,1631.7 645.5,1630.7 646.4,1629 647.9,1626.2 649.6,1626.4 650.1,1627.5 651,1628.8 648.8,1631.4 646.6,1632.7Z
M640.6,1637.5 639.4,1635.8 638.7,1633.7 639.6,1631.6 641.6,1632.1 643,1631.7 643,1633.4 643.4,1634.9 642.5,1636.3Z
M677.1,1615.3 675.3,1615.6 676.4,1612.6 678.1,1609.9 679.9,1607 680.7,1608.5 681.6,1608.5 682.2,1609.4 681.4,1611.9 679.9,1615.1 677.9,1616.1Z
M678.4,1612.3 676.7,1612.8 674.6,1612.2
M672.7,1619.5 672.6,1618.5 672.9,1617.2 672.7,1615.7 673.7,1613.2 674.8,1612.7 676.3,1610.5 676.4,1612.6 676.3,1614.4 675.1,1616.7 674.5,1619.8 673.3,1619.6Z
M667.8,1622.9 667.3,1623.6 666,1624 664.8,1623.7 663.6,1623.3 664.2,1622.7 664.1,1621.6 666,1621.8 667.9,1621.9Z
M666.3,1624 668.1,1627.1 668.6,1628.8
M661.4,1625.5 660.8,1626.2 660.1,1623.2 659,1622.9 659.4,1621.4 659.3,1620.4 658.4,1617.1 659.7,1618.9 660.3,1618.4 660.9,1620.8 661.8,1622 662.4,1624 661.5,1624.2Z
M659.8,1620.5 659.3,1622.2 658.1,1623.3
M652.9,1630.5 652.4,1629.8 653.1,1628.4 655.2,1627.3 657.2,1626.2 658.1,1626.7 658.1,1627.5 659.4,1628.3 657.7,1630.5 654.9,1630.7 653.5,1630.9Z
M640.4,1632.1 644,1631.8 646.4,1631.7 651.2,1632.2 650,1633.6 646.5,1634 641.8,1633.7Z
M635.8,1639.3 633,1640.2 636,1636.9 638.3,1633.5 640.7,1632.9 640.3,1634.7 642.3,1634.3 641.2,1636.8 638.2,1638.9 636.3,1640Z
M637.7,1636.7 636.7,1639.4 636.1,1641.3
M682.2,1628.3 681.9,1626.3 682.6,1622.8 682.5,1619.5 683.5,1617.9 684.4,1616 685,1616.7 684.5,1620.5 683.8,1623.2 683.1,1627.3Z
M672.6,1626.1 673.1,1625.4 673.8,1624.4 676.5,1625 678.6,1624.5 679.5,1625.1 681.1,1625.7 681.1,1626.6 679.5,1627.6 676.6,1627.5 674.1,1627.7 674.2,1626.5Z
M664.1,1628.3 662.4,1627.9 665.2,1626.5 668.7,1625.4 671.5,1625 675.8,1623.7 675.5,1624.7 673.7,1625.7 676.1,1625.9 671.7,1627 669.7,1627.6 667,1628.5 664.9,1628.7Z
M666.3,1629 665.3,1629.4 663.9,1630.1 659,1630 655.8,1628.7 653.9,1627.5 654.9,1626.4 660.6,1627.2 663.4,1627.7 668.1,1628.2Z
M660.6,1629 661.3,1628.5 663.1,1627.2
M659.3,1635.5 658.7,1634.9 657.2,1635.1 657,1633.5 657.6,1632 658.8,1632 659.6,1630.5 660,1632.4 660.6,1632.8 660.9,1633.7 661.6,1635.5 659.9,1634.9Z
M658.7,1632.3 657.8,1635 655.8,1636.3
M648.6,1632 650.9,1631.6 655.5,1632.6 659.8,1635.1 658.4,1636.3 654.5,1636.4 650.7,1633.8Z
M643,1635.7 645.4,1635.1 645,1633.5 649.6,1633.8 654,1634 656.7,1635.1 658.4,1636.4 656.9,1637.6 651.9,1637.4 649.4,1637.1 645,1638 641.9,1636.9Z
M647.9,1644.1 647.5,1643.6 646.7,1643.7 647,1642.7 647.1,1642.1 646.9,1640.9 647.6,1640.4 648.3,1640.5 648.6,1641.6 649.4,1641.8 649.5,1642.8 649,1643.6 648.4,1644Z
M648.2,1643.1 647.9,1645 648.3,1646.5
M679.8,1627.5 681.3,1625.1 683,1623.4 685.4,1621.3 686.5,1622.5 687.2,1623.3 686.3,1624.7 685.1,1627 682.6,1627.2Z
M676.1,1630.3 675.7,1629.1 674.2,1628.5 675.2,1626.4 675.8,1624.1 676.8,1625 678,1625.7 677,1628.1 677,1630.1Z
M665.2,1643 664.4,1640.5 665.6,1635.4 667,1633.2 668.8,1629.2 669.1,1632.3 668.9,1636.2 667.2,1640.2Z
M665.8,1635.5 666.1,1637.3 667.1,1637.7
M653.7,1641.8 651.8,1642.5 653,1639.5 654.4,1636.1 655.9,1636.9 657.6,1635 658.7,1635.6 656.6,1638.7 656,1641.3 654.6,1641.3Z
M654.2,1639.7 653.3,1641 652.9,1642.9
M645.4,1649.2 645.1,1647.3 647.4,1645.7 649.4,1644.5 651.8,1644.8 648.9,1647.4 647.3,1649.8Z
M648.3,1645.9 645.8,1646.7 642.9,1647.5
M684.7,1632.6 684.4,1632.8 683.9,1632.4 683.5,1630.6 683.7,1628.7 684,1627.5 684.5,1627.4 684.9,1627.9 685.1,1629.4 685.8,1630.5 685.3,1632 685.1,1633.2Z
M685.1,1629.5 685.7,1631 687.1,1632.7
M678.7,1637.4 679.1,1635.4 679,1633.9 680.1,1632.2 681.4,1630.4 681.3,1632.3 680.5,1634.5 679.5,1637.8Z
M678.7,1633.1 676.5,1633.9 675.5,1633.8
M677.1,1641.6 675.8,1639.9 674.7,1639.4 673.7,1637.5 674.5,1636.2 674,1633.8 674.8,1632 676.5,1633.4 678.2,1635.8 678,1638.5 677.7,1640.1Z
M676,1636.6 676.7,1637.2 677.8,1637.8
M672.8,1646.1 672.9,1645.3 673.1,1644.3 674.3,1642.5 675.7,1640.2 676.2,1640.8 677.7,1639.3 677,1641 677.2,1641.6 676.1,1643.8 674.6,1644.7 672.8,1647.2Z
M676.5,1641.6 673.6,1641.4 671,1640.9
M672.4,1650.5 674.8,1652.6 671.1,1651.8 669,1652.2 666.2,1651.4 666.1,1650 665.8,1649 664.5,1647.2 667.2,1646.9 670.3,1646.8 671.3,1649 674.2,1649.7Z
M661.2,1654.9 660.8,1653.9 660.7,1652.8 660,1651.2 660.8,1649.1 662.1,1650.1 663.2,1649.3 664.6,1649.7 663.5,1652.2 663.2,1654 662.3,1656Z
M662.6,1651.7 660.4,1653.5 658.1,1653.8
M684.2,1632 682.7,1631.8 681.9,1631.9 680.5,1631.5 679.6,1630.4 680.9,1630.2 681.6,1630.1 682.7,1630.3 683.6,1631Z
M682.4,1632.4 683.7,1632.7 684.5,1631.6
M676.3,1634.5 675.5,1634 678.4,1634.2 680.3,1633.8 682.5,1634.4 686.3,1634.8 685.3,1635.4 683,1635.4 684.1,1636.4 680.2,1635.6 677.9,1635.4 675,1634.9Z
M679,1635.3 676.7,1633.7 675.6,1632.1
M671.9,1648.1 672.5,1645.5 672.6,1644.7 672.6,1643.6 673.2,1641.9 674.1,1640.4 674.8,1640.2 674.6,1641.8 674.6,1642.9 674.8,1644.4 673.8,1646.5 672.9,1646.8Z
M672.2,1642.4 670.4,1643 670.1,1644.2
M673.5,1649.1 672.6,1650.2 670.8,1650.3 669.1,1649 669,1646.7 671.7,1645.8 674.4,1647Z
M671.5,1647.1 672.3,1645.3 673.6,1644.6
M667.7,1651.1 667,1651.6 665.7,1652.6 662.8,1651.7 661,1650.7 662.3,1650 662.8,1648.9 666.2,1649.1 668.2,1650.3Z
M665,1651.9 667,1650.7 667.4,1648.6
M657.9,1666 656.8,1664.6 657.7,1661.1 655.9,1659.3 657.9,1657.6 658.7,1654.4 660.1,1654.9 661,1656 661.6,1657.8 662.2,1660.6 661,1663.7 659.4,1664Z
M685.5,1637.8 686.5,1635.6 686.3,1634.9 686.5,1633.1 688.3,1631.6 689.3,1631 690.8,1629.2 691.8,1629 690.4,1631.6 690.3,1632.7 689.3,1634.8 687.6,1637.3 686.5,1637.4Z
M683,1642.2 681.8,1643.9 679.5,1642.3 680,1639.9 680,1637.8 682.1,1637.8 683.8,1639.5 684,1641.4Z
M683.4,1639.3 683,1642.1 682.5,1644.2
M686.5,1649.6 685,1647.6 684.3,1647.8 683.5,1646.5 682.4,1644.9 682.9,1644 683.4,1643.7 683.4,1642.4 684.4,1643.7 685,1644.6 686.2,1645.3 686.8,1647.1 686.7,1648.3Z
M684,1645.3 687.3,1646.8 689.2,1647.6
M668.3,1658.5 667.4,1657.9 666.8,1657.2 665.4,1655.7 666.5,1654.8 667.6,1655.2 668.5,1655.3 669.8,1656.4 668.8,1657.6Z
M668.3,1656.5 670.4,1658.3 671.6,1659.1
M693.3,1649 692.1,1647.4 692,1645.1 692.4,1643.4 693,1641.7 694.5,1640.7 695.5,1642.8 695.1,1645.3 695,1648.7Z
M697.2,1657.9 695.1,1656.3 692.8,1654.3 690.7,1649.6 691.4,1647.7 691.5,1645.9 692.2,1643.8 695,1647.5 696.6,1652 697.4,1655.5Z
M693,1651.3 694.9,1651.8 696.2,1651.8
M689.6,1652.7 688.3,1651.4 687.4,1651.2 686,1650.5 686.6,1649.1 686.1,1647.4 687.2,1646.9 688.3,1646.7 688.9,1648.5 689.9,1648.9 691.3,1650.4 689.9,1651.1Z
M688.9,1649.5 687.6,1650.8 685.8,1652.4
M685.1,1657.2 683.9,1656.9 683.3,1657.3 682.1,1657.4 682,1656 680.2,1655.3 680.1,1654.2 680.6,1653.4 682,1653.7 683,1654.6 684.3,1654.3 684.1,1655.4 685.2,1656.3Z
M683.3,1656.4 684.6,1654.9 685.7,1654.9
M674.8,1665.8 673,1665.5 675.9,1662.5 678.4,1661.2 682.5,1657.9 683.1,1659.6 681.8,1662.4 678.1,1664.5 674.4,1668.4Z
M680.1,1669.9 677.6,1669.8 673.3,1665.1 671.9,1660.9 673.1,1660.4 674.5,1660.8 676.4,1662.8 677.9,1665.4Z
M700.9,1648.9 700,1648.6 700.2,1646.8 700.8,1645.7 701.1,1644.1 701.9,1644 702.8,1644 703.1,1645.7 702.6,1647.5 701.6,1647.6Z
M701.1,1653.6 700.4,1655.7 694.4,1656.7 688.7,1658.1 688.4,1656.1 687.8,1654.2 693.7,1653.1 698.4,1652.5Z
M693.9,1653.7 696,1653.4 697.6,1652.2
M686,1657.9 689.2,1655.6 689.3,1655.1 691.5,1653.3 695,1651.1 696.5,1650.8 697.1,1650.9 698,1650.9 694.5,1653.2 692.4,1654.8 690.7,1655.5 689.6,1656Z
M690.8,1654.5 689.1,1655.6 688.6,1657.6
M683.4,1661.9 683.5,1660.6 683.4,1659.5 684.3,1658.6 685.4,1656.9 686.2,1657.9 686,1659.2 686.3,1660 685.7,1661.1 684.7,1660.9Z
M684.9,1659.6 683.3,1659.3 680.6,1660
M684.3,1666.8 682.3,1666.8 681.4,1667.2 680.1,1666.7 677.7,1666.4 678.1,1665.1 678.4,1664.3 678.8,1663.1 681,1663.6 683,1664.3 683.4,1665.6Z
M680.5,1665.5 681.6,1666.3 682.8,1665.6
M670.5,1665.1 672.1,1663.9 675.9,1664.5 678.3,1663.8 680.3,1664.9 683.3,1665.9 682.5,1667.1 681.7,1668.5 678,1669.1 674,1668 671.7,1666.5Z
M676.3,1665.5 674.8,1666.9 673,1669
M698.3,1659.2 697.5,1659.2 699.3,1656 699.7,1654.2 701,1652 702.2,1650.8 702.8,1651 703.1,1652 701.2,1655.2 700.2,1657.2 698.8,1659.6Z
M701.6,1655.8 701.1,1656.5 699.3,1658.4
M693.8,1659.7 696.6,1658.3 695.6,1657.5 698.4,1656.5 700.5,1656.2 703.1,1655.3 703.3,1656 704.6,1656.3 703.1,1657.4 701.7,1658.4 699.4,1659.7 696.6,1660.3 695.9,1659.6Z
M698.2,1657.7 695.7,1657.6 693.8,1656.9
M699.1,1667.7 696.9,1667 693.7,1662.6 692,1659.5 692.4,1657.9 695.5,1661.5 698.9,1665.3Z
M697.2,1669 697.6,1670.1 694.2,1669.9 690.8,1669 688.8,1667.7 688.5,1666.6 690.8,1666 695,1666.8 698.4,1668.1Z
M685.4,1676.4 684.4,1675.2 683.9,1675.1 683.3,1674.2 682.4,1673.2 683.1,1672.8 683.1,1672.2 683.1,1671.4 683.8,1672.1 684.3,1672.7 684.6,1673.5 685.7,1674.7 685.2,1675.1Z
M682.8,1674.2 684.5,1675.6 687.7,1676.9
M705.9,1657.2 705.1,1657.2 704.2,1655 703.9,1651.9 704.7,1651 705.8,1652.2 706.7,1654.5 706.9,1657.4Z
M705.6,1655.5 705.9,1657.1 706.2,1659.7
M699.5,1659.5 698.6,1659.2 698.4,1657.8 699.6,1656.7 700.2,1655.4 701.1,1655.8 702.3,1655.3 703,1656.3 702.9,1658.1 701.9,1660 700.5,1659.1Z
M702,1657.5 701.2,1657.9 699.4,1659.7
M698.1,1671.9 698,1670.2 698.8,1668.1 699.6,1665 700.9,1664.3 701.4,1665.7 700.2,1668.6 699.3,1671.3Z
M699.5,1667.9 699,1669.3 698.4,1670.9
M698.8,1671 699.1,1672.8 696,1675.2 692.2,1674.7 690,1674.5 688.7,1673.5 692,1672.1 694,1670 695.7,1671.1Z
M695.3,1672.1 696.2,1671.3 698.7,1671.7
M696.4,1682.8 695.7,1682.8 694.9,1682.7 693.3,1681.1 691.4,1680.1 690.8,1678.9 690.3,1677.9 690.8,1677.7 692.3,1678.7 693.1,1678.7 694.8,1679.7 694.7,1680.7 695.8,1681.8Z
M694,1679.2 696.8,1680 698.9,1679.7
M701,1665.8 700.8,1664.4 702.6,1663.2 704.5,1661.8 706.6,1662.2 707.1,1663.6 706.4,1664.8 705.4,1665.8 703.8,1667.6 701.9,1666.8Z
M704.5,1664 703.4,1664.5 701,1665
M701.5,1668.6 702.6,1666.9 705.4,1666.2 707.9,1666.3 707.7,1667.7 706.2,1669 703.7,1669.1Z
M705.6,1666.4 705.4,1666.7 703.9,1667.5
M703,1680.3 699.6,1676.3 697.3,1673.2 693.9,1668.2 694.7,1667.7 698.3,1672.1 700.2,1675.6Z
M697.1,1673.9 697.6,1674.2 699.5,1675.4
M709.9,1661.9 708.8,1660.9 712.1,1659.6 713.4,1658.9 715.9,1656.9 718.7,1656.6 716.5,1659.1 718.1,1660.1 715.2,1661.8 712.5,1663.1 710.2,1663.2Z
M715.2,1667.2 716.8,1668 713.7,1669 710.6,1670.8 708.1,1670.1 709.3,1668.6 708.1,1667.8 711.1,1667.1 713.8,1665 717.5,1665.1Z
M713.2,1675.8 712.9,1676.7 712,1677.5 710.3,1677.6 708.8,1678.3 708,1677.8 707.4,1677.3 707.8,1676.5 709,1676.1 709.8,1675.7 711.5,1674.8 712,1675.5Z
M709,1675.4 709.6,1673.4 710,1671.1
M710.6,1680.9 710.4,1681.7 710.6,1683.1 708.6,1683.6 706.8,1683.9 705.7,1683.2 706.6,1681.8 707.3,1680.7 708.9,1680.4 710.6,1679.7Z
M708.4,1680.5 709.2,1680.4 711.4,1681.2
M721.4,1665.9 720,1664.6 718.5,1661.9 719.3,1659.4 720.7,1660.3 721.7,1661.6 722.9,1665Z
M722.9,1672.8 719.7,1670.4 718.2,1670.1 715.5,1668.9 714.8,1666.1 712.8,1663.1 714.2,1662.5 716,1663 717.6,1662.8 719.9,1665.2 720.9,1667.7 723.7,1671.2Z
M718.6,1666.8 718.6,1668.5 717.9,1671.5
M708.6,1676.1 710,1674.9 710.2,1673.6 712.6,1672.4 715.9,1671.6 714.6,1673.8 716.5,1674.6 713.6,1675.9 711.4,1677.2 708.4,1677.8Z
M712.7,1676 710.9,1677.2 708.2,1676.8
M708,1684.3 705.6,1683.5 704.7,1680.5 706.2,1678.4 708.4,1677.4 709.5,1680.1 708.8,1681.9Z
M724,1667.6 723.7,1666.6 724.4,1664.6 725.4,1661.9 726.8,1661 726,1663.9 726.4,1665.5 724.8,1668.2Z
M727.8,1680 726.2,1677.1 726,1672.5 726,1669.4 726.9,1668.3 728.4,1671.5 727.8,1675.1Z
M726.4,1680.6 725.4,1680.7 723.9,1679.5 723.1,1677.6 723.4,1676.7 723.5,1675.7 724.7,1675.9 726.1,1677.9 726.9,1679.8Z
M725,1679.3 725,1680 725.5,1681.8
M723.6,1688.5 723.6,1690.1 720.7,1688.4 718.5,1688.1 717,1685.8 714.1,1683.8 715.9,1683.3 715.7,1682.1 717,1682 719.1,1682.8 721.6,1683.9 723.7,1686 722.4,1686.8Z
M733.7,1670.4 733,1670.2 733.8,1668.7 735,1667.2 736,1667.1 736.7,1666.9 738.5,1666.3 736.9,1668.6 735.3,1669.9 733.9,1671.2Z
M735.9,1670 735.3,1671.8 734.3,1672.1
M729.8,1677.6 729.5,1678 728.9,1677.7 727.8,1677.7 727.6,1676.6 727.5,1675.7 727.8,1675 728.5,1675.1 729,1673.6 729.8,1675.2 730.1,1676.1 730.5,1676.9 730.4,1677.5Z
M728.1,1683 725.5,1685.3 723.4,1687.1 721.9,1687 720.2,1687.1 721.7,1684.9 725.5,1683.4Z
M723.6,1686.1 725.8,1686.3 727.4,1685.2
M741.7,1674.6 742.7,1675.9 740.6,1677.1 739.4,1677.7 737.6,1678.6 736.4,1677.7 737.6,1676.2 736.9,1674.5 738.9,1673.8 740.3,1674.2Z
M739.2,1675.2 740.3,1673.2 741.7,1672.2
M741.6,1686.9 738.2,1684 735.6,1681.1 735.5,1678.4 735.2,1676.1 737,1677.2 739.6,1678.7 739.8,1681.8Z
M738,1679.3 740,1679.4 742.7,1680.1
M737.5,1684.9 734.9,1685.9 732.6,1686.4 730.1,1686.3 729.7,1685.6 730.1,1684.8 732.4,1684.6 736.2,1683.8Z
M733.4,1683.9 735.2,1682.7 736.8,1679.9
M730.2,1690.3 730.1,1689.6 729.6,1689.4 729.6,1688.3 730.3,1687.6 730.6,1687.3 731.2,1685.5 731.5,1686.2 731.5,1687.2 732.1,1687.6 731.7,1688.9 731,1689.2 730.7,1690Z
M731.5,1687 731.2,1689.6 732.2,1690.9
M740.3,1681.4 738.3,1679.6 736.6,1675.6 736.7,1672.2 737.4,1670.3 738.8,1673 741,1674.4 741.4,1679Z
M739.2,1673.6 737.4,1674.8 735.9,1677.2
M739.4,1685 737.7,1684.5 736.1,1683 734.4,1681.7 734.8,1680.9 734.9,1680.1 735.8,1679.3 737.3,1681.7 739.1,1683.4Z
M737.5,1682.9 739.1,1686 739.2,1687.9
M737.3,1686.9 738.3,1688.4 736,1689.7 735,1690.5 733.9,1690.3 732.9,1690.2 731.8,1689.7 731.8,1688.4 732.6,1687 734.2,1685.4 735.4,1687Z
M734.5,1690.3 734.1,1688.2 734.6,1684.7
M737,1692 735.8,1693.5 734.1,1695.3 730.5,1697.3 727.7,1698.1 727.1,1697.3 729.3,1695.2 732.9,1692.4 735.5,1692.1Z
M731.2,1695.4 732.2,1695 733.9,1694.1
M749.6,1679.6 750.5,1680.9 747.6,1683.5 744.8,1684.1 743.5,1684.6 742,1684.8 740.6,1684.3 741.8,1682 745.1,1681.3 748,1679.3Z
M739,1694.7 736.4,1694.4 738.1,1692.4 740.8,1690.8 743.4,1689.8 746.7,1688.8 747.7,1690.1 747.2,1692 744.8,1693.7 742.6,1694.3 740.2,1697.4 740,1695Z
M741.8,1692.2 738.3,1692.4 736.2,1693.7
M757.3,1678.3 756.1,1679.2 754.2,1680.1 753,1679.5 751.6,1678.9 753.7,1677.8 756.3,1677.6Z
M756.1,1678 757.5,1676.1 758.4,1673.4
M749.9,1688.2 749,1689 747.8,1684.3 746.9,1680.3 747.1,1677.6 748.5,1677.8 749.7,1683.8 751.3,1689Z
M747.5,1685.1 750.1,1685.9 751.5,1687.5
M748.2,1700.6 748,1697.8 748.4,1695.6 750,1693 751.7,1693.8 750.9,1696.6 750.3,1699.2Z
M758.4,1687.7 757.6,1687.9 758.2,1683.5 758.3,1679.1 759,1680.1 759.9,1678.9 759.9,1683.6 759,1686.6Z
M760.2,1684.5 760.3,1684.8 761.8,1686.7
M762.8,1683.3 761.5,1685.7 758.5,1688.7 755.3,1691.2 753.9,1691.3 749.9,1693.9 749.9,1692.4 753.4,1689.1 756.4,1687.3 760.2,1684.1Z
M755.7,1689.6 755.6,1688.1 755.8,1687.2
M755.2,1701.4 752.4,1697.6 749.9,1695 750.9,1692.7 751.4,1689.7 753.9,1693.6 755.9,1698.1Z
M753.2,1694.8 753.7,1696.6 753.5,1698.5
M765.4,1685.9 764.4,1685.6 763.4,1685.1 763.1,1683.8 763.5,1682.8 763.3,1679.9 765.1,1681.1 766.9,1681.8 767.5,1684.2 765.9,1685.1Z
M765,1685.2 766.2,1685.9 766.4,1687.1
M761.5,1687.4 763.3,1688.5 758.9,1692.8 755.1,1694.5 754.3,1692.9 755.6,1689.5 760.1,1686.7Z
M760,1701.3 758.4,1699.7 756.6,1696 756.8,1691.8 758.6,1691.6 760.5,1695.3 761.4,1700.1Z
M759.7,1697.8 759.9,1700.7 760.9,1702.3
M772.3,1687.4 772.1,1688.3 771.1,1689.6 769,1690.4 767.8,1690.5 766.3,1690.4 767.4,1688.9 769.8,1687.8 771.6,1687Z
M771.1,1687.5 772.9,1688.5 776.1,1689.5
M772.6,1691 771.9,1691.6 769.7,1691.4 768.1,1691.1 766.6,1690.7 765.6,1690.1 765.1,1689.4 765.4,1688.4 768.4,1689.3 770,1689.7 772.7,1690.1Z
M768.5,1700.7 767.7,1701 767.2,1698.5 767.1,1696.5 767.9,1696.2 768.9,1697.9 769.5,1700.7Z
M775.6,1686.2 774.4,1686.2 772,1684.9 769.9,1683.5 768.3,1682.1 769,1681.8 771.2,1683 772.7,1683.6 773.7,1684.6Z
M771.3,1684.1 771.4,1685.2 771,1686.8
M774.9,1699.2 774.5,1699.8 773.4,1696.4 772.7,1695.1 771.6,1692.4 771.9,1691.4 771.9,1689.9 772.2,1688.6 773.6,1692 774.6,1694.4 775.2,1697.1 774.9,1698Z
M770.6,1706.4 768.9,1701.6 768.3,1696.3 768.2,1691.2 769.4,1690.9 770.6,1695.8 771.5,1702.3Z
M770.1,1696.2 768.5,1698.5 766.3,1699.3
M786.4,1696.9 787.2,1698.8 784.9,1698.3 782.7,1695.4 779.9,1694.1 780.1,1693 779.4,1691.7 780.2,1691.2 781.9,1691.4 784.6,1692.9 786.9,1695.1 788.6,1697.3Z
M778.2,1707.7 777.4,1707.3 776.8,1706.5 776.2,1705.2 776.3,1703.8 777,1703.1 777.8,1703.6 778.3,1705 778.3,1705.8 778.3,1706.6Z
M777.5,1706.4 777.7,1708.1 778.1,1708.6
M781,1692.3 780.4,1692 782.1,1690.8 784.1,1689.3 787.7,1687.2 790.7,1686.3 787.8,1688.8 789.3,1688.6 787.5,1690 785.3,1691.7 783,1692.1 778.1,1694.9Z
M783.3,1690 781.8,1690 779.9,1688.9
M787.3,1703.7 786.2,1700.6 785.6,1700.4 785.2,1697.7 784.3,1694.7 784.8,1694.3 785,1692.8 785.8,1694 786.5,1697.3 787.6,1700.4 787.2,1701.5Z
M785.6,1697.3 786.1,1699.9 786.6,1702.5
M785.6,1704.4 784.2,1705.6 782.1,1703.6 780.9,1701.6 782.6,1701.2 784.5,1700.3 785.4,1702.8Z
M782.7,1702.9 784.3,1702.4 787.2,1701.7
M794.7,1693.6 794.2,1694.2 792.2,1694.3 788.7,1694.5 789.3,1693.1 787.7,1692 789.7,1691.3 793,1691.6 795.4,1692.6Z
M792.6,1694.3 793.3,1694.8 794.9,1696.3
M793.2,1706.6 792.4,1707.1 791.1,1707.5 789.7,1706.5 789.2,1705 790,1704.2 790.9,1703.7 792.1,1703.5 793.6,1704.3 793.5,1705.7Z
M803.2,1696.5 805.1,1697.9 802.6,1698.2 799.8,1697.7 798.1,1697.1 794.9,1697 793.3,1696 793.9,1695 795,1694.1 797.7,1694 799.9,1695.1 803.3,1694.6 805.6,1695.6Z
M800.9,1697.1 804.3,1696.1 806.6,1696.1
M803.9,1707 800.4,1709.8 793.8,1711.3 788.6,1710.5 789.5,1708.3 794.1,1707.2 800.3,1705.1Z
M796.3,1707 798.4,1708.2 800.8,1709.6
M800.4,1704.5 798.5,1704.2 801.3,1702.9 806,1701.4 810.7,1700.8 810.8,1701.9 807.4,1703.3 806.8,1704.5 802.4,1705.2 797.1,1706.5Z
M811.4,1710.2 810.8,1711.1 809.2,1711 807.6,1711.4 806.7,1710 805.5,1709.2 804.2,1707.8 806.7,1708 807.3,1707.2 808.7,1708 809.6,1708.5 811.8,1709.2Z
M824.7,1714.1 823.5,1714.8 821.3,1713.1 819.6,1710.4 817.9,1708.1 816.2,1705 816.7,1703.3 818.2,1702.9 819.7,1702.4 821.6,1706.8 822.5,1708.2 823.5,1709.8 823.5,1710.9Z
M674.5,1632.5 677.8,1631.2 681.4,1630.7 684.8,1630 688.1,1628.5 691.2,1628.2 694.3,1628 697.4,1629 700.5,1628.5 703.7,1628.4 706.8,1628.2 709.9,1628.6 713,1628.5 710.6,1630.9 707.3,1630.9 704.2,1631.6 700.9,1631.9 697.8,1632.6 694.5,1632.5 691.1,1634.1 688.1,1636.5 684.2,1637.8 680.1,1638.1 677.3,1635.3 674.5,1632.5Z
M692.9,1642.9 695.9,1642 698.4,1640.2 701.5,1639.5 704.2,1638.1 708.1,1637.5 711.7,1636.1 715.4,1634.9 718.9,1636 722.6,1636.5 720.5,1638.9 717.8,1640.8 715.4,1642.9 711.5,1644.9 707.4,1646.2 705.5,1649.2 704.2,1652.6 701,1653.6 697.8,1654.2 699.4,1651 701,1647.8 698.6,1645.7 695.8,1644.2 692.9,1642.9Z
M729.8,1654.2 736.3,1655 741.1,1662.2 736.3,1665.4 731.4,1660.6Z
M822.9,1689.5 827.7,1688.2 829.3,1694.3 834.9,1702.3 826.1,1700.7 822.9,1695.9Z
M834.9,1694.3 840.5,1693.5 838.1,1695.9Z"/>
</svg></body></html>
